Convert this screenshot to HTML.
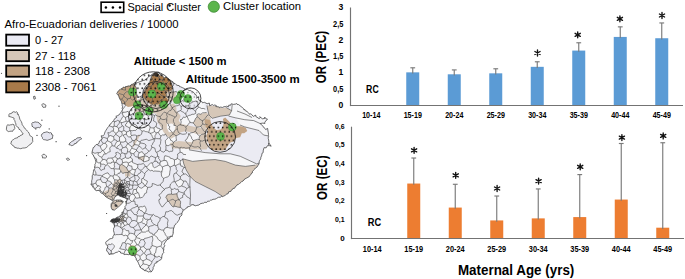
<!DOCTYPE html>
<html><head><meta charset="utf-8"><style>
html,body{margin:0;padding:0;background:#fff;}
svg{display:block;font-family:"Liberation Sans", sans-serif;}
</style></head><body>
<svg width="685" height="279" viewBox="0 0 685 279">
<rect width="685" height="279" fill="#fff"/>
<defs><clipPath id="land"><polygon points="156.5,72.3 158.8,72.0 159.5,73.7 160.8,74.7 161.9,75.2 162.5,75.9 164.3,78.0 166.0,77.1 167.2,77.9 168.2,78.4 168.9,79.3 170.6,80.2 171.5,81.1 173.0,81.8 173.7,83.4 175.0,83.4 175.8,84.4 177.0,85.3 179.2,85.6 179.6,86.7 180.6,86.8 182.3,87.6 184.0,88.4 185.0,89.0 185.1,89.6 187.2,89.0 189.1,90.6 190.1,90.4 191.7,91.3 193.0,91.9 194.5,93.3 194.9,94.5 195.7,94.4 197.0,96.9 196.6,98.2 198.4,96.8 198.9,100.1 201.2,101.3 201.5,101.2 202.5,102.8 203.3,102.6 204.4,102.3 207.1,103.7 207.1,103.8 209.3,103.0 209.7,105.8 212.3,104.5 213.5,105.4 214.7,105.0 216.3,105.5 215.8,106.5 219.3,107.0 219.7,107.8 220.7,107.0 222.3,107.5 224.2,106.6 225.8,106.7 226.4,106.0 228.4,106.8 228.8,105.1 230.5,105.3 231.1,103.8 233.6,104.4 235.8,104.0 236.6,103.5 237.1,104.4 238.6,104.6 241.9,107.2 242.4,107.5 243.3,108.3 244.0,109.9 244.9,109.5 245.3,110.7 247.1,111.4 247.4,112.1 250.1,114.4 250.5,113.7 251.4,114.3 253.3,116.4 255.7,115.1 255.8,116.5 257.0,117.2 259.1,118.7 260.2,117.7 259.7,116.7 262.5,118.8 264.8,118.4 264.7,117.1 266.0,118.8 267.5,119.3 266.7,119.9 264.8,122.2 264.9,123.5 262.8,123.1 260.3,123.5 261.5,124.8 263.1,126.4 262.8,126.5 265.1,128.5 265.6,129.5 267.6,128.4 268.3,132.9 268.5,134.6 268.2,136.1 268.7,136.7 268.0,138.1 268.4,138.7 268.8,141.1 269.0,144.2 268.1,144.1 269.3,143.6 271.2,146.2 269.2,145.6 267.4,145.7 266.1,147.9 264.8,147.7 264.1,147.6 263.1,151.0 263.3,152.4 262.3,152.9 261.9,154.1 261.6,155.9 260.9,157.1 260.7,158.9 260.0,160.0 259.6,160.5 259.2,161.8 259.1,163.6 258.3,165.1 257.4,166.0 257.2,167.0 255.7,167.8 254.8,169.0 253.4,170.4 252.5,171.4 252.5,172.7 251.7,172.9 251.1,174.1 250.1,175.4 249.4,176.5 248.0,177.3 246.4,178.2 244.5,179.1 244.1,180.0 242.5,181.3 242.5,180.9 240.9,182.5 239.3,183.7 238.7,184.3 237.4,184.5 236.5,186.0 235.5,186.5 234.7,188.2 232.9,188.5 232.3,189.7 231.2,190.3 230.9,191.4 228.7,191.8 228.0,193.9 226.9,193.8 226.1,194.5 225.7,195.1 223.7,196.1 222.7,196.6 221.3,196.4 220.4,197.2 218.4,197.3 216.7,198.3 216.1,198.8 214.8,199.2 213.0,199.3 211.7,200.1 210.5,200.2 209.3,201.3 207.7,201.1 206.6,202.5 204.8,202.2 203.5,203.2 202.2,203.2 200.1,203.9 200.1,203.9 199.0,205.0 196.8,205.4 195.8,205.8 193.7,205.2 193.7,204.7 191.5,204.7 191.2,205.5 189.8,206.3 187.3,206.9 187.2,207.9 186.2,208.2 184.5,209.7 183.7,209.6 182.9,211.1 182.1,212.7 181.7,214.0 182.0,214.9 180.9,216.1 179.7,217.0 179.4,219.3 178.7,220.4 178.0,221.7 176.9,222.7 176.1,223.5 175.5,224.7 174.4,225.4 174.2,226.9 173.4,229.0 173.3,230.1 173.1,232.6 173.3,232.4 173.0,234.1 172.2,235.8 172.3,236.6 170.6,236.1 169.9,237.9 168.9,238.7 166.9,239.8 165.3,242.1 164.7,243.0 164.0,244.4 164.8,245.7 163.9,247.1 163.7,248.4 163.8,249.4 163.4,251.3 163.9,252.3 162.6,253.8 161.9,255.7 161.8,257.1 161.6,258.5 160.7,259.9 159.3,260.3 158.6,261.2 156.5,261.7 157.1,262.6 155.1,263.2 154.3,264.5 154.2,266.0 153.1,267.6 153.2,268.8 152.3,270.7 151.1,272.0 149.8,271.6 148.2,272.1 147.3,271.1 145.5,270.7 144.4,270.6 143.7,269.7 142.7,269.2 141.7,268.5 140.1,267.3 139.5,265.2 139.2,265.0 138.6,263.6 138.0,262.0 137.1,260.5 136.3,260.0 136.1,257.9 134.8,256.7 134.7,255.5 134.0,255.4 131.7,255.6 131.3,255.1 129.4,254.4 128.4,254.7 127.0,254.3 125.2,254.4 124.3,254.5 122.9,253.4 120.6,253.0 120.4,251.8 118.6,251.2 117.4,252.2 116.0,252.4 114.3,253.4 112.9,254.1 112.2,253.9 110.4,254.2 109.0,254.4 108.3,252.4 106.8,251.2 106.6,249.8 107.1,248.1 107.9,246.9 107.2,245.6 106.0,244.2 105.7,242.3 106.4,241.4 108.6,240.1 109.4,238.9 111.7,238.5 112.9,238.0 113.0,236.4 114.0,235.1 114.3,233.7 114.1,232.7 113.5,230.6 113.6,229.4 113.6,228.4 114.5,227.0 114.3,225.0 112.9,222.9 111.6,222.1 110.3,221.5 111.5,219.5 113.4,218.8 114.8,218.8 116.0,218.0 117.0,217.1 118.6,217.1 120.0,215.5 122.1,214.4 121.9,212.3 122.9,212.2 123.7,210.8 123.9,209.7 125.1,207.9 125.0,206.4 126.3,205.1 126.0,202.8 125.5,201.5 126.9,201.1 126.9,199.2 128.5,199.0 126.0,198.5 124.8,197.8 123.0,197.2 121.0,196.6 120.0,196.3 118.1,194.7 116.5,195.7 115.4,196.7 114.3,197.9 113.8,200.0 112.2,200.6 111.4,200.0 110.0,199.0 109.1,198.8 106.8,197.4 106.0,197.0 104.7,195.7 104.2,194.9 102.5,193.6 100.9,192.9 100.4,192.1 99.3,190.4 97.9,190.4 96.6,190.7 95.0,189.8 94.2,188.5 93.2,187.5 92.3,185.9 91.1,184.7 91.4,183.3 91.7,182.8 91.7,180.7 92.1,179.3 92.3,178.0 92.2,175.8 92.9,174.7 93.2,172.9 93.5,171.2 93.5,170.2 94.8,168.6 94.5,167.0 95.0,165.9 94.9,164.4 95.5,163.4 96.0,162.0 95.4,159.9 95.3,159.6 94.3,157.3 93.6,156.1 93.3,154.9 92.0,153.9 92.1,151.9 92.3,151.0 92.9,148.9 93.2,147.6 94.2,147.2 95.0,145.8 96.2,144.5 97.5,144.4 98.8,143.6 99.1,142.7 99.5,141.1 100.7,140.1 102.2,139.1 101.2,135.8 102.9,135.8 104.5,134.3 104.5,133.4 105.2,131.6 105.9,130.4 107.1,128.5 107.8,127.4 108.9,126.3 109.8,124.5 111.0,123.7 111.5,122.7 112.8,121.5 113.6,120.6 114.7,118.6 116.8,117.3 115.8,116.4 117.7,115.6 118.9,115.0 120.2,113.3 120.7,112.6 121.3,111.7 122.6,109.7 122.1,108.7 122.6,106.7 122.2,105.7 122.2,104.4 121.6,102.8 121.3,101.1 120.5,100.1 119.7,98.8 119.3,97.9 118.7,95.9 117.6,94.6 116.7,93.9 117.7,91.9 118.4,90.8 120.0,89.6 120.7,88.9 122.5,88.4 123.2,87.1 124.6,87.4 125.8,86.5 126.3,86.6 129.1,85.8 129.8,86.2 131.4,84.4 132.2,84.3 133.5,83.8 134.7,82.5 136.4,82.8 137.5,82.6 138.7,82.2 140.3,81.5 140.9,81.4 143.0,80.5 144.3,80.2 144.7,80.2 146.2,79.0 146.9,78.6 148.1,77.5 148.9,76.1 150.9,75.6 151.5,74.7 152.8,73.9 154.2,72.9 154.8,72.8"/><polygon points="111.1,203.8 113.3,201.1 116.5,200.0 120.8,200.0 123.5,201.6 120.8,204.9 117.6,207.6 114.3,210.2 112.2,209.7 111.0,207.0"/></clipPath>
<pattern id="dots" x="1.9" y="0.2" width="4.35" height="8.7" patternUnits="userSpaceOnUse"><circle cx="1.1" cy="1.1" r="0.8" fill="#000"/><circle cx="3.275" cy="5.45" r="0.8" fill="#000"/></pattern></defs>
<polygon points="8.9,114.7 9.6,113.6 10.8,113.6 12.2,112.9 12.6,112.0 13.8,111.7 15.5,112.3 16.7,111.7 17.3,112.3 17.4,114.3 18.3,114.1 18.7,115.7 19.2,116.5 19.5,118.0 20.0,119.6 20.7,120.6 21.3,121.6 22.0,123.3 21.9,124.1 22.7,125.3 23.6,126.5 23.9,127.5 25.2,128.4 25.6,129.3 26.4,129.9 27.6,131.4 28.3,132.0 29.3,133.7 29.5,134.4 29.8,135.5 31.1,136.3 32.5,137.3 32.6,138.0 32.6,140.0 32.8,141.5 32.2,142.3 31.0,144.0 30.1,144.5 28.6,145.5 27.6,146.7 27.0,147.2 26.2,147.6 24.4,148.0 22.8,148.0 22.3,148.2 20.7,148.7 19.6,148.5 18.6,148.2 17.1,148.2 16.0,147.6 14.8,147.7 14.3,146.5 12.8,145.7 12.7,145.2 11.3,144.2 10.8,143.8 11.3,142.0 11.5,141.0 12.2,140.4 13.8,139.3 14.6,138.6 16.2,138.0 17.3,138.0 18.3,136.5 19.7,136.4 20.2,135.5 21.9,134.9 23.2,134.0 22.2,132.6 21.3,131.4 20.7,130.4 20.0,129.5 19.1,129.5 18.5,127.5 18.1,127.4 16.7,126.5 16.0,125.6 15.9,123.9 15.3,122.6 15.2,122.2 14.8,120.6 14.0,119.7 14.1,118.2 12.8,117.6 11.6,117.2 9.8,116.6 8.9,116.7" fill="#f0f0f2" stroke="#2e2e2e" stroke-width="0.65"/>
<polygon points="6.9,125.5 7.8,124.8 9.2,125.2 10.5,124.8 12.0,124.7 12.5,124.3 13.8,124.5 14.4,126.4 14.6,126.7 14.8,128.5 13.7,130.0 13.3,129.8 12.5,131.4 11.1,131.1 9.6,131.4 8.5,131.6 6.7,130.4 6.4,129.4 6.5,128.0 6.7,126.5" fill="#f0f0f2" stroke="#2e2e2e" stroke-width="0.65"/>
<polygon points="31.8,123.5 32.6,122.5 33.8,122.5 35.0,121.8 36.7,122.2 37.5,122.2 39.0,122.8 40.0,124.3 40.6,124.2 41.3,125.5 40.1,127.3 39.5,128.0 38.4,127.4 37.2,127.7 35.9,128.0 35.0,128.2 33.8,127.8 33.0,126.7 32.0,126.3 32.0,125.2" fill="#e6e6f0" stroke="#2e2e2e" stroke-width="0.65"/>
<polygon points="41.4,135.5 41.8,134.1 42.7,133.7 43.5,132.6 45.2,132.4 46.0,131.9 47.5,132.0 49.3,132.9 50.5,132.6 51.4,133.0 51.8,134.8 53.0,135.0 52.9,135.6 52.6,136.9 52.4,138.5 51.1,138.8 50.0,139.5 49.1,139.6 48.0,140.2 47.0,140.3 45.2,139.8 44.3,139.7 43.5,139.6 42.5,138.6 42.4,137.4 41.6,136.4" fill="#e6e6f0" stroke="#2e2e2e" stroke-width="0.65"/>
<polygon points="68.9,144.8 70.1,144.8 71.9,145.8 72.8,145.3 74.3,144.5 74.6,143.5 76.1,143.6 76.9,141.9 77.4,142.2 78.8,140.4 79.7,139.9 80.5,139.4 81.7,138.9 80.4,137.3 79.0,137.8 78.0,137.7 76.8,138.2 75.9,139.3 74.2,139.7 73.8,140.6 72.5,141.1 71.3,141.8 70.8,142.3 69.8,143.0" fill="#e6e6f0" stroke="#2e2e2e" stroke-width="0.65"/>
<polygon points="41.8,104.8 42.6,103.8 44.0,103.8 44.9,104.6 46.0,105.2 45.5,107.3 44.6,107.3 43.0,107.3 42.2,105.8" fill="#f0f0f2" stroke="#2e2e2e" stroke-width="0.65"/>
<polygon points="33.5,96.5 35.0,96.2 35.0,96.9 35.6,98.5 34.0,99.3 33.7,98.0" fill="#f0f0f2" stroke="#2e2e2e" stroke-width="0.65"/>
<polygon points="42.0,155.3 43.0,154.3 44.5,154.3 45.5,155.3 46.6,156.0 46.4,157.1 45.5,158.2 43.8,157.8 42.5,158.0 42.5,157.2" fill="#f0f0f2" stroke="#2e2e2e" stroke-width="0.65"/>
<polygon points="66.3,158.8 67.1,158.1 68.5,158.3 69.6,159.6 68.5,160.1 67.5,160.4" fill="#f0f0f2" stroke="#2e2e2e" stroke-width="0.65"/>
<circle cx="59" cy="106.2" r="0.6" fill="#333"/>
<circle cx="41.9" cy="120.2" r="0.6" fill="#333"/>
<circle cx="35.8" cy="128.9" r="0.6" fill="#333"/>
<circle cx="37" cy="135.4" r="0.6" fill="#333"/>
<circle cx="56.1" cy="141.7" r="0.6" fill="#333"/>
<circle cx="49.2" cy="128.9" r="0.6" fill="#333"/>
<circle cx="86.6" cy="155.6" r="0.6" fill="#333"/>
<circle cx="106.6" cy="213.5" r="0.6" fill="#333"/>
<polygon points="156.5,72.3 158.8,72.0 159.5,73.7 160.8,74.7 161.9,75.2 162.5,75.9 164.3,78.0 166.0,77.1 167.2,77.9 168.2,78.4 168.9,79.3 170.6,80.2 171.5,81.1 173.0,81.8 173.7,83.4 175.0,83.4 175.8,84.4 177.0,85.3 179.2,85.6 179.6,86.7 180.6,86.8 182.3,87.6 184.0,88.4 185.0,89.0 185.1,89.6 187.2,89.0 189.1,90.6 190.1,90.4 191.7,91.3 193.0,91.9 194.5,93.3 194.9,94.5 195.7,94.4 197.0,96.9 196.6,98.2 198.4,96.8 198.9,100.1 201.2,101.3 201.5,101.2 202.5,102.8 203.3,102.6 204.4,102.3 207.1,103.7 207.1,103.8 209.3,103.0 209.7,105.8 212.3,104.5 213.5,105.4 214.7,105.0 216.3,105.5 215.8,106.5 219.3,107.0 219.7,107.8 220.7,107.0 222.3,107.5 224.2,106.6 225.8,106.7 226.4,106.0 228.4,106.8 228.8,105.1 230.5,105.3 231.1,103.8 233.6,104.4 235.8,104.0 236.6,103.5 237.1,104.4 238.6,104.6 241.9,107.2 242.4,107.5 243.3,108.3 244.0,109.9 244.9,109.5 245.3,110.7 247.1,111.4 247.4,112.1 250.1,114.4 250.5,113.7 251.4,114.3 253.3,116.4 255.7,115.1 255.8,116.5 257.0,117.2 259.1,118.7 260.2,117.7 259.7,116.7 262.5,118.8 264.8,118.4 264.7,117.1 266.0,118.8 267.5,119.3 266.7,119.9 264.8,122.2 264.9,123.5 262.8,123.1 260.3,123.5 261.5,124.8 263.1,126.4 262.8,126.5 265.1,128.5 265.6,129.5 267.6,128.4 268.3,132.9 268.5,134.6 268.2,136.1 268.7,136.7 268.0,138.1 268.4,138.7 268.8,141.1 269.0,144.2 268.1,144.1 269.3,143.6 271.2,146.2 269.2,145.6 267.4,145.7 266.1,147.9 264.8,147.7 264.1,147.6 263.1,151.0 263.3,152.4 262.3,152.9 261.9,154.1 261.6,155.9 260.9,157.1 260.7,158.9 260.0,160.0 259.6,160.5 259.2,161.8 259.1,163.6 258.3,165.1 257.4,166.0 257.2,167.0 255.7,167.8 254.8,169.0 253.4,170.4 252.5,171.4 252.5,172.7 251.7,172.9 251.1,174.1 250.1,175.4 249.4,176.5 248.0,177.3 246.4,178.2 244.5,179.1 244.1,180.0 242.5,181.3 242.5,180.9 240.9,182.5 239.3,183.7 238.7,184.3 237.4,184.5 236.5,186.0 235.5,186.5 234.7,188.2 232.9,188.5 232.3,189.7 231.2,190.3 230.9,191.4 228.7,191.8 228.0,193.9 226.9,193.8 226.1,194.5 225.7,195.1 223.7,196.1 222.7,196.6 221.3,196.4 220.4,197.2 218.4,197.3 216.7,198.3 216.1,198.8 214.8,199.2 213.0,199.3 211.7,200.1 210.5,200.2 209.3,201.3 207.7,201.1 206.6,202.5 204.8,202.2 203.5,203.2 202.2,203.2 200.1,203.9 200.1,203.9 199.0,205.0 196.8,205.4 195.8,205.8 193.7,205.2 193.7,204.7 191.5,204.7 191.2,205.5 189.8,206.3 187.3,206.9 187.2,207.9 186.2,208.2 184.5,209.7 183.7,209.6 182.9,211.1 182.1,212.7 181.7,214.0 182.0,214.9 180.9,216.1 179.7,217.0 179.4,219.3 178.7,220.4 178.0,221.7 176.9,222.7 176.1,223.5 175.5,224.7 174.4,225.4 174.2,226.9 173.4,229.0 173.3,230.1 173.1,232.6 173.3,232.4 173.0,234.1 172.2,235.8 172.3,236.6 170.6,236.1 169.9,237.9 168.9,238.7 166.9,239.8 165.3,242.1 164.7,243.0 164.0,244.4 164.8,245.7 163.9,247.1 163.7,248.4 163.8,249.4 163.4,251.3 163.9,252.3 162.6,253.8 161.9,255.7 161.8,257.1 161.6,258.5 160.7,259.9 159.3,260.3 158.6,261.2 156.5,261.7 157.1,262.6 155.1,263.2 154.3,264.5 154.2,266.0 153.1,267.6 153.2,268.8 152.3,270.7 151.1,272.0 149.8,271.6 148.2,272.1 147.3,271.1 145.5,270.7 144.4,270.6 143.7,269.7 142.7,269.2 141.7,268.5 140.1,267.3 139.5,265.2 139.2,265.0 138.6,263.6 138.0,262.0 137.1,260.5 136.3,260.0 136.1,257.9 134.8,256.7 134.7,255.5 134.0,255.4 131.7,255.6 131.3,255.1 129.4,254.4 128.4,254.7 127.0,254.3 125.2,254.4 124.3,254.5 122.9,253.4 120.6,253.0 120.4,251.8 118.6,251.2 117.4,252.2 116.0,252.4 114.3,253.4 112.9,254.1 112.2,253.9 110.4,254.2 109.0,254.4 108.3,252.4 106.8,251.2 106.6,249.8 107.1,248.1 107.9,246.9 107.2,245.6 106.0,244.2 105.7,242.3 106.4,241.4 108.6,240.1 109.4,238.9 111.7,238.5 112.9,238.0 113.0,236.4 114.0,235.1 114.3,233.7 114.1,232.7 113.5,230.6 113.6,229.4 113.6,228.4 114.5,227.0 114.3,225.0 112.9,222.9 111.6,222.1 110.3,221.5 111.5,219.5 113.4,218.8 114.8,218.8 116.0,218.0 117.0,217.1 118.6,217.1 120.0,215.5 122.1,214.4 121.9,212.3 122.9,212.2 123.7,210.8 123.9,209.7 125.1,207.9 125.0,206.4 126.3,205.1 126.0,202.8 125.5,201.5 126.9,201.1 126.9,199.2 128.5,199.0 126.0,198.5 124.8,197.8 123.0,197.2 121.0,196.6 120.0,196.3 118.1,194.7 116.5,195.7 115.4,196.7 114.3,197.9 113.8,200.0 112.2,200.6 111.4,200.0 110.0,199.0 109.1,198.8 106.8,197.4 106.0,197.0 104.7,195.7 104.2,194.9 102.5,193.6 100.9,192.9 100.4,192.1 99.3,190.4 97.9,190.4 96.6,190.7 95.0,189.8 94.2,188.5 93.2,187.5 92.3,185.9 91.1,184.7 91.4,183.3 91.7,182.8 91.7,180.7 92.1,179.3 92.3,178.0 92.2,175.8 92.9,174.7 93.2,172.9 93.5,171.2 93.5,170.2 94.8,168.6 94.5,167.0 95.0,165.9 94.9,164.4 95.5,163.4 96.0,162.0 95.4,159.9 95.3,159.6 94.3,157.3 93.6,156.1 93.3,154.9 92.0,153.9 92.1,151.9 92.3,151.0 92.9,148.9 93.2,147.6 94.2,147.2 95.0,145.8 96.2,144.5 97.5,144.4 98.8,143.6 99.1,142.7 99.5,141.1 100.7,140.1 102.2,139.1 101.2,135.8 102.9,135.8 104.5,134.3 104.5,133.4 105.2,131.6 105.9,130.4 107.1,128.5 107.8,127.4 108.9,126.3 109.8,124.5 111.0,123.7 111.5,122.7 112.8,121.5 113.6,120.6 114.7,118.6 116.8,117.3 115.8,116.4 117.7,115.6 118.9,115.0 120.2,113.3 120.7,112.6 121.3,111.7 122.6,109.7 122.1,108.7 122.6,106.7 122.2,105.7 122.2,104.4 121.6,102.8 121.3,101.1 120.5,100.1 119.7,98.8 119.3,97.9 118.7,95.9 117.6,94.6 116.7,93.9 117.7,91.9 118.4,90.8 120.0,89.6 120.7,88.9 122.5,88.4 123.2,87.1 124.6,87.4 125.8,86.5 126.3,86.6 129.1,85.8 129.8,86.2 131.4,84.4 132.2,84.3 133.5,83.8 134.7,82.5 136.4,82.8 137.5,82.6 138.7,82.2 140.3,81.5 140.9,81.4 143.0,80.5 144.3,80.2 144.7,80.2 146.2,79.0 146.9,78.6 148.1,77.5 148.9,76.1 150.9,75.6 151.5,74.7 152.8,73.9 154.2,72.9 154.8,72.8" fill="#ebebf3"/>
<g clip-path="url(#land)">
<polygon points="107.3,164.6 110.9,168.6 113.7,168.6 114.8,162.7 113.8,162.2 107.6,163.9 107.3,164.6" fill="#f6f6f8" stroke="#f6f6f8" stroke-width="0.3"/>
<polygon points="165.5,130.8 165.3,133.8 168.1,137.7 169.0,137.7 173.0,133.9 173.0,133.6 168.9,129.0 165.5,130.8" fill="#f6f6f8" stroke="#f6f6f8" stroke-width="0.3"/>
<polygon points="130.3,244.4 132.9,248.0 136.9,244.7 133.8,240.3 132.6,240.5 130.3,244.4" fill="#f6f6f8" stroke="#f6f6f8" stroke-width="0.3"/>
<polygon points="170.5,236.4 170.6,236.1 170.9,236.2 172.4,235.5 173.0,234.1 173.3,232.4 173.1,232.6 173.3,230.1 173.4,229.0 173.7,228.4 167.1,227.4 163.8,230.1 167.4,238.1 170.5,236.4" fill="#f6f6f8" stroke="#f6f6f8" stroke-width="0.3"/>
<polygon points="153.1,97.4 151.5,102.2 153.3,105.5 158.7,102.9 158.8,101.4 154.8,96.5 153.1,97.4" fill="#f6f6f8" stroke="#f6f6f8" stroke-width="0.3"/>
<polygon points="114.1,169.0 114.3,174.9 116.7,175.0 120.8,171.1 120.7,170.6 119.4,169.0 114.1,169.0" fill="#f6f6f8" stroke="#f6f6f8" stroke-width="0.3"/>
<polygon points="202.6,120.6 208.5,115.0 206.5,112.5 196.9,114.5 197.2,116.8 202.6,120.6" fill="#d6c7b8" stroke="#d6c7b8" stroke-width="0.3"/>
<polygon points="138.3,192.7 139.9,197.7 140.2,197.9 143.9,195.8 144.7,193.6 141.8,191.0 138.3,192.7" fill="#f6f6f8" stroke="#f6f6f8" stroke-width="0.3"/>
<polygon points="129.4,197.6 131.3,201.4 133.5,201.2 135.3,197.9 133.7,194.6 132.7,194.1 131.1,194.3 129.7,196.1 129.6,196.5 129.4,197.6" fill="#f6f6f8" stroke="#f6f6f8" stroke-width="0.3"/>
<polygon points="185.6,127.1 190.0,122.5 186.9,116.6 186.6,116.4 180.5,119.5 180.6,124.9 185.6,127.1" fill="#f6f6f8" stroke="#f6f6f8" stroke-width="0.3"/>
<polygon points="111.3,252.9 113.0,254.0 114.3,253.4 116.0,252.4 117.4,252.2 118.6,251.2 118.9,251.3 119.5,248.6 114.4,246.2 111.3,251.5 111.3,252.9" fill="#f6f6f8" stroke="#f6f6f8" stroke-width="0.3"/>
<polygon points="102.5,193.6 102.5,193.6 104.2,194.9 104.7,195.7 106.0,197.0 106.5,197.3 106.8,196.6 105.4,193.5 103.1,192.7 102.5,193.6" fill="#f6f6f8" stroke="#f6f6f8" stroke-width="0.3"/>
<polygon points="163.8,249.5 163.8,249.4 163.7,248.4 163.9,247.1 164.8,245.7 164.0,244.4 164.7,243.0 165.3,242.1 166.9,239.8 168.2,239.1 167.4,238.1 162.0,242.4 160.7,246.1 163.8,249.5" fill="#f6f6f8" stroke="#f6f6f8" stroke-width="0.3"/>
<polygon points="131.8,146.8 128.2,143.9 127.6,143.8 125.6,147.1 127.4,151.8 129.8,151.9 132.0,148.0 131.8,146.8" fill="#f6f6f8" stroke="#f6f6f8" stroke-width="0.3"/>
<polygon points="125.4,250.2 124.3,254.4 125.2,254.4 127.0,254.3 128.4,254.7 129.4,254.4 129.6,254.5 131.9,250.9 126.1,249.6 125.4,250.2" fill="#f6f6f8" stroke="#f6f6f8" stroke-width="0.3"/>
<polygon points="141.8,188.2 141.8,191.0 144.7,193.6 146.6,192.8 147.6,187.4 145.4,185.7 145.4,185.7 141.8,188.2" fill="#f6f6f8" stroke="#f6f6f8" stroke-width="0.3"/>
<polygon points="198.5,107.1 205.3,109.1 203.6,102.5 203.3,102.6 202.5,102.8 201.5,101.2 201.2,101.3 200.0,100.7 197.8,101.8 198.5,107.1" fill="#f6f6f8" stroke="#f6f6f8" stroke-width="0.3"/>
<polygon points="112.2,243.6 114.2,245.6 119.5,241.0 115.8,237.7 111.7,240.8 112.2,243.6" fill="#f6f6f8" stroke="#f6f6f8" stroke-width="0.3"/>
<polygon points="137.5,115.5 137.6,115.7 141.1,118.0 141.8,117.9 144.1,113.8 143.9,112.7 139.9,112.2 137.5,115.5" fill="#f6f6f8" stroke="#f6f6f8" stroke-width="0.3"/>
<polygon points="132.2,169.1 135.1,169.8 137.6,167.9 137.1,164.6 136.6,164.0 135.5,163.7 131.8,166.1 132.2,169.1" fill="#f6f6f8" stroke="#f6f6f8" stroke-width="0.3"/>
<polygon points="144.1,270.1 144.4,270.6 144.8,270.6 144.8,270.6 144.1,270.1" fill="#f6f6f8" stroke="#f6f6f8" stroke-width="0.3"/>
<polygon points="114.7,179.8 118.0,180.5 119.8,179.2 119.8,177.5 116.7,175.0 114.3,174.9 113.0,176.1 113.7,178.9 114.7,179.8" fill="#f6f6f8" stroke="#f6f6f8" stroke-width="0.3"/>
<polygon points="175.7,200.8 178.8,199.8 176.9,193.8 172.2,194.5 172.9,199.2 175.7,200.8" fill="#d6c7b8" stroke="#d6c7b8" stroke-width="0.3"/>
<polygon points="186.1,98.5 189.5,103.4 195.7,101.1 193.0,93.0 191.2,93.1 186.1,98.5" fill="#f6f6f8" stroke="#f6f6f8" stroke-width="0.3"/>
<polygon points="158.3,132.4 160.9,136.1 165.3,133.8 165.5,130.8 162.4,129.1 160.1,129.8 158.3,132.4" fill="#f6f6f8" stroke="#f6f6f8" stroke-width="0.3"/>
<polygon points="128.7,230.7 122.4,229.3 122.1,234.5 122.4,234.9 127.6,236.0 129.2,233.8 128.7,230.7" fill="#f6f6f8" stroke="#f6f6f8" stroke-width="0.3"/>
<polygon points="125.7,105.3 127.2,106.0 132.7,103.2 132.4,100.0 130.4,98.2 127.7,98.9 124.8,103.9 125.7,105.3" fill="#f6f6f8" stroke="#f6f6f8" stroke-width="0.3"/>
<polygon points="123.4,116.2 125.4,117.5 130.1,114.7 128.1,111.3 122.1,113.3 122.1,113.3 123.4,116.2" fill="#f6f6f8" stroke="#f6f6f8" stroke-width="0.3"/>
<polygon points="119.4,91.1 121.3,89.2 121.3,88.7 120.7,88.9 120.0,89.6 118.6,90.6 119.4,91.1" fill="#f6f6f8" stroke="#f6f6f8" stroke-width="0.3"/>
<polygon points="122.7,185.3 122.7,185.3 124.4,186.7 125.1,186.5 125.1,186.1 124.5,185.1 123.1,184.9 122.7,185.3" fill="#f6f6f8" stroke="#f6f6f8" stroke-width="0.3"/>
<polygon points="199.7,136.3 205.2,132.4 200.8,126.3 196.8,127.1 195.1,131.3 199.7,136.3" fill="#f6f6f8" stroke="#f6f6f8" stroke-width="0.3"/>
<polygon points="144.6,154.3 142.2,151.6 139.2,152.7 138.2,157.2 138.4,157.5 144.4,156.1 144.7,155.8 144.6,154.3" fill="#f6f6f8" stroke="#f6f6f8" stroke-width="0.3"/>
<polygon points="190.4,146.1 190.5,146.0 193.3,140.5 189.4,133.9 188.4,133.7 186.0,141.7 190.4,146.1" fill="#f6f6f8" stroke="#f6f6f8" stroke-width="0.3"/>
<polygon points="128.3,121.4 127.2,121.4 125.7,126.0 129.7,128.0 131.6,125.1 128.3,121.4" fill="#f6f6f8" stroke="#f6f6f8" stroke-width="0.3"/>
<polygon points="143.1,263.8 140.0,267.1 140.1,267.3 141.7,268.5 142.7,269.2 143.7,269.7 144.1,270.1 144.8,270.6 148.6,267.5 149.0,265.7 143.1,263.8" fill="#f6f6f8" stroke="#f6f6f8" stroke-width="0.3"/>
<polygon points="139.2,100.8 135.5,98.4 132.4,100.0 132.7,103.2 135.0,105.2 136.9,104.5 139.2,100.8" fill="#f6f6f8" stroke="#f6f6f8" stroke-width="0.3"/>
<polygon points="162.0,242.4 167.4,238.1 167.4,238.1 163.8,230.1 159.2,229.0 154.1,234.8 162.0,242.4" fill="#f6f6f8" stroke="#f6f6f8" stroke-width="0.3"/>
<polygon points="135.4,253.7 134.7,255.5 134.8,256.7 136.1,257.9 136.3,260.0 137.1,260.5 137.3,260.9 140.2,258.8 140.1,256.3 135.4,253.7" fill="#f6f6f8" stroke="#f6f6f8" stroke-width="0.3"/>
<polygon points="180.6,160.5 177.2,158.1 174.4,159.8 174.2,165.2 175.2,165.7 180.4,164.0 180.6,160.5" fill="#f6f6f8" stroke="#f6f6f8" stroke-width="0.3"/>
<polygon points="169.8,166.6 174.2,165.2 174.4,159.8 170.4,158.3 167.6,163.1 167.9,165.2 169.8,166.6" fill="#f6f6f8" stroke="#f6f6f8" stroke-width="0.3"/>
<polygon points="150.3,133.2 153.6,139.0 154.1,139.1 154.4,139.0 156.3,132.8 154.5,131.6 150.3,133.2" fill="#f6f6f8" stroke="#f6f6f8" stroke-width="0.3"/>
<polygon points="146.7,249.4 143.7,246.4 140.6,247.4 140.2,249.3 143.2,253.7 144.3,253.7 146.7,249.4" fill="#f6f6f8" stroke="#f6f6f8" stroke-width="0.3"/>
<polygon points="119.3,221.9 117.5,223.9 117.2,225.7 120.9,227.8 121.0,224.5 119.3,221.9" fill="#f6f6f8" stroke="#f6f6f8" stroke-width="0.3"/>
<polygon points="161.8,171.3 162.0,171.5 169.7,172.2 169.8,166.6 167.9,165.2 162.3,167.0 161.8,171.3" fill="#f6f6f8" stroke="#f6f6f8" stroke-width="0.3"/>
<polygon points="146.2,224.9 148.5,219.7 143.7,217.4 141.5,222.1 145.9,224.9 146.2,224.9" fill="#f6f6f8" stroke="#f6f6f8" stroke-width="0.3"/>
<polygon points="100.5,190.9 99.7,186.0 98.6,185.8 94.9,189.6 95.0,189.8 96.6,190.7 97.9,190.4 99.3,190.4 99.7,191.0 100.5,190.9" fill="#f6f6f8" stroke="#f6f6f8" stroke-width="0.3"/>
<polygon points="166.6,122.3 166.8,120.3 160.5,118.6 158.7,122.4 162.4,124.8 166.6,122.3" fill="#f6f6f8" stroke="#f6f6f8" stroke-width="0.3"/>
<polygon points="142.4,106.9 142.2,106.1 136.9,104.5 135.0,105.2 135.2,108.7 138.8,109.7 142.4,106.9" fill="#d6c7b8" stroke="#d6c7b8" stroke-width="0.3"/>
<polygon points="100.7,185.5 102.0,182.1 100.7,179.5 96.8,180.3 95.8,183.1 98.6,185.8 99.7,186.0 100.7,185.5" fill="#f6f6f8" stroke="#f6f6f8" stroke-width="0.3"/>
<polygon points="103.1,192.7 103.0,192.6 100.5,190.9 99.7,191.0 100.4,192.1 100.9,192.9 102.5,193.6 103.1,192.7" fill="#f6f6f8" stroke="#f6f6f8" stroke-width="0.3"/>
<polygon points="114.1,139.7 113.6,136.7 108.9,136.1 107.4,138.6 107.6,140.9 111.1,142.5 114.1,139.7" fill="#f6f6f8" stroke="#f6f6f8" stroke-width="0.3"/>
<polygon points="180.2,179.1 175.1,181.9 178.6,187.0 181.6,186.0 183.3,181.2 180.2,179.1" fill="#f6f6f8" stroke="#f6f6f8" stroke-width="0.3"/>
<polygon points="154.5,167.7 152.2,163.1 150.8,162.7 146.9,166.7 148.7,169.5 153.5,171.4 153.8,171.1 154.5,167.7" fill="#f6f6f8" stroke="#f6f6f8" stroke-width="0.3"/>
<polygon points="100.7,163.9 100.2,162.9 96.7,161.6 96.0,162.1 95.5,163.4 94.9,164.4 95.0,165.9 94.5,167.0 94.6,167.4 99.4,168.0 100.7,163.9" fill="#f6f6f8" stroke="#f6f6f8" stroke-width="0.3"/>
<polygon points="127.3,198.3 125.6,197.1 125.1,198.0 126.0,198.5 126.6,198.6 127.2,198.5 127.3,198.3" fill="#f6f6f8" stroke="#f6f6f8" stroke-width="0.3"/>
<polygon points="120.7,170.6 120.8,171.1 122.7,173.4 128.1,172.5 128.5,172.0 128.6,171.7 126.5,167.8 126.2,167.8 120.7,170.6" fill="#d6c7b8" stroke="#d6c7b8" stroke-width="0.3"/>
<polygon points="127.9,237.8 127.6,236.0 122.4,234.9 120.7,241.1 122.6,242.7 124.9,242.8 127.9,237.8" fill="#f6f6f8" stroke="#f6f6f8" stroke-width="0.3"/>
<polygon points="143.2,253.7 140.1,256.3 140.2,258.8 143.1,260.8 146.6,259.0 146.4,255.4 144.3,253.7 143.2,253.7" fill="#f6f6f8" stroke="#f6f6f8" stroke-width="0.3"/>
<polygon points="102.9,150.5 102.3,150.3 98.4,152.7 99.4,156.3 101.7,157.2 105.5,154.0 102.9,150.5" fill="#f6f6f8" stroke="#f6f6f8" stroke-width="0.3"/>
<polygon points="135.4,124.4 131.6,125.1 129.7,128.0 129.8,130.6 129.9,130.6 135.5,130.6 137.5,128.3 135.4,124.4" fill="#f6f6f8" stroke="#f6f6f8" stroke-width="0.3"/>
<polygon points="119.4,184.9 119.0,185.3 119.1,185.8 120.0,186.9 120.6,186.9 120.9,186.4 120.5,185.0 119.4,184.9" fill="#f6f6f8" stroke="#f6f6f8" stroke-width="0.3"/>
<polygon points="131.5,135.5 129.9,130.6 129.8,130.6 126.6,131.9 126.3,134.1 128.5,137.1 130.5,136.8 131.5,135.5" fill="#f6f6f8" stroke="#f6f6f8" stroke-width="0.3"/>
<polygon points="126.7,91.8 129.7,92.0 130.7,85.3 130.6,85.3 129.8,86.2 129.1,85.8 126.3,86.6 125.9,86.5 125.5,90.2 126.7,91.8" fill="#f6f6f8" stroke="#f6f6f8" stroke-width="0.3"/>
<polygon points="176.2,116.6 176.9,113.1 172.0,108.3 167.4,113.0 175.0,117.1 176.2,116.6" fill="#f6f6f8" stroke="#f6f6f8" stroke-width="0.3"/>
<polygon points="110.5,221.1 110.3,221.5 110.5,221.6 110.5,221.1" fill="#f6f6f8" stroke="#f6f6f8" stroke-width="0.3"/>
<polygon points="112.1,145.7 111.1,142.5 107.6,140.9 105.3,143.4 106.7,147.2 109.6,148.0 112.1,145.7" fill="#f6f6f8" stroke="#f6f6f8" stroke-width="0.3"/>
<polygon points="119.7,121.6 121.2,122.5 126.7,121.0 125.4,117.5 123.4,116.2 119.5,121.3 119.7,121.6" fill="#f6f6f8" stroke="#f6f6f8" stroke-width="0.3"/>
<polygon points="128.6,171.7 128.5,172.0 134.3,175.3 134.6,175.3 135.1,169.8 132.2,169.1 128.6,171.7" fill="#f6f6f8" stroke="#f6f6f8" stroke-width="0.3"/>
<polygon points="202.6,120.6 202.7,123.9 207.6,124.7 211.0,118.0 208.5,115.0 202.6,120.6" fill="#d6c7b8" stroke="#d6c7b8" stroke-width="0.3"/>
<polygon points="180.2,147.7 180.2,152.3 186.0,154.6 189.6,150.4 189.6,147.8 181.0,146.9 180.2,147.7" fill="#f6f6f8" stroke="#f6f6f8" stroke-width="0.3"/>
<polygon points="183.0,91.8 182.6,95.3 185.0,98.2 186.1,98.5 191.2,93.1 187.0,89.4 183.0,91.8" fill="#f6f6f8" stroke="#f6f6f8" stroke-width="0.3"/>
<polygon points="150.2,127.1 148.8,125.1 146.3,125.4 144.0,130.7 148.7,132.5 150.2,127.1" fill="#f6f6f8" stroke="#f6f6f8" stroke-width="0.3"/>
<polygon points="102.5,159.8 100.2,162.9 100.7,163.9 105.9,165.4 107.3,164.6 107.6,163.9 106.7,160.4 102.5,159.8" fill="#f6f6f8" stroke="#f6f6f8" stroke-width="0.3"/>
<polygon points="98.4,152.7 97.9,152.5 94.9,153.3 93.9,156.7 94.3,157.2 96.5,158.9 99.4,156.3 98.4,152.7" fill="#f6f6f8" stroke="#f6f6f8" stroke-width="0.3"/>
<polygon points="126.1,214.0 123.9,213.2 122.1,214.3 122.3,214.9 124.2,215.3 126.1,214.0" fill="#f6f6f8" stroke="#f6f6f8" stroke-width="0.3"/>
<polygon points="112.2,219.2 111.5,219.5 110.8,220.6 112.5,220.3 112.5,219.5 112.2,219.2" fill="#f6f6f8" stroke="#f6f6f8" stroke-width="0.3"/>
<polygon points="112.2,243.6 111.7,240.8 109.2,239.1 108.6,240.1 106.4,241.4 105.7,242.3 106.0,244.2 107.2,245.5 112.2,243.6" fill="#f6f6f8" stroke="#f6f6f8" stroke-width="0.3"/>
<polygon points="168.3,201.3 172.9,199.2 172.2,194.5 171.6,194.1 167.1,195.0 165.9,197.4 167.6,201.2 168.3,201.3" fill="#d6c7b8" stroke="#d6c7b8" stroke-width="0.3"/>
<polygon points="157.0,247.2 152.7,245.7 149.3,249.1 150.7,254.0 154.7,256.0 154.7,256.0 157.0,247.2" fill="#f6f6f8" stroke="#f6f6f8" stroke-width="0.3"/>
<polygon points="144.1,113.8 141.8,117.9 144.5,119.6 148.1,118.8 148.3,116.1 144.1,113.8" fill="#f6f6f8" stroke="#f6f6f8" stroke-width="0.3"/>
<polygon points="147.8,107.2 142.8,107.3 144.1,112.2 149.3,109.8 149.7,108.9 147.8,107.2" fill="#f6f6f8" stroke="#f6f6f8" stroke-width="0.3"/>
<polygon points="118.0,95.1 118.7,95.9 119.3,97.9 119.7,98.8 120.1,99.6 122.1,99.4 123.9,96.3 123.7,95.2 119.5,93.7 118.0,95.1" fill="#c2a383" stroke="#c2a383" stroke-width="0.3"/>
<polygon points="111.1,182.3 111.4,183.5 113.8,185.1 115.1,183.2 114.7,179.8 113.7,178.9 111.1,182.3" fill="#f6f6f8" stroke="#f6f6f8" stroke-width="0.3"/>
<polygon points="145.4,185.7 145.4,185.7 147.3,181.1 143.2,178.2 141.7,178.9 141.6,182.5 145.4,185.7" fill="#f6f6f8" stroke="#f6f6f8" stroke-width="0.3"/>
<polygon points="130.7,115.0 134.4,113.0 134.8,109.2 128.5,109.6 128.1,111.3 130.1,114.7 130.7,115.0" fill="#f6f6f8" stroke="#f6f6f8" stroke-width="0.3"/>
<polygon points="136.4,189.4 133.6,189.5 132.7,194.1 133.7,194.6 138.0,192.6 136.4,189.4" fill="#f6f6f8" stroke="#f6f6f8" stroke-width="0.3"/>
<polygon points="165.5,130.8 168.9,129.0 169.9,126.7 166.6,122.3 162.4,124.8 162.4,129.1 165.5,130.8" fill="#f6f6f8" stroke="#f6f6f8" stroke-width="0.3"/>
<polygon points="132.4,160.8 132.4,158.9 130.0,157.2 126.8,158.3 127.2,162.0 128.2,163.1 132.4,160.8" fill="#f6f6f8" stroke="#f6f6f8" stroke-width="0.3"/>
<polygon points="193.1,122.9 197.2,116.8 196.9,114.5 195.9,113.2 186.9,116.6 190.0,122.5 193.1,122.9" fill="#f6f6f8" stroke="#f6f6f8" stroke-width="0.3"/>
<polygon points="127.2,162.0 122.6,162.8 121.8,164.3 126.2,167.8 126.5,167.8 128.4,164.9 128.2,163.1 127.2,162.0" fill="#f6f6f8" stroke="#f6f6f8" stroke-width="0.3"/>
<polygon points="160.1,164.8 154.5,167.7 153.8,171.1 161.8,171.3 162.3,167.0 160.1,164.8" fill="#f6f6f8" stroke="#f6f6f8" stroke-width="0.3"/>
<polygon points="126.1,249.6 131.9,250.9 132.4,250.7 132.9,248.0 130.3,244.4 126.1,244.1 126.1,249.6" fill="#f6f6f8" stroke="#f6f6f8" stroke-width="0.3"/>
<polygon points="111.1,182.3 113.7,178.9 113.0,176.1 110.3,175.8 107.3,178.9 107.3,180.7 111.1,182.3" fill="#f6f6f8" stroke="#f6f6f8" stroke-width="0.3"/>
<polygon points="141.8,231.6 142.6,232.2 148.7,230.8 148.6,226.9 146.2,224.9 145.9,224.9 141.1,230.0 141.8,231.6" fill="#f6f6f8" stroke="#f6f6f8" stroke-width="0.3"/>
<polygon points="95.3,175.3 95.7,174.8 96.0,173.0 93.8,169.7 93.5,170.2 93.5,171.2 93.2,172.9 92.9,174.7 95.3,175.3" fill="#f6f6f8" stroke="#f6f6f8" stroke-width="0.3"/>
<polygon points="138.3,92.6 137.4,91.7 130.6,92.7 130.4,98.2 132.4,100.0 135.5,98.4 138.3,92.6" fill="#c2a383" stroke="#c2a383" stroke-width="0.3"/>
<polygon points="109.6,148.0 106.7,147.2 102.9,150.5 105.5,154.0 106.0,154.1 110.3,151.6 109.6,148.0" fill="#f6f6f8" stroke="#f6f6f8" stroke-width="0.3"/>
<polygon points="111.3,252.9 108.9,254.2 109.0,254.4 110.4,254.2 112.2,253.9 112.9,254.1 113.0,254.0 111.3,252.9" fill="#f6f6f8" stroke="#f6f6f8" stroke-width="0.3"/>
<polygon points="167.9,165.2 167.6,163.1 164.1,160.4 160.6,161.7 159.9,163.1 160.1,164.8 162.3,167.0 167.9,165.2" fill="#f6f6f8" stroke="#f6f6f8" stroke-width="0.3"/>
<polygon points="123.9,96.3 127.7,98.9 130.4,98.2 130.6,92.7 129.7,92.0 126.7,91.8 123.7,95.2 123.9,96.3" fill="#f6f6f8" stroke="#f6f6f8" stroke-width="0.3"/>
<polygon points="121.0,224.5 120.9,227.8 121.1,227.9 121.7,228.2 124.6,225.7 123.3,223.1 122.4,222.7 121.0,224.5" fill="#f6f6f8" stroke="#f6f6f8" stroke-width="0.3"/>
<polygon points="124.3,193.8 124.3,193.4 123.2,192.4 122.0,192.6 121.9,192.7 121.7,193.3 121.8,193.5 124.3,193.8" fill="#f6f6f8" stroke="#f6f6f8" stroke-width="0.3"/>
<polygon points="136.6,150.7 136.4,149.9 132.0,148.0 129.8,151.9 130.6,152.9 133.8,153.8 136.6,150.7" fill="#f6f6f8" stroke="#f6f6f8" stroke-width="0.3"/>
<polygon points="193.3,140.5 199.5,139.7 199.7,136.3 195.1,131.3 189.4,133.9 193.3,140.5" fill="#f6f6f8" stroke="#f6f6f8" stroke-width="0.3"/>
<polygon points="195.7,101.1 197.8,101.8 200.0,100.7 198.9,100.1 198.4,96.8 196.6,98.2 197.0,96.9 195.7,94.4 194.9,94.5 194.5,93.3 193.6,92.5 193.0,93.0 195.7,101.1" fill="#f6f6f8" stroke="#f6f6f8" stroke-width="0.3"/>
<polygon points="140.1,143.0 140.1,141.9 136.1,139.4 134.2,140.6 134.7,144.6 138.9,145.4 140.1,143.0" fill="#f6f6f8" stroke="#f6f6f8" stroke-width="0.3"/>
<polygon points="180.3,207.4 180.4,201.2 179.2,199.9 178.8,199.8 175.7,200.8 173.8,206.6 180.3,207.4" fill="#d6c7b8" stroke="#d6c7b8" stroke-width="0.3"/>
<polygon points="94.9,153.3 92.2,151.6 92.1,151.9 92.0,153.9 93.3,154.9 93.6,156.1 93.9,156.7 94.9,153.3" fill="#f6f6f8" stroke="#f6f6f8" stroke-width="0.3"/>
<polygon points="106.7,160.4 107.6,163.9 113.8,162.2 111.8,158.1 111.4,157.9 108.0,158.1 106.7,160.4" fill="#f6f6f8" stroke="#f6f6f8" stroke-width="0.3"/>
<polygon points="129.7,92.0 130.6,92.7 137.4,91.7 137.1,85.5 131.0,85.0 130.7,85.3 129.7,92.0" fill="#f6f6f8" stroke="#f6f6f8" stroke-width="0.3"/>
<polygon points="120.5,195.2 121.5,195.1 121.8,193.5 121.7,193.3 120.3,193.0 119.6,194.0 120.5,195.2" fill="#f6f6f8" stroke="#f6f6f8" stroke-width="0.3"/>
<polygon points="176.0,135.8 173.0,133.9 169.0,137.7 173.4,142.5 176.5,140.4 176.0,135.8" fill="#f6f6f8" stroke="#f6f6f8" stroke-width="0.3"/>
<polygon points="122.1,113.3 128.1,111.3 128.5,109.6 127.2,106.0 125.7,105.3 122.3,109.1 122.6,109.7 121.8,111.0 122.1,113.3" fill="#f6f6f8" stroke="#f6f6f8" stroke-width="0.3"/>
<polygon points="99.4,156.3 96.5,158.9 96.7,161.6 100.2,162.9 102.5,159.8 101.7,157.2 99.4,156.3" fill="#f6f6f8" stroke="#f6f6f8" stroke-width="0.3"/>
<polygon points="117.4,184.3 117.4,184.2 116.0,183.1 115.1,183.2 113.8,185.1 113.9,185.3 116.4,185.2 117.4,184.3" fill="#f6f6f8" stroke="#f6f6f8" stroke-width="0.3"/>
<polygon points="100.5,190.9 103.0,192.6 105.2,187.4 100.7,185.5 99.7,186.0 100.5,190.9" fill="#f6f6f8" stroke="#f6f6f8" stroke-width="0.3"/>
<polygon points="119.2,218.8 119.4,219.6 121.1,219.9 121.6,218.7 120.5,217.9 119.5,218.4 119.2,218.8" fill="#d6c7b8" stroke="#d6c7b8" stroke-width="0.3"/>
<polygon points="158.8,101.4 163.8,98.9 164.3,97.6 159.3,93.6 155.7,94.4 154.8,96.5 158.8,101.4" fill="#f6f6f8" stroke="#f6f6f8" stroke-width="0.3"/>
<polygon points="160.6,74.5 159.5,73.7 158.8,72.0 156.5,72.3 154.8,72.8 154.4,72.9 153.7,74.9 158.9,77.1 160.6,74.5" fill="#f6f6f8" stroke="#f6f6f8" stroke-width="0.3"/>
<polygon points="143.1,260.8 143.1,263.8 149.0,265.7 151.8,262.7 151.7,262.1 146.6,259.0 143.1,260.8" fill="#f6f6f8" stroke="#f6f6f8" stroke-width="0.3"/>
<polygon points="120.5,185.0 120.9,186.4 122.3,186.3 122.7,185.3 122.7,185.3 121.3,184.4 120.5,185.0" fill="#f6f6f8" stroke="#f6f6f8" stroke-width="0.3"/>
<polygon points="124.1,216.5 124.6,217.4 127.0,218.2 128.3,217.0 127.1,213.8 126.1,214.0 124.2,215.3 124.1,216.5" fill="#f6f6f8" stroke="#f6f6f8" stroke-width="0.3"/>
<polygon points="133.8,240.3 136.2,236.7 136.2,236.6 134.3,234.3 129.2,233.8 127.6,236.0 127.9,237.8 132.6,240.5 133.8,240.3" fill="#f6f6f8" stroke="#f6f6f8" stroke-width="0.3"/>
<polygon points="123.6,195.5 124.3,196.2 125.5,196.5 126.4,194.6 126.3,194.4 124.4,193.9 123.6,195.5" fill="#f6f6f8" stroke="#f6f6f8" stroke-width="0.3"/>
<polygon points="123.2,192.4 124.3,193.4 124.6,192.8 124.3,191.3 123.7,191.1 123.3,191.3 123.2,192.4" fill="#f6f6f8" stroke="#f6f6f8" stroke-width="0.3"/>
<polygon points="95.8,183.1 92.9,184.1 93.7,188.0 94.2,188.5 94.9,189.6 98.6,185.8 95.8,183.1" fill="#f6f6f8" stroke="#f6f6f8" stroke-width="0.3"/>
<polygon points="144.6,238.4 152.3,236.1 153.0,235.2 148.7,230.8 142.6,232.2 144.6,238.4" fill="#f6f6f8" stroke="#f6f6f8" stroke-width="0.3"/>
<polygon points="119.6,137.1 119.6,141.1 120.7,142.0 125.4,141.3 125.6,140.7 123.4,136.0 122.1,135.6 119.6,137.1" fill="#f6f6f8" stroke="#f6f6f8" stroke-width="0.3"/>
<polygon points="136.4,189.4 138.0,192.6 138.3,192.7 141.8,191.0 141.8,188.2 138.4,186.5 136.4,189.4" fill="#f6f6f8" stroke="#f6f6f8" stroke-width="0.3"/>
<polygon points="144.2,124.1 142.8,124.3 139.1,128.5 142.2,131.2 144.0,130.7 146.3,125.4 144.2,124.1" fill="#f6f6f8" stroke="#f6f6f8" stroke-width="0.3"/>
<polygon points="125.0,183.5 125.2,183.5 126.7,181.8 126.7,181.6 124.8,179.5 124.4,179.8 124.4,183.1 125.0,183.5" fill="#f6f6f8" stroke="#f6f6f8" stroke-width="0.3"/>
<polygon points="119.5,93.7 123.7,95.2 126.7,91.8 125.5,90.2 121.3,89.2 119.4,91.1 119.5,93.7" fill="#f6f6f8" stroke="#f6f6f8" stroke-width="0.3"/>
<polygon points="196.8,127.1 200.8,126.3 202.7,123.9 202.6,120.6 197.2,116.8 193.1,122.9 196.8,127.1" fill="#d6c7b8" stroke="#d6c7b8" stroke-width="0.3"/>
<polygon points="141.8,231.6 136.2,236.6 136.2,236.7 141.2,239.8 143.9,239.5 144.6,238.4 142.6,232.2 141.8,231.6" fill="#f6f6f8" stroke="#f6f6f8" stroke-width="0.3"/>
<polygon points="110.8,220.6 110.5,221.1 110.5,221.6 111.6,222.1 112.4,222.6 112.9,221.9 112.6,220.4 112.5,220.3 110.8,220.6" fill="#f6f6f8" stroke="#f6f6f8" stroke-width="0.3"/>
<polygon points="122.3,214.9 122.0,216.2 122.3,216.5 124.1,216.5 124.2,215.3 122.3,214.9" fill="#f6f6f8" stroke="#f6f6f8" stroke-width="0.3"/>
<polygon points="153.9,127.9 150.2,127.1 148.7,132.5 148.8,132.7 150.3,133.2 154.5,131.6 153.9,127.9" fill="#f6f6f8" stroke="#f6f6f8" stroke-width="0.3"/>
<polygon points="117.1,218.8 116.9,218.9 117.3,219.9 119.1,221.4 119.4,219.6 119.2,218.8 117.1,218.8" fill="#f6f6f8" stroke="#f6f6f8" stroke-width="0.3"/>
<polygon points="120.2,189.1 119.5,189.1 118.9,191.1 119.0,191.4 119.3,191.8 119.7,191.8 120.8,191.0 121.1,190.4 120.6,189.4 120.2,189.1" fill="#f6f6f8" stroke="#f6f6f8" stroke-width="0.3"/>
<polygon points="137.3,260.9 138.0,262.0 138.6,263.6 139.2,265.0 139.5,265.2 140.0,267.1 143.1,263.8 143.1,260.8 140.2,258.8 137.3,260.9" fill="#f6f6f8" stroke="#f6f6f8" stroke-width="0.3"/>
<polygon points="199.7,147.3 200.5,140.9 199.5,139.7 193.3,140.5 190.5,146.0 199.7,147.3" fill="#d6c7b8" stroke="#d6c7b8" stroke-width="0.3"/>
<polygon points="168.1,137.7 165.3,140.6 166.2,145.3 172.8,144.7 173.4,142.5 169.0,137.7 168.1,137.7" fill="#f6f6f8" stroke="#f6f6f8" stroke-width="0.3"/>
<polygon points="120.5,217.9 121.6,218.7 121.7,218.7 122.8,218.0 122.3,216.5 122.0,216.2 120.8,216.6 120.5,217.9" fill="#d6c7b8" stroke="#d6c7b8" stroke-width="0.3"/>
<polygon points="161.7,257.8 161.8,257.1 161.9,255.7 162.6,253.8 163.9,252.3 163.4,251.3 163.8,249.5 160.7,246.1 157.0,247.2 154.7,256.0 161.7,257.8" fill="#f6f6f8" stroke="#f6f6f8" stroke-width="0.3"/>
<polygon points="132.7,103.2 127.2,106.0 128.5,109.6 134.8,109.2 135.2,108.7 135.0,105.2 132.7,103.2" fill="#f6f6f8" stroke="#f6f6f8" stroke-width="0.3"/>
<polygon points="120.6,186.9 120.0,186.9 118.5,188.1 118.8,188.7 119.5,189.1 120.2,189.1 120.7,187.1 120.6,186.9" fill="#f6f6f8" stroke="#f6f6f8" stroke-width="0.3"/>
<polygon points="94.3,157.2 94.3,157.3 95.3,159.6 95.4,159.9 96.0,162.0 96.0,162.1 96.7,161.6 96.5,158.9 94.3,157.2" fill="#f6f6f8" stroke="#f6f6f8" stroke-width="0.3"/>
<polygon points="170.4,158.3 169.8,157.0 164.9,155.7 164.1,160.4 167.6,163.1 170.4,158.3" fill="#f6f6f8" stroke="#f6f6f8" stroke-width="0.3"/>
<polygon points="117.0,187.9 116.2,188.8 117.6,189.8 118.8,188.7 118.5,188.1 118.3,187.9 117.0,187.9" fill="#f6f6f8" stroke="#f6f6f8" stroke-width="0.3"/>
<polygon points="161.6,176.2 163.5,178.5 167.8,176.8 169.8,172.3 169.7,172.2 162.0,171.5 161.6,176.2" fill="#f6f6f8" stroke="#f6f6f8" stroke-width="0.3"/>
<polygon points="185.3,167.3 183.3,159.3 180.6,160.5 180.4,164.0 183.8,167.7 185.3,167.3" fill="#f6f6f8" stroke="#f6f6f8" stroke-width="0.3"/>
<polygon points="141.5,222.1 143.7,217.4 143.2,216.0 137.2,215.9 136.7,221.3 138.1,223.1 141.5,222.1" fill="#f6f6f8" stroke="#f6f6f8" stroke-width="0.3"/>
<polygon points="117.5,190.1 116.4,191.3 117.0,191.7 119.0,191.4 118.9,191.1 117.5,190.1" fill="#f6f6f8" stroke="#f6f6f8" stroke-width="0.3"/>
<polygon points="123.4,136.0 126.3,134.1 126.6,131.9 124.0,130.5 121.5,131.7 122.1,135.6 123.4,136.0" fill="#f6f6f8" stroke="#f6f6f8" stroke-width="0.3"/>
<polygon points="121.8,164.3 120.2,165.1 119.4,169.0 120.7,170.6 126.2,167.8 121.8,164.3" fill="#d6c7b8" stroke="#d6c7b8" stroke-width="0.3"/>
<polygon points="120.9,221.3 122.3,222.2 123.6,220.6 123.1,220.4 121.2,220.4 120.9,221.3" fill="#d6c7b8" stroke="#d6c7b8" stroke-width="0.3"/>
<polygon points="144.4,156.1 143.4,161.4 143.6,161.9 149.1,160.2 149.1,158.1 144.7,155.8 144.4,156.1" fill="#f6f6f8" stroke="#f6f6f8" stroke-width="0.3"/>
<polygon points="187.0,89.4 191.2,93.1 193.0,93.0 193.6,92.5 193.0,91.9 191.7,91.3 190.1,90.4 189.1,90.6 187.2,89.0 187.0,89.1 187.0,89.4" fill="#f6f6f8" stroke="#f6f6f8" stroke-width="0.3"/>
<polygon points="119.5,93.7 119.4,91.1 118.6,90.6 118.4,90.8 117.7,91.9 116.7,93.9 117.6,94.6 118.0,95.1 119.5,93.7" fill="#f6f6f8" stroke="#f6f6f8" stroke-width="0.3"/>
<polygon points="114.4,246.2 119.5,248.6 119.7,248.6 122.6,242.7 120.7,241.1 119.5,241.0 114.2,245.6 114.4,246.2" fill="#f6f6f8" stroke="#f6f6f8" stroke-width="0.3"/>
<polygon points="202.7,123.9 200.8,126.3 205.2,132.4 205.2,132.4 205.0,130.0 207.6,124.7 202.7,123.9" fill="#d6c7b8" stroke="#d6c7b8" stroke-width="0.3"/>
<polygon points="133.8,240.3 136.9,244.7 137.8,244.8 141.2,239.8 136.2,236.7 133.8,240.3" fill="#f6f6f8" stroke="#f6f6f8" stroke-width="0.3"/>
<polygon points="127.2,183.7 126.7,181.8 125.2,183.5 126.1,184.2 127.2,183.7" fill="#f6f6f8" stroke="#f6f6f8" stroke-width="0.3"/>
<polygon points="157.0,247.2 160.7,246.1 162.0,242.4 154.1,234.8 153.0,235.2 152.3,236.1 152.1,244.7 152.7,245.7 157.0,247.2" fill="#f6f6f8" stroke="#f6f6f8" stroke-width="0.3"/>
<polygon points="126.3,185.1 127.1,185.4 129.5,184.4 127.2,183.7 126.1,184.2 126.3,185.1" fill="#f6f6f8" stroke="#f6f6f8" stroke-width="0.3"/>
<polygon points="122.5,186.9 122.3,186.3 120.9,186.4 120.6,186.9 120.7,187.1 121.9,187.9 122.5,186.9" fill="#f6f6f8" stroke="#f6f6f8" stroke-width="0.3"/>
<polygon points="122.0,213.9 122.0,214.3 122.1,214.3 123.9,213.2 123.2,211.7 122.9,212.2 122.2,212.3 122.1,212.4 122.0,213.9" fill="#f6f6f8" stroke="#f6f6f8" stroke-width="0.3"/>
<polygon points="113.2,131.1 115.8,133.4 118.7,130.8 118.5,128.4 117.0,126.7 114.2,126.2 112.8,126.9 113.2,131.1" fill="#f6f6f8" stroke="#f6f6f8" stroke-width="0.3"/>
<polygon points="130.3,244.4 132.6,240.5 127.9,237.8 124.9,242.8 126.1,244.1 130.3,244.4" fill="#f6f6f8" stroke="#f6f6f8" stroke-width="0.3"/>
<polygon points="125.4,250.2 119.7,248.6 119.5,248.6 118.9,251.3 120.4,251.8 120.6,253.0 122.9,253.4 124.3,254.5 124.3,254.4 125.4,250.2" fill="#f6f6f8" stroke="#f6f6f8" stroke-width="0.3"/>
<polygon points="206.5,112.5 206.0,112.0 205.3,109.1 198.5,107.1 195.6,111.5 195.9,113.2 196.9,114.5 206.5,112.5" fill="#f6f6f8" stroke="#f6f6f8" stroke-width="0.3"/>
<polygon points="173.2,207.0 173.8,206.6 175.7,200.8 172.9,199.2 168.3,201.3 173.2,207.0" fill="#d6c7b8" stroke="#d6c7b8" stroke-width="0.3"/>
<polygon points="125.5,90.2 125.9,86.5 125.8,86.5 124.6,87.4 123.2,87.1 122.5,88.4 121.3,88.7 121.3,89.2 125.5,90.2" fill="#c2a383" stroke="#c2a383" stroke-width="0.3"/>
<polygon points="148.6,267.5 144.8,270.6 144.8,270.6 145.5,270.7 147.3,271.1 148.2,272.1 149.8,271.6 151.1,272.0 151.7,271.4 148.6,267.5" fill="#f6f6f8" stroke="#f6f6f8" stroke-width="0.3"/>
<polygon points="200.5,140.9 205.8,141.0 206.0,140.0 205.2,132.4 205.2,132.4 199.7,136.3 199.5,139.7 200.5,140.9" fill="#d6c7b8" stroke="#d6c7b8" stroke-width="0.3"/>
<polygon points="113.8,162.2 114.8,162.7 115.9,162.4 118.2,158.9 115.3,156.3 111.8,158.1 113.8,162.2" fill="#f6f6f8" stroke="#f6f6f8" stroke-width="0.3"/>
<polygon points="110.3,175.8 108.0,172.8 102.5,175.2 102.2,176.3 107.3,178.9 110.3,175.8" fill="#f6f6f8" stroke="#f6f6f8" stroke-width="0.3"/>
<polygon points="117.3,193.6 115.1,193.1 113.2,195.5 115.2,196.0 117.4,194.3 117.3,193.6" fill="#f6f6f8" stroke="#f6f6f8" stroke-width="0.3"/>
<polygon points="138.8,109.7 135.2,108.7 134.8,109.2 134.4,113.0 137.5,115.5 139.9,112.2 138.8,109.7" fill="#d6c7b8" stroke="#d6c7b8" stroke-width="0.3"/>
<polygon points="102.9,150.5 106.7,147.2 105.3,143.4 103.2,143.2 100.2,146.0 102.3,150.3 102.9,150.5" fill="#f6f6f8" stroke="#f6f6f8" stroke-width="0.3"/>
<polygon points="145.0,92.6 139.5,93.1 141.0,100.2 145.8,98.8 146.8,96.3 145.0,92.6" fill="#f6f6f8" stroke="#f6f6f8" stroke-width="0.3"/>
<polygon points="147.9,87.9 147.9,87.8 142.2,80.8 140.9,81.4 140.3,81.5 140.2,81.6 137.1,85.5 137.4,91.7 138.3,92.6 139.5,93.1 145.0,92.6 147.9,87.9" fill="#f6f6f8" stroke="#f6f6f8" stroke-width="0.3"/>
<polygon points="135.0,252.6 140.2,249.3 140.6,247.4 137.8,244.8 136.9,244.7 132.9,248.0 132.4,250.7 135.0,252.6" fill="#f6f6f8" stroke="#f6f6f8" stroke-width="0.3"/>
<polygon points="106.5,197.3 106.8,197.4 109.1,198.8 110.0,199.0 111.4,200.0 111.9,200.4 112.0,200.4 111.9,196.8 106.8,196.6 106.5,197.3" fill="#f6f6f8" stroke="#f6f6f8" stroke-width="0.3"/>
<polygon points="128.4,164.9 131.8,166.1 135.5,163.7 132.4,160.8 128.2,163.1 128.4,164.9" fill="#f6f6f8" stroke="#f6f6f8" stroke-width="0.3"/>
<polygon points="144.1,112.2 143.9,112.7 144.1,113.8 148.3,116.1 150.2,114.4 149.3,109.8 144.1,112.2" fill="#f6f6f8" stroke="#f6f6f8" stroke-width="0.3"/>
<polygon points="177.2,128.4 173.0,133.6 173.0,133.9 176.0,135.8 180.2,133.6 177.2,128.4" fill="#f6f6f8" stroke="#f6f6f8" stroke-width="0.3"/>
<polygon points="125.3,189.2 124.9,191.0 125.9,191.5 127.1,190.1 125.4,189.2 125.3,189.2" fill="#f6f6f8" stroke="#f6f6f8" stroke-width="0.3"/>
<polygon points="123.1,220.4 123.6,220.6 123.9,220.5 123.3,218.1 122.8,218.0 121.7,218.7 123.1,220.4" fill="#d6c7b8" stroke="#d6c7b8" stroke-width="0.3"/>
<polygon points="124.8,103.9 127.7,98.9 123.9,96.3 122.1,99.4 124.8,103.9 124.8,103.9" fill="#c2a383" stroke="#c2a383" stroke-width="0.3"/>
<polygon points="144.2,213.0 146.3,209.4 144.6,205.9 138.6,207.3 138.9,208.9 144.2,213.0" fill="#f6f6f8" stroke="#f6f6f8" stroke-width="0.3"/>
<polygon points="140.9,100.3 141.0,100.2 139.5,93.1 138.3,92.6 135.5,98.4 139.2,100.8 140.9,100.3" fill="#f6f6f8" stroke="#f6f6f8" stroke-width="0.3"/>
<polygon points="126.8,158.3 125.6,157.4 121.7,159.4 122.6,162.8 127.2,162.0 126.8,158.3" fill="#f6f6f8" stroke="#f6f6f8" stroke-width="0.3"/>
<polygon points="111.7,240.8 115.8,237.7 115.8,235.0 114.1,234.7 114.0,235.1 113.0,236.4 112.9,238.0 111.7,238.5 109.4,238.9 109.2,239.1 111.7,240.8" fill="#f6f6f8" stroke="#f6f6f8" stroke-width="0.3"/>
<polygon points="123.5,189.1 123.6,189.0 123.8,187.3 122.5,186.9 121.9,187.9 122.0,188.2 123.5,189.1" fill="#f6f6f8" stroke="#f6f6f8" stroke-width="0.3"/>
<polygon points="124.6,225.7 127.9,224.2 126.2,221.4 123.3,223.1 124.6,225.7" fill="#f6f6f8" stroke="#f6f6f8" stroke-width="0.3"/>
<polygon points="120.9,221.3 121.2,220.4 121.1,219.9 119.4,219.6 119.1,221.4 119.1,221.7 119.3,221.9 120.9,221.3" fill="#d6c7b8" stroke="#d6c7b8" stroke-width="0.3"/>
<polygon points="138.0,192.6 133.7,194.6 135.3,197.9 139.9,197.7 138.3,192.7 138.0,192.6" fill="#f6f6f8" stroke="#f6f6f8" stroke-width="0.3"/>
<polygon points="122.3,216.5 122.8,218.0 123.3,218.1 124.6,217.4 124.1,216.5 122.3,216.5" fill="#d6c7b8" stroke="#d6c7b8" stroke-width="0.3"/>
<polygon points="105.9,182.5 102.0,182.1 100.7,185.5 105.2,187.4 106.8,186.6 105.9,182.5" fill="#f6f6f8" stroke="#f6f6f8" stroke-width="0.3"/>
<polygon points="118.7,185.3 117.4,184.3 116.4,185.2 117.2,186.0 117.5,186.1 118.7,185.3" fill="#f6f6f8" stroke="#f6f6f8" stroke-width="0.3"/>
<polygon points="142.4,106.9 138.8,109.7 139.9,112.2 143.9,112.7 144.1,112.2 142.8,107.3 142.4,106.9" fill="#d6c7b8" stroke="#d6c7b8" stroke-width="0.3"/>
<polygon points="116.5,218.9 116.1,219.2 115.6,221.9 116.0,221.9 116.7,221.6 117.3,219.9 116.9,218.9 116.5,218.9" fill="#f6f6f8" stroke="#f6f6f8" stroke-width="0.3"/>
<polygon points="112.8,126.9 114.2,126.2 114.7,121.6 113.2,121.0 112.8,121.5 111.5,122.7 111.0,123.7 109.8,124.5 109.4,125.3 109.5,126.0 112.8,126.9" fill="#f6f6f8" stroke="#f6f6f8" stroke-width="0.3"/>
<polygon points="115.8,237.7 119.5,241.0 120.7,241.1 122.4,234.9 122.1,234.5 116.2,234.6 115.8,235.0 115.8,237.7" fill="#f6f6f8" stroke="#f6f6f8" stroke-width="0.3"/>
<polygon points="165.9,91.2 162.2,89.9 159.3,93.6 164.3,97.6 166.3,96.4 165.9,91.2" fill="#f6f6f8" stroke="#f6f6f8" stroke-width="0.3"/>
<polygon points="120.5,143.9 120.7,142.0 119.6,141.1 117.0,141.4 114.5,146.2 116.6,148.0 120.5,143.9" fill="#f6f6f8" stroke="#f6f6f8" stroke-width="0.3"/>
<polygon points="125.1,186.1 126.3,185.1 126.1,184.2 125.2,183.5 125.0,183.5 124.5,185.1 125.1,186.1" fill="#f6f6f8" stroke="#f6f6f8" stroke-width="0.3"/>
<polygon points="121.2,220.4 123.1,220.4 121.7,218.7 121.6,218.7 121.1,219.9 121.2,220.4" fill="#d6c7b8" stroke="#d6c7b8" stroke-width="0.3"/>
<polygon points="120.8,216.6 122.0,216.2 122.3,214.9 122.1,214.3 122.0,214.3 122.1,214.4 120.0,215.5 120.0,215.5 120.1,216.1 120.8,216.6" fill="#f6f6f8" stroke="#f6f6f8" stroke-width="0.3"/>
<polygon points="117.9,181.7 116.0,183.1 117.4,184.2 118.4,182.8 117.9,181.7" fill="#f6f6f8" stroke="#f6f6f8" stroke-width="0.3"/>
<polygon points="116.4,185.2 113.9,185.3 113.8,186.3 116.6,187.2 117.2,186.0 116.4,185.2" fill="#f6f6f8" stroke="#f6f6f8" stroke-width="0.3"/>
<polygon points="156.1,126.2 153.9,127.9 154.5,131.6 156.3,132.8 158.3,132.4 160.1,129.8 156.1,126.2" fill="#f6f6f8" stroke="#f6f6f8" stroke-width="0.3"/>
<polygon points="138.4,157.5 138.6,158.7 143.4,161.4 144.4,156.1 138.4,157.5" fill="#d6c7b8" stroke="#d6c7b8" stroke-width="0.3"/>
<polygon points="124.8,103.9 122.1,99.4 120.1,99.6 120.5,100.1 121.3,101.1 121.6,102.8 122.1,104.1 124.8,103.9" fill="#f6f6f8" stroke="#f6f6f8" stroke-width="0.3"/>
<polygon points="125.1,186.1 125.1,186.5 126.0,187.4 127.2,187.3 127.1,185.4 126.3,185.1 125.1,186.1" fill="#f6f6f8" stroke="#f6f6f8" stroke-width="0.3"/>
<polygon points="231.0,104.5 232.2,104.7 236.5,103.2 240.8,105.8 245.1,110.1 249.4,113.3 255.8,116.5 262.3,118.7 267.6,119.7 265.5,121.9 261.2,124.0 253.7,120.6 244.7,119.7 235.8,117.9 228.6,116.1" fill="#f6f6f8"/>
<polygon points="235.8,117.9 244.7,119.7 253.7,120.6 261.2,124.0 263.3,127.3 266.6,130.5 268.7,133.7 268.5,136.0 263.5,135.0 259.0,130.5 251.9,128.7 244.7,126.9 240.0,125.0" fill="#f6f6f8"/>
<polygon points="190.0,150.0 205.2,152.6 220.2,153.8 230.3,153.8 240.3,156.3 256.7,163.9 255.4,165.1 245.4,166.4 235.3,165.1 225.3,161.4 215.2,159.6 205.2,160.1 192.6,161.4 182.6,158.8 184.0,154.0" fill="#f6f6f8"/>
<polygon points="182.6,158.8 192.6,161.4 205.2,160.1 215.2,159.6 225.3,161.4 235.3,165.1 245.4,166.4 255.4,165.1 259.1,163.6 254.8,169.0 249.4,176.5 244.1,180.0 238.7,184.3 232.3,189.7 223.7,196.1 222.8,196.5 215.2,191.5 205.2,186.5 195.1,181.4 190.1,176.4 186.3,170.1 183.8,163.9" fill="#d6c7b8"/>
<polygon points="206.9,105.4 215.5,106.0 221.9,108.2 226.2,107.5 231.6,110.7 229.4,115.0 220.8,116.1 212.2,118.3 209.0,115.0 207.9,110.7" fill="#d6c7b8"/>
<polygon points="155.5,72.0 160.1,75.5 166.0,76.8 170.2,78.8 172.3,86.5 171.2,95.1 168.0,102.6 163.6,105.8 159.0,104.6 154.3,107.0 149.6,103.5 145.0,100.0 142.6,95.3 145.0,89.5 148.5,84.8 150.8,79.0 153.1,74.3" fill="#a87a4a"/>
<polygon points="117.0,92.0 122.0,88.0 130.0,85.0 135.0,83.5 136.5,88.0 137.0,100.0 134.0,106.0 128.0,107.0 122.0,103.0 119.0,97.0" fill="#c2a383"/>
<polygon points="137.0,100.0 143.0,97.0 146.0,102.0 150.0,106.0 147.0,112.0 140.0,110.0" fill="#d6c7b8"/>
<polygon points="147.0,105.0 168.0,104.0 170.0,110.0 160.0,114.0 150.0,113.0" fill="#d6c7b8"/>
<polygon points="204.7,119.1 210.3,119.9 211.0,123.0 213.4,127.8 216.6,130.1 220.5,129.4 222.9,127.0 223.7,123.0 222.9,119.1 225.2,117.5 227.6,119.9 231.5,123.8 236.3,126.2 241.0,126.2 245.7,127.8 247.3,130.9 244.2,133.3 241.8,133.3 240.2,137.2 236.3,138.0 233.9,141.2 230.0,142.8 227.6,145.9 225.2,149.9 222.1,150.6 215.8,150.6 211.8,149.9 209.5,146.7 208.7,143.5 207.1,139.6 206.3,135.7 207.9,130.9 205.5,126.2 204.7,121.5" fill="#c2a383"/>
<polygon points="200.0,138.8 206.3,138.0 207.5,143.0 206.3,148.3 200.0,148.3" fill="#d6c7b8"/>
<polygon points="102.5,193.6 105.4,191.1 111.6,188.4 113.4,183.1 116.1,180.4 120.6,178.6 121.5,180.4 120.1,184.0 119.7,191.1 118.1,194.7 116.5,195.7 114.3,197.9 113.8,200.0 112.2,200.6 110.0,199.0 106.8,197.4 104.7,195.7" fill="#d6c7b8"/>
<polygon points="125.0,170.5 130.4,170.0 130.4,176.4 125.0,176.4" fill="#d6c7b8"/>
<polygon points="158.2,109.7 167.9,108.6 176.5,110.8 180.8,116.1 178.7,120.4 180.8,123.7 189.4,125.8 200.2,128.0 206.6,129.0 205.5,134.4 198.0,134.4 191.6,132.3 185.1,131.2 180.8,132.3 176.5,135.5 171.1,138.7 166.8,135.5 163.6,132.3 161.5,128.0 157.2,121.5 156.1,115.0" fill="#d6c7b8"/>
<polygon points="167.0,124.0 172.0,123.5 175.4,126.0 174.5,131.5 169.0,132.3 166.8,128.0" fill="#f6f6f8"/>
<polygon points="170.0,143.0 178.7,140.9 189.4,142.0 198.0,143.0 208.8,145.2 206.6,149.5 193.7,149.5 180.8,148.4 172.2,148.4" fill="#d6c7b8"/>
<polygon points="138.7,134.4 140.0,135.5 136.5,142.0 133.5,147.3 132.3,146.5 134.5,140.0" fill="#d6c7b8"/>
<polygon points="166.5,92.0 171.0,90.5 176.0,92.5 175.0,101.0 169.0,101.5 166.0,97.0" fill="#d6c7b8"/>
<polygon points="169.7,104.3 174.0,103.5 176.5,108.0 176.0,117.0 171.0,116.0 169.0,110.0" fill="#d6c7b8"/>
<polygon points="128.5,247.0 131.0,245.3 135.0,245.8 137.2,249.0 136.8,253.5 134.5,256.3 131.0,256.0 128.5,253.0" fill="#c2a383"/>
<polygon points="111.1,203.8 113.3,201.1 116.5,200.0 120.8,200.0 123.5,201.6 120.8,204.9 117.6,207.6 114.3,210.2 112.2,209.7 111.0,207.0" fill="#d6c7b8"/>
<path d="M0.0 25.6L2.2 26.6L3.4 26.4L4.5 28.6L5.7 28.4L6.3 29.4L8.2 29.7L9.9 30.0L11.8 30.4L12.9 32.4L14.3 33.4L15.9 33.6L17.2 34.6L19.3 35.4L20.4 35.2L21.9 36.7L23.1 37.4L24.0 38.2L25.7 38.9L28.0 40.0L28.0 40.2L29.9 40.5L32.4 41.5L33.4 42.0L34.3 42.8L36.1 43.4L37.1 45.0L38.5 45.4L40.3 45.6L41.4 46.7L43.0 47.5L44.7 48.3L45.6 49.1L47.4 50.2L48.8 50.4L50.1 51.0L52.0 51.2L53.3 53.3L54.6 53.6L56.5 53.2L57.2 54.5L58.0 55.6L60.7 55.6L61.5 56.8L63.7 57.7L64.6 58.0L66.3 58.9L68.1 59.6L68.5 60.6L70.4 60.9L71.0 62.8L74.5 63.0L75.2 62.8L76.4 65.0L77.5 64.8L79.3 65.4L79.9 66.7L81.7 66.7L83.5 68.3L85.7 67.7L86.2 69.1L88.0 70.1L89.2 70.9L90.6 71.6M0.0 76.1L1.2 75.0L3.1 76.7L4.6 76.4L6.7 76.6L8.3 75.7L9.7 75.6L11.5 76.9L12.0 76.8L14.5 76.3L16.0 76.6L16.9 77.0L19.6 76.8L20.8 76.3L21.8 77.3L24.8 77.1L24.9 76.9L27.0 76.2L29.1 77.1L30.0 76.9L32.5 77.1L34.0 77.1L35.1 77.6L36.1 76.9L38.7 77.0L39.8 77.8L41.1 77.3L43.9 76.9L44.9 77.5L46.9 77.9L47.6 77.2L49.7 77.9L51.6 77.6L52.7 77.9L54.4 77.8L56.0 78.0M56.0 78.0L58.6 76.9L60.1 77.0L61.6 77.4L62.7 77.6L63.5 76.5L65.2 76.5L67.7 76.4L69.0 76.6L71.9 76.4L72.1 76.4L73.5 76.5L76.6 75.4L78.2 75.7L79.4 75.9L80.8 75.0L81.3 76.6L84.4 75.0L85.5 74.9L88.0 75.3L88.9 74.7L90.8 74.6M90.8 74.6L91.0 74.3M97.6 270.2L95.8 271.0L94.2 271.7L93.8 274.3L92.4 274.7M97.6 270.2L98.1 270.7M0.0 292.9L2.4 292.2L2.4 292.2L4.5 291.6L6.6 291.6L7.8 290.8L9.3 290.2L10.3 289.8L13.3 289.5L13.8 289.1L15.4 288.8L17.8 288.6L18.8 288.8L20.6 288.1L22.5 287.4L24.2 287.2L25.2 286.9L27.1 286.7L29.4 285.2L30.3 285.4L31.7 285.3L34.0 285.3L34.5 284.7L36.3 284.3L38.0 283.9L39.2 283.6L41.0 282.7L43.1 282.4L44.0 282.2L46.4 282.2L47.4 282.1L49.8 281.3L50.2 280.6L52.6 280.2L53.2 279.6L54.9 280.3L57.3 279.6L58.7 278.7L61.2 279.0L61.8 278.8L62.6 277.8L64.3 277.7L66.8 276.6L67.1 276.4L70.0 277.0L71.4 276.3L71.9 275.6L74.2 275.3L76.1 275.2L77.7 275.2L79.5 274.4L80.6 274.1L82.4 273.3L84.3 272.9L85.5 271.9L87.1 272.8L88.6 272.0M88.6 272.0L90.8 273.0L92.4 274.7M184.4 300.0L183.8 298.6L184.8 295.9L184.6 295.2L184.2 292.6L183.9 291.4L183.6 289.3L184.6 288.2L183.6 286.5L183.6 285.1L183.4 283.5L182.9 281.6L183.0 279.9L182.2 277.2L182.8 276.5L182.5 275.1L182.0 272.9L182.4 271.4M190.0 271.8L188.1 271.6L186.7 271.4L184.2 271.2L182.4 271.4M90.8 74.6L90.8 77.1L90.9 78.3M90.6 71.6L92.3 69.9L92.4 68.9L94.2 67.4M92.2 0.0L92.7 1.2L91.7 3.3L92.2 4.5L92.0 6.7L92.6 7.3L92.2 9.8L92.9 11.0L92.3 13.0L93.6 14.4L93.2 15.7L92.3 17.2L92.5 19.4L93.2 20.6L92.8 21.9L92.8 24.3L92.7 26.1L92.9 27.4L92.9 28.8L93.2 30.8L92.9 32.4L93.3 34.2L92.5 35.5L92.9 36.6L92.8 38.9L93.8 40.3L93.8 41.6L92.7 43.0L93.7 45.2L93.1 46.7L93.8 48.5L93.6 49.4L93.5 50.8L93.2 53.0L94.0 55.2L94.3 56.1L93.7 57.8L93.6 59.8L93.3 61.1L94.1 62.1L94.5 64.8L94.2 65.9L94.2 67.4M97.6 270.2L97.5 270.0M97.5 270.0L95.5 269.2L93.5 268.2L91.9 267.3M172.0 300.0L172.0 297.3L171.7 296.2L172.0 295.2L172.7 294.5L172.3 291.7L172.6 289.6L172.2 288.4L172.3 286.4L171.7 285.0L172.6 283.5L172.0 282.4L172.0 279.4L172.2 279.3L172.5 277.1L172.2 275.5M172.2 275.5L173.6 274.6L174.1 273.3L176.4 270.8L177.6 270.0M190.0 264.0L187.4 263.7M190.0 255.3L188.6 255.2M187.4 263.7L186.7 262.7L185.6 260.5L184.7 259.4M188.6 255.2L187.0 255.9L185.7 258.3L184.7 259.4M184.9 251.4L185.3 250.3L187.1 248.4L187.7 246.9M190.0 246.9L187.7 246.9M91.0 74.3L92.9 74.1L94.3 74.4M94.2 67.4L95.0 68.1L96.1 69.9L97.0 71.5M97.0 71.5L95.6 72.7L94.3 74.4M172.2 275.5L170.7 274.2L169.3 273.4L167.9 272.4L167.2 271.0L165.7 270.0M177.6 270.0L176.9 267.9L175.0 267.5L173.9 267.3L172.7 265.8L171.6 264.6M171.6 264.6L170.1 265.7L169.4 266.5L167.2 267.6L167.4 268.5L165.7 270.0M171.6 260.9L171.4 260.7M171.4 260.7L171.4 258.5L171.8 257.5L171.5 255.4L171.2 253.7L171.8 252.5M180.1 258.6L179.4 257.4L180.3 255.9L179.5 253.1L179.4 252.0M171.8 252.5L174.1 252.4L174.6 252.6L177.0 252.4L178.9 251.6M179.4 252.0L178.9 251.6M171.6 264.6L170.9 262.8L171.6 260.9M184.7 259.4L181.8 259.0L180.1 258.6M184.9 251.4L183.6 251.7L181.4 251.6L179.4 252.0M190.0 238.0L188.4 238.1M187.7 246.9L185.8 244.8L185.0 243.8L184.4 242.7M188.4 238.1L187.4 239.4L186.3 241.9L184.4 242.7M178.7 243.6L178.2 245.0L178.4 246.7L179.5 247.9L178.9 250.3L178.9 251.6M205.2 132.4L205.2 132.4M205.2 132.4L203.4 130.5L202.8 129.3L201.4 127.6L200.8 126.3M202.7 123.9L200.8 126.3M202.7 123.9L204.7 124.7L205.6 124.1L207.6 124.7M200.5 140.9L202.5 141.1L204.3 140.2L205.8 141.0M200.5 140.9L199.5 139.7M205.2 132.4L204.1 134.0L201.9 134.3L200.5 135.3L199.7 136.3M199.7 136.3L199.1 138.2L199.5 139.7M196.8 127.1L199.3 126.9L200.8 126.3M196.8 127.1L195.8 130.4L195.1 131.3M199.7 136.3L198.2 134.7L197.1 133.9L196.4 132.1L195.1 131.3M178.6 0.0L178.3 1.5L178.4 2.9L177.9 4.8L178.1 6.5L177.9 8.3L177.8 9.0L177.4 11.4L177.5 12.6L176.9 14.4L176.9 16.2L177.5 18.1L177.0 19.6L177.1 20.2L176.8 23.2L177.2 24.2L176.0 25.8L175.4 26.4L176.8 28.5L175.6 31.2L175.9 32.2L175.3 33.9L175.7 35.5L176.3 36.9L175.4 39.2L175.3 40.6L174.6 41.6L174.5 42.7L174.3 45.1L174.5 46.5L173.6 48.4L173.0 49.3L173.6 50.6L173.7 53.5L173.5 55.4L173.5 56.7L172.9 57.6L173.1 59.5L172.9 62.2L173.4 62.9L172.3 64.9L172.5 65.7L172.6 67.2L172.0 69.9L172.1 70.7M161.0 0.0L161.6 1.4L160.3 3.6L161.4 5.0L161.2 6.2L160.7 8.1L160.5 10.2L160.7 12.0L161.1 13.0L161.5 14.3L161.4 16.9L161.1 18.1L161.1 19.2L160.9 20.5L161.4 22.2L160.7 24.8L162.0 26.1L161.2 27.2L161.5 28.9L161.7 30.9L161.5 32.6L161.3 33.5L161.0 35.7L161.1 38.2L160.5 38.9L161.7 40.2L161.0 41.6L160.9 44.0L162.2 45.5L161.3 46.5L161.1 48.6L161.6 49.3L161.4 52.3L161.4 52.5L161.3 54.6L161.6 56.5M161.6 56.5L161.8 58.4L162.0 59.9L163.2 61.7L163.9 63.3L164.3 64.5L165.4 67.8L165.4 68.0L165.8 69.6M172.1 70.7L170.3 71.7M165.8 69.6L167.8 69.7L168.9 70.2L170.3 71.7M102.8 272.4L101.1 272.4L99.5 271.9L98.1 270.7M102.8 272.4L104.1 274.5L103.6 275.4L104.4 276.9L104.5 279.8L104.8 280.5L105.5 282.5L105.9 284.0L106.5 285.5L106.8 286.3L107.3 288.5L107.5 290.3L107.9 291.6L108.5 293.7L108.8 295.2L109.5 296.2L110.0 298.4L110.3 300.0M92.2 252.5L89.8 253.3L88.9 254.6L87.8 255.1L86.0 256.3L84.6 257.5M84.6 257.5L83.4 258.5L80.8 257.9L77.9 258.8L77.0 258.9M77.0 258.9L75.1 258.5L73.7 258.5L72.6 257.7L70.9 258.5L68.8 259.0L67.5 258.7L65.1 257.9L65.2 258.8L63.1 257.7L60.7 258.1L59.9 257.3L57.9 258.4L56.4 257.9L55.0 257.5L53.3 257.9L51.1 257.8L48.9 257.8L48.3 257.6L46.2 257.6L45.0 258.0L42.6 256.4L42.0 257.0L40.4 257.2L38.5 256.8L37.2 257.4L35.7 256.6L34.2 256.0L31.7 256.6L29.9 256.6L29.2 256.1L27.2 255.9L26.4 255.7L24.5 256.2L22.8 256.0L21.9 255.0L19.8 256.1L17.6 254.9L16.7 254.8L14.7 254.8L13.0 255.4L11.0 256.0L9.1 254.6L8.0 255.4L6.0 254.9L4.6 254.9L2.4 254.9L2.0 254.9L0.0 254.6M0.0 252.2L1.6 252.6L3.3 252.1L4.4 251.7L6.9 250.7L7.9 251.5L9.7 252.0L11.0 251.0L12.4 251.0L13.9 250.9L16.1 251.2L18.6 250.3L19.3 250.8L20.8 250.6L22.2 250.9L23.8 250.8L25.5 250.5L27.3 249.5L29.0 250.5L30.2 249.7L31.6 249.9L33.8 248.8L34.9 250.2L36.8 249.5L38.8 248.3L40.3 248.9L42.0 249.1L43.6 249.6L44.5 248.2L46.8 248.5L48.7 248.8L50.2 248.0L51.6 248.7L53.7 248.3L53.3 247.0L56.8 248.3L57.6 247.9L59.3 247.9L59.9 247.4L62.6 247.6L64.6 247.4L65.3 247.2L67.7 246.7L69.5 247.4L70.8 246.8L72.2 246.9M91.9 267.3L91.5 266.4M91.5 266.4L90.5 265.9L88.2 265.2L87.2 264.4L86.6 263.6L84.5 261.2L82.5 262.2L80.5 261.4L80.2 259.5L78.9 259.9L77.0 258.9M188.4 238.1L187.8 236.2L185.8 235.4L184.8 234.3L183.8 232.8M0.0 89.8L1.9 89.6L3.3 90.0L5.2 90.3L5.6 89.5L8.8 90.0L9.6 89.3L10.5 89.9L12.2 89.7L14.9 89.8L16.1 89.7L17.7 88.9L19.3 89.1L21.0 90.2L22.9 90.2L24.6 89.0L26.7 89.4L27.5 89.7L29.4 89.6L31.3 89.2L32.0 89.6L33.7 90.0L35.5 89.2L38.0 89.9L39.3 90.8L40.8 89.3L41.5 89.3L43.7 89.8L45.9 89.7L48.4 90.3L49.2 90.4L50.9 89.5L52.2 90.0L53.4 89.4L55.6 89.2L57.6 89.6L58.7 90.2L60.1 89.5L61.0 90.0L62.8 90.0L65.6 89.3L66.3 89.5L68.5 89.3L69.9 89.5L72.2 89.8L73.1 90.0L74.9 89.4L77.1 89.6L78.1 89.8L79.9 89.1L81.0 89.3L83.7 89.3L85.7 89.1L87.1 88.9L88.3 89.1L89.5 89.5M91.3 94.9L90.5 93.4L90.3 90.3M90.3 90.3L89.8 89.7M89.1 97.0L87.0 97.5L86.3 97.1L84.3 98.4L83.4 97.3L80.7 97.1L79.0 97.7L77.2 97.6L76.7 98.3L74.2 97.9L72.6 98.3L71.2 97.4L70.1 98.7L67.9 97.9L67.1 98.3L64.6 97.9L63.0 97.6L62.0 98.1L59.9 98.6L58.2 98.2L56.7 98.3L54.7 98.5L53.2 98.0L51.7 98.1L50.5 98.7L48.0 97.9L46.4 98.6L45.7 98.0L43.6 99.0L42.3 99.3L40.6 98.9L38.0 99.1L38.2 97.6L35.2 98.1L34.3 99.3L31.9 98.5L29.8 98.8L28.9 99.3L27.6 99.7L25.9 99.5L23.7 99.5L22.4 98.8L20.9 98.7L19.5 98.6L17.5 99.9L16.5 99.7L14.1 99.0L13.1 99.5L11.2 99.0L8.7 99.0L7.8 99.9L6.9 99.5L5.0 99.5L2.5 99.9L1.9 99.8L0.0 100.0M89.5 89.5L89.8 89.7M89.5 89.5L89.6 87.6L89.0 85.2L89.1 83.5M91.3 94.9L92.0 95.1M92.0 95.1L93.2 94.9L96.0 93.6L97.3 93.7M97.4 90.0L98.3 91.5M199.5 139.7L197.6 139.3L194.8 140.2L193.3 140.5M195.1 131.3L193.2 132.5L190.8 132.8L189.4 133.9M193.3 140.5L191.6 138.4L191.5 137.0L190.4 135.8L189.4 133.9M199.7 147.3L197.5 146.6L196.3 147.0L194.0 147.0L191.6 145.9L190.5 146.0M200.5 140.9L199.9 142.7L200.1 143.8L200.7 146.3L199.7 147.3M193.3 140.5L192.3 143.3L191.3 144.6L190.5 146.0M202.7 123.9L202.3 122.5L202.6 120.6M202.6 120.6L204.2 119.7L204.6 119.1L206.1 117.1L207.1 115.6L208.5 115.0M203.4 89.7L200.5 90.8M203.4 77.0L201.5 77.6L199.1 77.1L197.9 77.8M198.1 80.6L197.9 77.8M197.3 73.3L196.6 76.2M197.9 77.8L196.6 76.2M169.9 76.3L168.9 77.3M168.9 77.3L169.2 80.3M169.9 76.3L172.0 76.2L173.8 76.6L175.0 76.9M169.2 80.3L171.5 81.1L172.3 82.8L174.1 83.2M175.0 76.9L175.3 78.4L176.2 80.0L175.4 82.2M175.4 82.2L174.1 83.2M172.1 70.7L173.9 72.1L175.9 71.9M170.3 71.7L170.4 73.8L169.9 76.3M175.0 76.9L177.1 74.8M175.9 71.9L177.1 74.8M168.9 77.3L166.7 77.2L165.6 76.6M165.8 69.6L163.9 71.8L163.7 73.5M163.7 73.5L164.9 75.1L165.6 76.6M154.7 71.9L153.7 74.9M154.7 71.9L155.9 70.8L157.7 69.6M153.7 74.9L155.0 75.6L157.8 76.1L158.9 77.1M157.7 69.6L158.7 70.6L160.1 72.1L161.1 73.8M161.1 73.8L160.8 75.3L158.9 77.1M151.0 76.8L151.7 76.0L153.7 74.9M151.0 76.8L148.5 76.9L146.4 76.3M159.7 79.6L158.9 77.1M156.6 83.2L157.5 81.2L159.7 79.6M151.0 76.8L152.6 78.7L152.2 78.9L154.0 81.1L154.1 82.7M156.6 83.2L154.1 82.7M163.7 73.5L161.1 73.8M162.4 80.1L163.8 78.3L165.6 76.6M162.4 80.1L159.7 79.6M129.4 73.2L128.3 72.5M129.4 73.2L130.3 72.5L132.4 70.9M131.5 0.0L131.8 1.8L131.7 3.1L130.7 5.0L130.2 6.7L130.9 8.3L130.9 10.3L130.4 12.1L130.4 12.1L130.2 14.3L130.3 16.6L129.9 18.2L130.2 19.2L129.4 21.2L129.0 22.9L129.5 25.5L129.5 27.0L129.3 27.3L129.6 29.8L128.3 31.1L128.5 33.4L129.4 33.9L129.3 35.9L128.8 38.3L127.7 38.8L127.6 40.4L128.2 42.1L127.6 43.5L127.1 45.5L127.2 47.3L127.0 49.0L126.9 51.4L126.4 52.4L127.1 54.6L126.1 55.6L125.8 56.8L126.5 58.6L125.9 60.6L125.9 61.9L125.9 63.6L125.9 64.5L125.7 66.9M132.4 70.9L132.2 69.8L132.1 67.5L133.1 66.0L132.2 63.6L133.3 61.7L132.5 61.4L133.6 59.9L133.1 58.2L133.6 56.8L133.8 54.6L133.9 53.4L134.5 51.6L133.9 49.1L134.0 48.0L134.8 46.5L134.3 45.7L134.6 42.6L134.4 41.9L134.7 41.4L134.4 39.4L134.9 37.4L136.2 35.9L135.7 33.7L135.2 32.2L134.9 30.2L134.9 29.9L135.6 27.2L136.1 25.5L135.7 23.5L136.0 22.6L135.7 20.5L136.2 19.2L136.9 18.3L136.2 15.9L136.8 15.2L136.7 13.1L136.6 11.3L137.0 9.9L136.9 7.7L136.5 6.5L137.1 3.8L137.3 3.7L137.5 2.5L137.6 0.0M125.7 66.9L127.3 69.1L127.1 70.3L128.3 72.5M138.4 77.9L139.8 79.3L141.4 80.1M138.4 77.9L137.9 76.9L136.8 74.8L136.7 72.9M144.8 77.0L144.0 77.6L141.6 80.0M141.6 80.0L141.4 80.1M129.4 73.2L129.5 74.4M132.4 70.9L135.0 72.9L136.7 72.9M146.4 76.3L144.8 77.0M154.1 82.7L152.7 84.3L151.9 85.2L151.4 86.7L148.0 86.3L147.9 87.8M147.9 87.8L147.1 86.5L145.5 84.8L144.9 83.9L143.8 82.3L142.6 80.7L141.6 80.0M138.9 277.8L138.6 279.0L138.5 281.0L138.0 281.8L136.6 284.6L138.0 285.8L137.1 287.0L136.3 289.3L136.5 291.1L136.3 292.0L136.2 293.2L136.1 295.4L134.9 297.7L135.2 298.4L134.7 300.0M138.9 277.8L139.3 276.6L138.7 274.5L137.1 273.6L137.1 270.8L137.3 269.9M129.4 300.0L129.2 298.1L130.0 296.9L129.5 294.6L129.2 294.3L129.6 292.2L130.4 290.9L129.7 287.6L130.0 286.4L130.6 285.3L129.5 283.6L129.0 282.0L129.4 279.7L129.2 278.7L130.0 276.8L129.9 274.8L130.0 273.4M137.3 269.9L134.3 269.7M130.0 273.4L131.4 272.9L132.4 270.4L134.3 269.7M178.7 243.6L176.3 243.2L174.6 243.5L174.0 243.5L172.1 243.4M171.8 252.5L169.4 250.7M169.4 250.7L170.0 248.7L171.3 246.8L170.7 245.1L172.1 243.4M72.2 246.9L73.9 246.8L75.0 246.1L76.9 245.5L78.4 245.8L79.6 245.0L82.2 244.7L83.3 243.0L85.1 243.4L86.7 243.9L88.5 243.7L90.2 242.7M92.0 246.6L91.5 245.4L90.2 242.7M84.6 257.5L85.7 257.4L88.2 258.6L90.1 258.9L91.2 259.6L93.4 259.8M92.2 252.5L95.0 253.1M95.0 253.1L95.9 254.4M95.9 254.4L95.5 256.2L95.0 258.0L93.4 259.8M91.5 266.4L92.4 265.6L92.8 263.3L94.4 261.6M94.4 261.6L93.4 259.8M157.7 300.0L158.5 298.1L158.3 296.5L158.6 294.7L157.7 293.0L158.4 292.0L158.1 289.9L158.4 288.7L158.1 287.9L158.3 285.8L159.1 284.3L159.1 282.7L159.2 280.8L159.1 279.0L159.2 277.7L159.1 275.0L159.5 274.0M167.1 227.4L168.4 227.6L170.2 228.1L172.7 228.0L174.5 228.5M174.9 234.1L173.9 231.6L173.7 230.9L174.5 228.5M174.9 234.1L172.9 235.1L172.3 236.7L170.0 236.7L168.6 237.0L167.4 238.1M167.1 227.4L164.9 228.1L163.8 230.1M163.8 230.1L163.7 231.7L164.9 233.1L165.4 234.9L167.1 236.7L167.4 238.1M172.1 243.4L170.8 241.7L168.9 240.2L168.7 238.9L167.4 238.1M167.4 238.1L167.4 238.1M130.6 92.7L130.6 94.6L130.5 96.6L130.4 98.2M130.4 98.2L132.4 100.0M130.6 92.7L131.7 92.2L133.2 91.8L135.8 92.3L137.4 91.7M137.4 91.7L138.3 92.6M138.3 92.6L137.7 93.7L136.4 96.1L135.8 96.9L135.5 98.4M132.4 100.0L134.6 99.2L135.5 98.4M135.2 108.7L134.8 109.2M135.2 108.7L135.2 105.8L135.0 105.2M12.2 190.1L13.6 190.6L15.6 190.2L17.4 190.4L18.9 190.7L20.1 189.9L21.9 190.4L23.9 189.9L25.4 190.1L26.8 189.5L28.9 190.6L30.6 190.0L32.1 189.5L33.2 190.7L35.3 190.0L37.0 190.7L38.6 190.8L40.3 190.1L40.5 189.8L43.6 190.4L44.7 189.9L46.1 190.5L48.5 190.4L49.5 190.8L51.7 190.2L53.1 189.7L54.9 190.4L56.5 190.2L57.5 190.0L59.8 189.6L60.5 190.0L64.1 189.9L65.0 189.9L65.1 191.0L66.8 189.3L70.3 189.9L71.0 190.4M12.2 190.1L13.8 190.9L15.6 189.5L16.6 190.0L18.4 190.3L20.3 189.2L22.1 188.9L22.8 189.1L24.6 188.4L26.4 188.3L28.9 188.4L29.1 187.5L31.3 187.8L33.1 187.4L33.9 187.6L36.4 186.5L38.0 187.1L39.3 186.4L40.7 186.3L42.3 186.6L44.3 185.3L45.9 186.2L47.5 186.2L49.1 185.6L51.2 185.0L52.4 185.0L54.1 184.9L55.6 184.8L56.9 184.3L58.4 184.0L60.8 183.5L62.5 183.7L63.7 183.2L64.9 183.7L66.0 183.4L68.6 182.8L69.9 183.9L70.4 182.3L73.1 182.7L73.9 181.4L76.9 182.4L77.9 181.7L79.2 182.0L80.5 180.7L82.7 180.8L84.3 181.1L86.0 180.8L87.5 180.6L89.0 180.4M71.0 190.4L71.9 190.5L74.6 189.7L76.3 189.9L77.3 191.3L79.5 189.6L81.2 189.5L83.2 188.8L84.8 188.7L86.2 188.6L88.2 188.1M88.2 188.1L89.0 186.3L90.9 185.8L91.8 183.8M95.8 183.1L96.8 180.3M89.0 180.4L89.5 179.7M95.8 183.1L92.9 184.1M91.8 183.8L92.9 184.1M70.5 118.3L72.3 118.7L74.2 118.3L76.4 119.8L76.6 118.8L79.3 119.3L80.2 119.7L81.8 119.5L84.3 119.9L85.5 120.0L86.9 120.5M86.9 120.5L88.5 122.1L88.7 123.4L90.3 124.9M85.6 128.3L86.9 127.7L89.5 125.7L90.3 124.9M86.9 120.5L89.2 120.2L91.2 118.6M70.5 118.3L72.4 118.2L74.1 118.1L75.7 117.5L77.6 117.3L78.6 116.3L80.6 115.8L82.5 115.6L83.9 115.4L86.1 115.2L86.9 114.9L88.1 114.9L90.3 114.0M90.3 114.0L90.9 116.7L91.2 118.6M89.1 97.0L90.2 98.8L90.8 100.2L90.9 102.0M0.0 105.2L1.4 105.3L3.4 105.2L4.2 105.1L6.7 105.6L8.5 105.0L9.4 105.9L11.5 105.0L13.1 105.2L14.5 105.6L16.3 105.9L18.8 105.7L19.0 105.7L21.6 105.4L23.1 104.8L25.1 104.7L26.4 105.5M90.6 102.6L90.9 102.0M99.9 0.0L99.5 1.7L100.8 3.2L101.1 5.3L101.0 6.4L100.4 7.7L100.1 9.9L100.1 11.3L100.3 13.3L100.6 14.1L100.5 16.7L100.0 18.3L101.5 20.2L100.1 21.6L100.4 23.1L101.5 24.7L101.0 25.8L101.2 28.2L101.7 29.1L101.5 30.2L101.7 32.7L100.5 34.5L101.7 35.3L100.6 37.5L101.8 38.9L101.5 40.7L101.6 42.8L101.3 42.8L102.4 45.9L101.8 47.3L101.0 48.7L101.7 49.8L101.5 51.8L102.0 53.6L101.2 55.0L102.0 57.4L101.9 57.9L102.5 59.8L103.1 62.1L102.7 63.7L103.0 65.6L103.5 66.9L102.5 68.4M97.0 71.5L99.5 72.2M99.5 72.2L100.8 71.5M102.5 68.4L101.2 70.1L100.8 71.5M89.8 89.7L91.2 88.7L92.9 86.6L94.0 85.0M89.1 83.5L92.2 82.8M94.0 85.0L92.2 82.8M97.4 90.0L98.2 87.7L97.5 85.3M94.0 85.0L95.5 84.4L97.5 85.3M90.9 78.3L92.7 79.7M92.7 79.7L92.2 82.8M92.7 79.7L95.0 79.0L96.9 78.8M97.5 85.3L98.9 83.9M96.9 78.8L98.2 79.2M98.9 83.9L98.3 82.0L98.2 79.2M99.5 72.2L98.7 74.1L99.7 77.5L99.0 78.4M99.0 78.4L98.2 79.2M205.3 109.1L203.2 108.4L201.7 108.6L199.5 107.4L198.5 107.1M198.5 107.1L197.3 105.4L197.9 104.2L197.8 101.8M198.5 107.1L197.9 108.2L196.0 109.6L195.6 111.5M195.6 111.5L195.9 113.2M206.5 112.5L204.4 112.7L202.5 112.9L201.1 114.1L200.3 114.3L198.9 113.7L196.9 114.5M202.6 120.6L200.6 120.0L200.0 119.1L198.3 117.5L197.2 116.8M196.9 114.5L197.2 116.8M196.8 127.1L195.1 125.6L194.7 124.7L193.1 122.9M197.2 116.8L195.8 118.1L195.0 119.9L194.3 121.5L193.1 122.9M165.8 145.9L166.0 148.2L165.7 150.2M165.7 150.2L163.9 152.2M163.9 152.2L161.8 151.5L160.2 150.3M160.2 150.3L160.7 147.9L159.2 145.7M159.7 145.4L159.2 145.7M161.1 139.9L160.7 141.3L160.5 143.6L159.7 145.4M165.3 140.6L165.5 143.3L166.2 145.3M166.2 145.3L165.8 145.9M160.2 138.8L158.2 138.7L156.4 138.6L154.4 139.0M160.2 138.8L161.1 139.9M154.3 141.5L154.1 139.1M154.4 139.0L154.1 139.1M129.5 74.4L128.6 76.8M137.1 85.5L138.3 84.5L140.5 83.1L141.0 81.5L141.4 80.1M131.0 85.0L130.2 83.0M137.1 85.5L135.8 84.9L132.7 85.1L131.0 85.0M131.0 85.0L130.7 85.3M129.7 92.0L130.5 90.3L130.1 88.5L130.5 87.4L130.7 85.3M117.7 300.0L118.6 297.7L118.9 296.5L118.2 294.5L119.0 293.4L119.2 291.3L118.1 290.4L119.6 287.1L119.1 286.4L119.0 284.0L119.2 282.5M119.2 282.5L120.3 279.8L120.4 278.6L120.4 276.9L121.6 276.9L122.0 275.1L123.7 272.5L123.5 271.0M127.7 270.9L124.8 270.6L123.5 271.0M117.2 270.2L118.6 269.3L121.1 267.8M121.1 267.8L121.7 268.0M119.2 282.5L118.1 280.5L118.7 279.7L118.4 276.6L117.8 274.7L117.2 273.6L117.7 272.1L117.2 270.2M121.7 268.0L123.3 270.0L123.5 271.0M127.7 270.9L127.9 269.7L128.0 267.7L128.1 266.0M121.7 268.0L123.4 267.0L124.8 265.5L126.7 265.0M126.7 265.0L128.1 266.0M134.3 269.7L132.1 267.7L131.7 265.7M168.1 220.4L167.8 221.7L167.4 223.7L167.7 225.4L167.1 227.4M160.1 218.3L161.5 217.6L162.7 216.6L164.5 216.4M160.1 218.3L160.0 220.7L158.9 221.5L157.8 223.6L157.6 225.4M164.5 216.4L165.2 217.7L167.3 218.5L168.1 220.4M163.8 230.1L161.4 230.0L159.2 229.0M157.6 225.4L158.3 228.2L159.2 229.0M118.8 262.2L115.8 262.0M117.2 270.2L114.5 270.0L113.6 268.3M113.6 268.3L114.8 267.3L114.5 265.1L114.7 263.7L115.8 262.0M97.5 270.0L98.0 268.1L99.2 266.6L100.0 265.2M94.4 261.6L96.4 261.5L97.9 262.2M100.0 265.2L98.0 263.7L97.9 262.2M0.0 190.7L2.1 190.1L3.5 190.9L4.3 190.8L7.0 191.0L9.0 190.5L10.9 190.3L12.2 190.1M71.0 190.4L72.7 190.8L74.8 191.3L76.0 191.2L77.6 191.4L79.2 191.7L80.3 191.8L82.2 192.8L83.5 192.5L85.8 193.2L87.8 193.9L89.4 193.1L90.7 194.0M0.0 200.3L2.3 200.6L2.6 200.7L4.3 200.0L6.3 200.5L8.4 200.9L9.5 201.6L11.3 200.6L13.6 201.5L13.8 200.0L16.2 201.6L17.5 200.8L20.6 201.3L20.9 202.0L22.6 201.3L24.0 201.0L25.0 202.2L28.0 201.9L29.6 201.8L30.4 201.6L32.2 202.1L33.7 201.5L35.1 202.2L37.0 202.2L38.9 202.2L40.3 202.3L41.6 202.6L44.1 202.4L45.9 203.4L46.4 203.2L48.7 202.4L50.0 202.8L52.5 203.4L54.0 203.0L55.2 203.2L56.5 203.7L57.9 203.1L59.8 202.7L61.4 204.2L62.1 203.1L64.8 203.4M64.8 203.4L67.2 203.2L68.0 203.3L70.3 203.9L70.5 202.9L73.8 202.5L75.4 203.1L76.9 202.6M76.9 202.6L78.9 202.9L79.5 201.7L81.8 200.8L84.5 200.4L85.0 199.7L86.7 200.3L88.0 200.1L90.1 199.2M90.7 194.0L91.1 195.9L89.8 197.4L90.1 199.2M76.9 202.6L78.7 202.4L79.4 203.3L81.2 202.5L84.1 204.4L84.7 204.8L85.9 204.0L87.6 205.1L89.4 204.0L91.4 205.7L92.9 205.8M93.6 204.7L92.9 205.8M112.0 200.4L112.6 198.8L111.9 196.8M112.0 200.4L110.6 199.5L108.1 201.1L106.3 200.2L105.4 200.6M111.9 196.8L110.6 196.9L108.8 195.8L106.8 196.6M64.8 203.4L66.5 204.0L67.2 204.2L68.8 204.4L70.7 204.2L72.4 205.6L74.4 206.5L75.8 206.9L76.8 207.1L79.2 207.2L79.0 207.8L82.0 208.3L82.8 208.9L84.2 208.4L85.8 209.6L88.3 210.2L89.5 210.6M92.9 205.8L92.9 206.1M89.5 210.6L89.7 209.3L91.8 207.5L92.9 206.1M146.3 209.4L145.7 207.7L144.6 205.9M150.3 300.0L150.2 298.8L150.0 296.2L150.4 295.5L149.6 293.7L149.8 291.4L149.8 290.3L149.5 289.1L149.1 287.2L148.5 284.8L149.3 283.9L148.8 281.9L148.5 280.1L148.8 277.7L148.7 277.1L148.7 275.5M138.9 277.8L140.0 277.1L141.8 275.2L142.5 274.7L143.0 273.2L144.9 271.9M148.7 275.5L147.4 274.1L145.8 273.2L144.9 271.9M137.3 269.9L139.2 268.9L139.8 267.4M139.8 267.4L142.5 269.2L142.9 268.7L144.8 270.6M144.9 271.9L144.8 270.6M144.8 270.6L146.2 269.5L147.4 268.2L148.6 267.5M148.6 267.5L149.6 269.0L149.5 269.9L151.9 271.7M159.5 274.0L157.4 273.0L156.6 271.5M156.6 271.5L154.8 272.2L151.9 271.7M131.7 265.7L133.3 264.3L132.7 263.7L134.2 261.5M134.2 261.5L136.1 261.8M139.8 267.4L139.8 267.3M136.1 261.8L137.2 263.2L137.4 264.4L137.9 266.3L139.8 267.3M174.5 228.5L176.4 227.1L177.7 224.9M183.8 232.8L184.1 231.5M177.7 224.9L178.6 226.1L179.2 227.6L182.4 228.8L183.4 229.9L184.1 231.5M127.7 98.9L126.9 100.7L125.0 102.6L124.8 103.9M130.4 98.2L127.7 98.9M125.7 105.3L124.8 103.9M127.7 98.9L125.7 97.7L123.9 96.3M122.1 99.4L123.3 101.0L124.4 101.5L124.8 103.9M123.9 96.3L122.5 98.2L122.1 99.4M124.8 103.9L124.8 103.9M118.7 99.7L119.1 102.4L119.4 104.4M118.7 99.7L121.0 98.8L122.1 99.4M124.8 103.9L122.5 103.4L121.3 104.3L119.4 104.4M139.5 93.1L139.9 94.9L140.8 97.4L141.0 97.9L141.0 100.2M141.0 100.2L140.9 100.3M138.3 92.6L139.5 93.1M140.9 100.3L139.2 100.8M135.0 105.2L136.9 104.5M139.2 100.8L137.1 102.0L136.9 104.5M185.0 98.2L184.4 96.9L182.6 95.3M185.0 98.2L183.6 99.8L182.5 100.9L180.8 101.4L179.3 103.1M182.6 95.3L180.3 95.6L178.0 95.7M172.4 99.0L171.5 100.5L170.8 102.9L170.0 104.3M179.4 104.5L179.3 103.1M179.4 104.5L178.0 105.6L176.5 105.8L174.6 106.1L173.9 106.9L172.0 107.7M170.0 104.3L171.4 106.4L172.0 107.7M180.2 147.7L179.9 149.2L180.2 152.3M180.2 147.7L179.0 148.1L177.1 147.0L175.6 147.1L173.4 146.0M173.4 146.0L172.5 148.0L172.9 149.9L172.3 151.4M177.6 154.0L180.2 152.3M165.7 150.2L167.1 150.3L169.2 151.8L170.9 151.2L172.3 151.4M172.8 144.7L171.6 144.6L169.5 145.0L168.1 145.8L166.2 145.3M172.8 144.7L173.4 146.0M190.4 146.1L188.4 144.2L187.9 143.5L186.0 141.7M190.4 146.1L189.6 147.8M189.6 147.8L188.1 147.9L185.8 148.2L184.2 147.6L182.3 147.8L181.0 146.9M190.5 146.0L190.4 146.1M188.4 133.7L188.6 135.5L187.8 137.0L186.9 139.1L185.2 140.3L186.0 141.7M189.4 133.9L188.4 133.7M201.6 150.8L200.6 149.2L199.7 147.3M189.6 150.4L189.6 147.8M186.0 154.6L183.3 154.4L182.3 152.7L180.2 152.3M180.2 147.7L181.0 146.9M91.2 118.6L93.2 119.4M93.2 119.4L93.1 121.6L93.1 123.2M90.3 124.9L91.0 125.0M93.1 123.2L91.0 125.0M91.2 147.1L89.5 145.9M89.5 145.9L89.9 144.9L88.6 142.3L88.5 141.1M93.4 142.7L92.6 140.8M91.2 147.1L92.3 146.2L92.5 144.2L93.4 142.7M92.6 140.8L90.4 140.5L88.5 141.1M89.5 145.9L88.6 146.3L85.8 145.3L84.6 146.3L82.4 146.0L82.0 147.0L80.0 146.8L77.5 147.1L76.8 146.9L75.3 146.3L74.2 146.8L71.7 146.9L69.4 148.1L68.3 148.3L66.7 147.9L65.7 148.2L64.3 148.1L62.1 148.1L60.4 148.2L59.3 148.4L57.4 148.3L55.2 148.9L54.4 148.8L52.5 149.3L51.4 148.9L49.8 149.5L47.5 149.3L46.0 149.6L45.2 149.9L43.0 150.5L41.5 150.4L39.5 151.1L38.0 150.9L36.6 150.4L34.9 150.9L33.5 150.8M0.0 152.1L1.9 152.3L2.5 152.3L5.1 151.9L6.6 152.4L8.3 152.2L9.5 151.2L12.3 150.6L13.6 151.9L14.7 151.9L16.8 151.4L18.4 151.1L19.6 152.3L21.6 151.1L23.5 151.1L24.6 151.3L27.1 151.9L28.2 151.0L30.1 150.2L31.7 150.1L33.5 150.8M0.0 138.0L1.6 138.1L3.5 138.0L5.0 138.6L6.3 137.8L8.3 138.1L9.1 137.8L11.1 138.4L12.8 137.8L14.6 137.6L16.2 137.8L18.2 138.4L19.6 138.0L20.6 138.2L20.9 137.8L23.7 138.3L25.7 138.2L27.2 139.0L30.0 137.7L30.8 137.2L32.0 139.2L32.6 137.9L35.3 138.5L36.6 138.4L38.9 138.6L40.6 138.1L41.5 137.9L43.1 138.4L45.5 138.6L47.1 137.6L48.4 137.3L49.5 138.4L52.0 137.6L53.9 138.8L55.9 138.0L56.8 137.8L58.1 137.9L59.7 138.8L61.1 138.4L61.9 137.7L64.2 138.1L65.8 138.1L66.9 138.1L69.3 138.3L71.3 137.3L71.6 137.9L73.8 137.9L76.6 138.4L76.4 138.1L78.1 138.3L80.7 137.8L82.2 137.6L83.6 138.1M99.6 116.0L102.5 116.5M99.6 116.0L98.1 118.8L98.3 120.1M98.4 120.3L98.3 120.1M98.4 120.3L100.1 121.0L102.8 121.1L104.5 120.9M102.5 116.5L103.7 118.1L104.6 120.5M104.5 120.9L104.6 120.5M96.5 124.8L95.3 124.0L93.1 123.2M98.2 124.1L96.5 124.8M98.2 124.1L98.5 122.0L98.4 120.3M98.2 124.1L100.5 124.8L101.6 126.4M104.5 120.9L104.5 120.9M99.6 116.0L99.1 115.3M99.1 115.3L97.2 114.8L95.4 115.0M98.5 97.6L99.9 98.4M99.9 98.4L99.0 99.6L99.5 102.3M99.5 102.3L97.3 103.9M97.3 93.7L97.7 96.0L98.5 97.6M101.1 98.1L103.4 98.9L104.4 100.2L105.6 100.9M103.9 104.2L102.7 103.0L101.1 103.2L99.5 102.3M101.1 98.1L99.9 98.4M26.4 105.5L27.5 105.4L29.2 105.5L31.1 105.6L32.7 105.7L34.4 105.6L36.3 106.8L38.1 105.9L38.4 105.4L40.8 106.8L42.7 107.0L43.8 105.7L45.8 106.4L48.1 106.8L48.7 106.3L50.9 107.2L52.1 107.2L54.1 106.9L54.9 107.9L57.7 106.6L58.5 107.3L60.5 107.2L61.7 106.9L62.8 108.0L65.5 107.8L67.1 107.3L68.9 107.4L71.2 107.9L71.7 107.4L72.4 106.8L74.7 108.2L76.5 108.1L79.2 108.0L78.9 107.8L81.2 108.3L82.9 109.5L84.4 108.4L87.0 108.3L87.7 109.2L89.4 108.7M90.6 102.6L91.3 104.8L91.3 106.6M89.4 108.7L91.3 106.6M90.3 114.0L91.1 112.7M97.3 103.9L96.7 106.4L96.8 107.2M95.4 115.0L93.8 112.8M91.1 112.7L93.8 112.8M99.0 78.4L100.7 77.5L103.5 77.9M100.8 71.5L102.9 73.4L104.2 74.4M104.2 74.4L103.3 76.1L103.5 77.9M195.9 113.2L193.9 114.3L192.1 114.3L190.4 115.2L188.9 115.4L186.9 116.6M193.1 122.9L190.0 122.5M186.9 116.6L188.0 118.3L188.0 119.4L189.7 121.0L190.0 122.5M185.9 114.2L184.6 113.5L183.7 112.3L182.0 111.6L180.5 110.6M185.9 114.2L185.9 112.7L187.2 111.4L188.1 109.1L189.2 107.4M189.2 107.4L188.7 105.7M188.7 105.7L187.0 105.9L184.5 106.5L183.0 105.4L181.0 106.7M180.5 110.6L181.4 109.4L181.0 106.7M186.6 116.4L186.9 116.6M195.6 111.5L194.2 110.4L193.4 109.3L191.0 108.1L189.2 107.4M186.6 116.4L185.9 114.2M195.7 101.1L197.8 101.8M195.7 101.1L193.3 101.7L192.5 102.1L191.1 103.0L189.5 103.4M189.5 103.4L188.7 105.7M186.1 98.5L185.0 98.2M179.4 104.5L181.0 106.7M189.5 103.4L188.5 101.5L187.4 100.0L186.1 98.5M190.0 122.5L187.9 124.5L187.8 125.3L185.6 127.1M186.9 132.8L185.5 131.3L186.3 128.1L185.6 127.1M186.6 116.4L184.9 117.6L183.5 116.9L181.9 119.4L180.5 119.5M180.5 119.5L181.2 121.8L180.8 123.7L180.6 124.9M185.6 127.1L184.2 125.6L182.3 125.4L180.6 124.9M183.3 159.3L180.6 160.5M177.6 154.0L177.7 156.4L177.2 158.1M180.6 160.5L178.6 159.2L177.2 158.1M170.4 158.3L169.8 157.0M170.4 158.3L172.5 158.7L174.4 159.8M174.4 159.8L177.0 159.1L177.2 158.1M181.9 75.8L182.4 78.3M177.1 74.8L179.3 75.3L180.0 75.1L181.9 75.8M178.9 82.5L179.6 80.7L182.0 79.8L182.4 78.3M198.1 80.6L196.6 82.3L195.8 83.8L194.8 85.5M196.6 76.2L195.4 76.5L193.3 76.6L191.6 76.6M190.2 78.9L191.6 76.6M191.5 84.3L193.0 84.7L194.8 85.5M200.5 90.8L198.3 89.7L196.4 90.1M194.8 85.5L196.0 86.2L195.9 88.6L196.4 90.1M188.7 73.0L186.8 73.6L185.7 74.2L184.0 74.7L182.2 75.5M182.2 75.5L182.3 73.6L182.3 71.4L181.9 69.6L182.4 68.6L182.3 66.8L181.7 64.6L181.8 62.7M181.8 62.7L182.4 61.0L183.3 59.8L183.4 57.8L183.6 56.9L184.1 55.2L184.2 54.0L185.5 51.9L185.3 49.8L185.1 48.6L186.3 46.9L186.9 45.0L187.1 43.7M187.1 43.7L187.0 45.3L187.5 46.7L187.4 48.6L189.1 50.7L188.4 51.3L188.5 52.9L188.6 55.0L188.4 55.9L188.9 58.2L189.8 59.5M191.6 76.6L189.9 75.3L188.7 73.0M185.2 80.2L183.3 79.5L182.4 78.3M190.2 78.9L188.6 78.9L186.7 79.8L185.2 80.2M197.3 73.3L196.8 72.1L196.0 70.1L195.2 69.1L194.1 67.1L192.9 66.1L192.8 64.3L191.7 63.1L190.5 61.7L189.8 59.5M175.9 71.9L176.6 70.2L177.5 68.5L178.4 67.3L179.3 66.5L180.2 64.2L181.8 62.7M187.7 0.0L187.8 2.2L187.9 3.7L187.7 4.6L187.3 6.5L188.2 7.5L187.3 9.7L187.6 11.0L187.2 13.6L188.1 14.5L187.7 16.4L187.1 17.7L187.0 19.1L187.5 21.6L187.4 23.2L187.7 23.8L187.5 26.3L187.8 26.9L186.9 29.2L186.9 31.0L187.0 32.3L187.8 34.2L187.4 35.4L187.3 37.5L186.9 39.0L186.8 40.2L188.3 42.2L187.1 43.7M147.9 87.8L147.9 87.9M147.9 87.9L146.5 89.9L145.8 90.8L145.0 92.6M145.8 98.8L144.4 99.1L142.4 99.7L141.0 100.2M145.8 98.8L146.8 96.3M145.0 92.6L145.5 95.2L146.8 96.3M128.6 76.8L125.8 78.2M130.2 83.0L128.4 82.5L126.3 81.5M125.8 78.2L126.0 79.4L126.3 81.5M133.0 259.8L129.9 259.0M126.7 265.0L126.1 262.6M129.9 259.0L128.5 259.8L128.3 261.1L126.1 262.6M118.8 262.2L121.0 260.6L121.8 260.1M126.1 262.6L124.7 261.6L123.3 260.2L121.8 260.1M159.2 229.0L157.9 229.8L156.7 232.2L155.1 233.0L154.1 234.8M167.4 238.1L165.9 239.6L164.9 240.1L162.9 241.2L162.0 242.4M162.0 242.4L159.9 240.6L159.1 240.4L157.8 238.9L157.3 237.4L155.6 236.1L154.1 234.8M165.0 250.8L163.0 249.4L162.2 247.9L160.7 246.1M162.0 242.4L161.3 245.4L160.7 246.1M100.0 265.2L101.9 264.3L103.1 264.5L105.1 264.4M113.6 268.3L112.6 268.7M125.4 250.2L124.3 249.5L122.3 249.3L119.7 248.6M125.4 250.2L124.6 251.8L124.0 253.8L124.1 255.3M124.1 255.3L122.4 256.3M114.7 261.0L115.8 262.0M114.7 261.0L114.1 258.7L114.2 257.0L114.2 254.8M121.8 260.1L122.0 258.5L122.4 256.3M128.4 256.3L129.9 259.0M128.4 256.3L126.3 255.7L124.1 255.3M112.6 268.7L110.9 267.2L110.1 267.7L109.5 266.1L107.6 264.6L106.5 263.5M108.6 261.6L106.5 263.5M111.3 252.9L112.3 254.2L114.2 254.8M111.3 252.9L110.2 254.2L108.1 254.6M108.6 261.6L109.2 260.1L108.4 258.7L107.8 255.9L108.1 254.6M105.1 264.4L105.9 263.7M106.5 263.5L105.9 263.7M140.2 197.9L142.3 197.3L143.9 195.8M133.7 194.6L132.7 194.1M133.7 194.6L135.2 193.6L138.0 192.6M132.7 194.1L133.0 191.6L133.6 189.5M133.6 189.5L136.4 189.4M136.4 189.4L136.6 191.6L138.0 192.6M139.9 197.7L139.5 196.2L138.8 193.8L138.3 192.7M139.9 197.7L136.9 198.2L135.3 197.9M135.3 197.9L135.1 196.2L133.7 194.6M138.0 192.6L138.3 192.7M91.8 231.4L92.9 229.9M91.8 231.4L91.8 233.6M92.2 240.4L93.7 237.9L94.6 236.8M91.8 233.6L93.2 235.4L94.6 236.8M111.3 252.9L111.3 251.5M114.4 246.2L113.8 247.8L111.5 250.4L111.3 251.5M114.4 246.2L114.2 245.6M122.6 242.7L122.1 243.9L121.3 246.0L121.1 246.1L119.7 248.6M105.7 246.1L107.8 245.5L108.3 244.2L110.7 244.6L112.2 243.6M111.3 251.5L109.8 249.6L108.4 249.0L107.1 247.0L105.7 246.1M114.2 245.6L112.2 243.6M111.3 193.5L112.2 192.2L113.0 190.8L112.9 188.9M112.9 188.9L111.6 188.0L108.9 188.1M108.1 192.3L108.6 190.3L108.9 188.1M106.8 196.6L105.9 195.3L105.4 193.5M112.5 195.7L111.3 193.5M111.9 196.8L112.5 195.7M108.1 192.3L105.4 193.5M105.0 200.8L104.2 200.6M104.2 200.6L102.3 198.8L102.3 197.8L101.2 195.6M105.4 193.5L103.1 192.7M105.0 200.8L105.4 200.6M101.2 195.6L102.1 195.0L103.1 192.7M104.2 200.6L102.7 200.8L100.2 201.3L98.7 202.1M98.7 202.1L98.5 200.5L97.9 199.3L97.0 197.3M101.2 195.6L99.7 196.9L97.0 197.3M93.6 204.7L95.2 203.8L96.6 203.2L98.3 203.2M130.4 193.5L128.9 190.6M128.9 190.6L126.7 192.7M130.4 193.5L127.8 193.5L126.8 193.3M126.8 193.3L126.7 192.7M91.1 213.3L89.5 215.5L88.5 216.3M94.4 213.6L94.4 215.4L95.8 216.4L95.8 218.4M88.5 216.3L89.2 217.3L90.5 219.5L91.4 221.1M95.8 218.4L94.5 219.0L92.9 220.3L91.7 221.2M91.4 221.1L91.7 221.2M96.6 211.2L95.2 209.5L94.3 207.1L92.9 206.1M96.6 211.2L95.1 212.9L94.4 213.6M89.5 210.6L91.1 213.3M95.8 218.4L98.6 219.2M102.5 215.4L104.2 216.6L105.9 216.8M102.5 215.4L101.4 217.3L99.1 218.7L98.6 219.2M106.5 219.1L105.9 216.8M96.6 211.2L98.0 210.9M102.5 215.4L101.6 212.8M98.0 210.9L99.7 211.4L101.6 212.8M98.3 203.2L99.9 205.9M98.0 210.9L99.1 209.1L99.3 207.6L99.9 205.9M113.7 203.2L112.0 203.3L111.4 205.7M112.0 200.4L112.8 202.3L113.7 203.2M105.0 200.8L105.8 202.6L105.7 204.8L105.9 205.7M99.9 205.9L102.2 206.1L103.6 206.3L105.1 206.7M105.1 209.0L105.1 206.7M105.9 205.7L105.1 206.7M122.4 229.3L121.7 228.2M122.4 229.3L124.5 228.8L125.8 230.0L126.4 230.6L128.7 230.7M127.9 224.2L129.2 224.7M129.2 224.7L130.5 227.1M124.6 225.7L122.5 227.2L121.7 228.2M127.9 224.2L125.8 225.2L124.6 225.7M131.5 208.7L133.1 207.9L134.9 207.5L136.0 206.6L137.7 206.5M137.5 204.9L137.7 206.5M137.5 204.9L135.3 204.5L134.8 201.2L133.5 201.2M133.5 201.2L131.3 201.4M131.3 201.4L129.6 203.1M144.6 205.9L142.3 206.9L141.0 206.6L138.6 207.3M138.6 207.3L137.7 206.5M140.2 197.9L139.9 197.7M135.3 197.9L134.1 199.0L133.5 201.2M171.4 260.7L169.5 260.2L168.2 260.5L167.0 260.1L164.4 260.0L163.0 259.7M165.0 250.8L164.2 253.4L163.9 255.0L162.9 256.1L162.2 257.9M163.0 259.7L162.2 257.9M148.6 267.5L149.0 265.7M139.8 267.3L140.9 266.3L143.1 263.8M143.1 263.8L145.4 264.4L146.3 264.4L149.0 265.7M149.0 265.7L150.3 265.2L151.8 262.7M184.1 231.5L185.2 230.3L187.6 229.4L188.4 228.2M188.4 228.2L186.5 226.4L186.5 225.3L185.4 224.1L184.9 223.1L183.9 221.3M107.1 118.7L109.4 120.0L111.3 120.0M107.1 118.7L107.3 117.6L107.6 115.0M107.6 115.0L108.1 114.7M108.1 114.7L109.6 114.9L111.4 115.3M111.3 120.0L112.5 118.0L112.2 116.8M112.2 116.8L111.4 115.3M104.4 114.5L106.5 114.0L107.6 115.0M104.4 114.5L102.5 116.5M104.6 120.5L107.1 118.7M110.0 109.0L111.5 110.6L112.8 112.8M111.3 120.0L111.4 120.4M104.5 120.9L106.5 122.2L108.5 123.3L109.2 124.4M111.4 120.4L110.2 121.7L109.2 124.4M134.4 113.0L135.2 111.0L134.8 109.2M134.4 113.0L132.4 113.8L130.7 115.0M128.1 111.3L129.0 112.8L130.1 114.7M130.7 115.0L130.1 114.7M122.5 126.0L123.9 126.8M125.7 126.0L125.6 124.3L127.0 123.1L127.2 121.4M122.5 126.0L121.6 124.6L121.2 122.5M121.2 122.5L122.4 122.5L125.2 121.6L126.7 121.0M128.3 121.4L130.0 119.4L131.7 118.4M128.3 121.4L127.2 121.4M131.7 118.4L131.9 116.9L130.7 115.0M130.1 114.7L128.3 116.3L127.0 116.6L125.4 117.5M126.7 121.0L125.8 120.4L125.4 117.5M122.1 113.3L122.1 113.3M122.1 113.3L122.8 111.5L121.6 110.0M121.6 110.0L120.1 109.3L118.6 107.7M115.7 112.1L115.9 109.4M115.9 109.4L117.0 108.4L118.6 107.7M123.4 116.2L125.4 117.5M128.1 111.3L125.8 112.1L124.0 112.3L122.1 113.3M123.4 116.2L122.1 113.3M125.7 105.3L124.8 106.5L124.0 107.9L121.6 110.0M118.6 105.1L118.6 107.7M119.4 104.4L118.6 105.1M112.8 112.8L115.7 112.1M166.6 122.3L166.8 120.3M166.8 120.3L166.8 120.2M173.9 125.4L174.5 123.6L173.4 121.5L173.5 119.3M169.9 126.7L168.5 125.8L168.4 124.1L166.6 122.3M169.2 80.3L168.4 81.6L166.9 83.2L166.0 83.8M162.4 80.1L162.9 81.7L165.1 83.8M165.1 83.8L166.0 83.8M174.1 83.2L173.5 85.2M173.5 85.2L172.3 86.8L169.6 87.9M166.0 83.8L167.6 85.4L168.7 86.9L169.6 87.9M134.4 119.5L135.3 118.1L137.0 116.6L137.6 115.7M139.4 121.5L140.8 119.6L141.1 118.0M141.1 118.0L139.2 116.8L137.6 115.7M134.4 113.0L136.4 114.7L137.5 115.5M134.4 119.5L131.7 118.4M137.5 115.5L137.6 115.7M144.0 130.7L142.2 131.2M142.8 124.3L141.5 125.9L140.6 126.5L139.1 128.5M142.8 124.3L144.2 124.1M139.1 128.5L140.4 129.8L142.2 131.2M144.2 124.1L146.3 125.4M136.9 104.5L138.7 105.3L140.2 105.4L142.2 106.1M145.8 98.8L146.9 100.3L147.0 102.5M129.7 128.0L129.8 130.6M129.7 128.0L130.4 126.5L131.6 125.1M131.6 125.1L132.9 124.9L135.4 124.4M129.9 130.6L129.8 130.6M129.9 130.6L132.6 130.7L134.1 130.4L135.5 130.6M135.4 124.4L137.1 126.3L137.5 128.3M135.5 130.6L137.5 128.3M126.6 131.9L128.2 131.5L129.8 130.6M124.0 130.5L126.6 131.9M124.0 130.5L123.6 129.4L123.9 126.8M125.7 126.0L127.1 126.6L129.7 128.0M128.3 121.4L129.6 122.0L130.3 123.5L131.6 125.1M142.8 124.3L141.9 122.9L139.4 121.5M139.1 128.5L137.5 128.3M141.6 140.0L142.6 140.2L144.8 139.6L146.7 139.2M141.6 134.0L140.5 135.2M69.1 163.1L71.6 162.3L72.3 161.8L73.9 160.9L75.2 160.5L76.5 160.5L78.2 159.1L80.0 159.5L81.1 158.7L83.1 158.5L84.4 156.7L86.2 156.7L87.6 156.1L89.4 155.5M69.1 163.1L70.8 163.1L71.9 163.6L74.2 163.5M89.4 155.5L92.0 157.4M92.0 157.4L91.4 158.9L91.0 160.7M74.2 163.5L76.8 163.7L77.1 162.7L79.9 162.2L80.3 162.8L82.0 161.9L84.1 161.9L85.3 161.8L88.5 161.1L88.5 160.6L91.0 160.7M92.6 140.8L93.7 138.5M88.4 135.6L90.1 135.2L92.3 136.3L93.4 137.1M83.6 138.1L86.0 137.4L87.5 137.6L88.4 135.6M93.4 137.1L93.7 138.5M95.6 129.8L95.0 131.1L93.7 132.8M92.5 128.0L91.9 129.9L89.6 130.6M90.0 132.1L89.6 130.6M91.0 125.0L92.5 126.1L92.5 128.0M101.6 126.4L100.3 127.9L100.1 129.0L99.7 130.9M99.7 130.9L97.3 131.0L95.6 129.8M100.2 132.1L99.7 130.9M100.2 132.1L98.6 133.4L98.1 134.9M94.5 135.4L95.9 134.6L98.1 134.9M94.5 135.4L93.7 132.8M85.6 128.3L88.0 129.9L89.6 130.6M94.5 135.4L93.4 137.1M88.4 135.6L89.8 133.9L90.0 132.1M101.1 98.1L102.1 95.7L103.4 94.7M105.6 100.9L105.8 99.4L106.5 97.5L107.5 96.4M107.5 96.4L105.9 94.5M98.3 91.5L100.1 91.5M103.4 94.7L102.1 93.2L100.1 91.5M109.4 102.2L109.2 104.2L109.7 106.7M109.4 102.2L110.6 100.4L112.8 100.1M113.6 100.3L112.8 100.1M112.4 107.1L110.5 107.6M110.5 107.6L109.7 106.7M104.1 105.5L103.9 104.2M104.1 105.5L106.2 107.1L107.7 106.4L109.7 106.7M110.5 96.7L107.5 96.4M117.1 98.5L118.7 99.7M117.1 98.5L115.0 100.2L113.6 100.3M115.9 109.4L114.4 109.0L112.4 107.1M110.0 109.0L110.5 107.6M99.5 113.0L99.2 111.3L96.7 109.6M99.5 113.0L102.4 112.2L103.2 110.9M102.8 107.9L100.2 107.6L98.3 107.6L96.9 107.4M96.9 107.4L96.7 109.6M99.1 115.3L99.5 113.0M93.8 112.8L95.0 111.7L96.7 109.6M104.4 114.5L103.6 112.8L103.2 110.9M96.8 107.2L96.9 107.4M104.1 105.5L102.8 107.9M116.0 74.7L117.7 73.3L118.4 71.0L119.2 70.2M116.0 74.7L116.7 75.8L119.9 76.4L121.4 77.2M121.8 77.0L121.4 77.2M121.8 77.0L122.6 75.4L122.8 73.6M122.8 73.6L122.0 71.4M122.0 71.4L119.2 70.2M113.5 72.5L115.2 74.8M113.5 72.5L113.4 71.1L114.5 68.9L115.3 67.6L115.5 65.5L116.5 63.9M115.2 74.8L116.0 74.7M116.5 63.9L117.4 65.3L118.0 67.6L118.9 67.2L119.2 70.2M125.8 78.2L123.6 78.2L121.8 77.0M128.3 72.5L126.2 73.7L124.6 73.0L122.8 73.6M115.2 0.0L115.6 2.1L115.0 2.9L114.9 4.6L114.9 6.8L115.5 8.5L115.0 8.7L115.6 11.3L116.2 13.3L114.5 14.5L114.9 16.5L114.8 18.1L115.1 19.7L114.4 21.5L114.8 22.3L115.0 24.7L114.8 26.2L114.7 27.9L114.4 29.4L114.3 31.5L114.4 33.7L114.7 34.3L114.7 36.4L114.2 38.6L114.5 38.9L114.9 41.1L114.9 41.9L114.4 44.5M114.4 44.5L114.5 45.8L114.6 47.5L115.1 48.6L115.9 50.4L115.2 52.5L115.3 54.2L115.4 55.6L115.2 57.2L116.0 59.4L115.9 61.9L116.8 61.8L116.5 63.9M107.1 86.7L106.8 84.1L106.3 83.2M107.1 86.7L105.9 86.9L104.2 88.6M103.8 88.5L104.2 88.6M103.8 88.5L103.8 87.2L101.7 84.7L101.1 84.4M101.1 84.4L103.1 83.5L105.1 82.4M105.1 82.4L106.3 83.2M100.1 91.5L101.2 90.3L103.4 89.6L103.8 88.5M106.6 92.4L105.9 94.5M106.6 92.4L105.7 90.3L104.2 88.6M98.9 83.9L101.1 84.4M104.9 79.0L104.9 79.8L105.1 82.4M103.5 77.9L104.9 79.0M109.9 82.1L107.6 81.7L106.3 83.2M109.9 82.1L108.7 79.8L108.7 77.8M108.7 77.8L107.5 78.8L104.9 79.0M108.4 74.7L106.3 73.6M108.4 74.7L110.4 73.6L111.1 71.9M106.3 73.6L106.6 70.5M106.6 70.5L109.3 69.2M109.3 69.2L110.8 71.0L111.1 71.9M104.2 74.4L106.3 73.6M109.1 77.3L108.4 74.7M109.1 77.3L108.7 77.8M113.7 77.1L115.2 74.8M113.5 72.5L111.1 71.9M113.7 77.1L110.8 76.9L109.1 77.3M102.5 68.4L104.9 69.3L106.6 70.5M114.4 44.5L114.5 46.6L114.0 47.5L113.5 49.6L112.8 51.3L113.1 53.0L112.1 54.8L112.2 55.5L111.7 57.4L111.9 59.6L110.2 60.9L110.9 62.4L109.3 64.6L109.7 65.8L109.3 67.8L109.3 69.2M173.0 133.6L171.5 131.6L171.0 130.7L168.9 129.0M173.0 133.9L171.4 135.6L170.1 136.4L169.0 137.7M165.3 133.8L167.0 136.4L168.1 137.7M177.2 126.7L177.2 128.4M177.2 128.4L176.3 129.6L174.2 131.0L174.2 132.2L173.0 133.6M173.9 125.4L175.9 125.4L177.2 126.7M169.9 126.7L168.9 129.0M165.3 140.6L166.4 139.7L168.1 137.7M160.9 136.1L160.2 138.8M160.9 136.1L162.6 134.9L164.5 135.2L165.3 133.8M172.8 144.7L173.4 142.5M173.4 142.5L172.7 141.3L170.3 139.9L170.9 139.5L169.0 137.7M176.0 135.8L176.2 138.4L176.5 140.4M176.0 135.8L178.0 134.9L180.2 133.6M180.2 133.6L182.7 134.3M173.4 142.5L175.2 141.0L176.5 140.4M173.0 133.9L174.1 134.4L176.0 135.8M177.2 128.4L177.7 130.4L178.5 132.6L180.2 133.6M186.9 132.8L185.4 134.0L182.7 134.3M180.6 124.9L178.8 124.9L177.2 126.7M169.8 172.3L169.6 174.0L169.4 175.4L167.8 176.8M174.1 173.7L173.5 176.0L173.9 177.7L174.2 179.1L174.2 181.6M174.2 181.6L172.4 182.2M163.2 181.3L163.5 178.5M167.8 176.8L165.5 177.5L163.5 178.5M172.4 182.2L170.5 184.0M163.2 181.3L161.8 183.1L160.7 183.8L160.2 185.0M164.5 189.4L162.9 187.9L160.9 186.1L160.2 185.0M164.5 189.4L165.2 188.4L167.8 187.8L169.8 187.0M169.8 187.0L170.5 184.0M175.2 165.7L177.5 164.8L178.0 164.1L180.4 164.0M175.2 165.7L176.2 167.2L176.2 169.2L177.4 170.8M180.4 164.0L180.9 166.1L182.9 166.3L183.8 167.7M183.8 167.7L182.8 169.4M174.2 165.2L175.2 165.7M174.2 165.2L174.5 163.1L174.5 162.1L174.4 159.8M180.6 160.5L180.1 162.1L180.4 164.0M176.2 172.9L177.4 170.8M176.2 172.9L178.0 174.9L178.8 175.8L180.5 176.7M180.5 176.7L181.9 175.1L183.8 174.2M183.8 174.2L183.2 172.8L181.9 171.8L182.8 169.4M185.3 167.3L183.8 167.7M189.6 176.2L188.8 176.5M188.8 176.5L187.7 175.6L185.6 173.9L183.8 174.2M183.0 91.8L185.0 90.0L187.0 89.4M187.0 89.4L186.9 86.5M180.7 85.7L182.4 86.7L184.4 86.0L185.7 85.4M185.7 85.4L186.9 86.5M176.3 91.4L177.4 93.1L178.0 95.7M182.6 95.3L182.9 93.0L183.0 91.8M191.5 84.3L189.9 85.6L189.2 85.6L186.9 86.5M178.9 82.5L180.3 84.7L180.7 85.7M185.2 80.2L185.0 82.5L185.6 83.3L185.7 85.4M156.6 83.2L157.9 85.6M154.4 91.7L154.8 89.6L155.9 88.8L157.7 87.2L157.9 85.6M165.1 83.8L163.3 84.3L163.0 85.5L161.5 87.2M157.9 85.6L159.7 86.1L161.5 87.2M140.6 247.4L143.7 246.4M140.6 247.4L139.8 246.0L137.8 244.8M137.8 244.8L139.7 243.0L139.7 241.3L141.2 239.8M143.7 246.4L144.7 244.3L145.3 242.9M145.3 242.9L144.0 240.6L143.9 239.5M141.2 239.8L143.9 239.5M152.3 236.1L152.7 238.3L152.8 239.4L152.5 241.3L152.0 242.5L152.1 244.7M152.3 236.1L150.8 236.7L148.3 237.6L146.0 238.2L144.6 238.4M144.6 238.4L143.9 239.5M138.6 207.3L138.9 208.9M146.3 209.4L145.9 211.8L144.2 213.0M144.2 213.0L142.6 211.7L142.1 210.9L140.3 210.4L138.9 208.9M137.8 244.8L136.9 244.7M140.2 249.3L140.6 247.4M140.2 249.3L137.8 251.3L136.4 251.4L135.0 252.6M135.0 252.6L133.7 250.8L132.4 250.7M136.9 244.7L135.7 245.4L134.4 247.1L132.9 248.0M132.9 248.0L132.4 250.7M135.4 253.7L135.0 252.6M133.0 259.8L133.6 258.3L135.3 256.0L135.6 255.2L135.4 253.7M128.4 256.3L130.1 254.5L130.3 254.1L130.5 252.3L131.9 250.9M131.9 250.9L132.4 250.7M125.4 250.2L126.1 249.6M131.9 250.9L129.5 250.9L128.0 250.4L126.1 249.6M157.0 247.2L154.9 246.4L152.7 245.7M157.0 247.2L156.4 248.4L155.9 250.7L155.6 252.8L154.3 253.7L154.7 256.0M152.7 245.7L151.3 246.0L150.7 248.6L149.3 249.1M149.3 249.1L149.8 250.6L150.8 252.7L150.7 254.0M150.7 254.0L152.7 254.8L154.7 256.0M154.7 256.0L154.7 256.0M160.7 246.1L158.3 246.7L157.0 247.2M152.1 244.7L152.7 245.7M154.1 234.8L153.0 235.2M162.2 257.9L160.7 257.6L159.1 256.0L157.0 257.3L154.7 256.0M146.7 249.4L149.3 249.1M143.7 246.4L144.6 247.9L146.7 249.4M151.7 262.1L151.8 262.7M151.7 262.1L152.4 260.8L153.5 259.5L154.9 257.6L154.7 256.0M102.8 250.5L101.8 252.4L99.5 253.9L98.9 255.2M106.9 254.5L106.0 255.9L103.4 257.1L102.4 257.8M102.4 257.8L100.4 257.4M98.9 255.2L100.4 257.4M108.1 254.6L106.9 254.5M97.9 262.2L99.4 260.5L99.9 259.3L100.4 257.4M95.9 254.4L98.9 255.2M124.9 191.0L125.9 191.5M125.9 191.5L126.0 192.1M126.0 192.1L124.6 192.8M124.9 191.0L124.3 191.3M124.6 192.8L124.3 191.3M143.9 195.8L144.7 193.6M146.6 192.8L144.7 193.6M150.3 187.2L147.6 187.4M146.6 192.8L146.7 190.6L147.3 189.3L147.6 187.4M103.2 238.7L101.7 239.6L99.5 239.3M103.0 232.6L100.5 231.3M100.5 231.3L98.7 232.1M92.2 240.4L94.1 241.6L96.1 242.5L97.2 243.6M97.2 243.6L98.4 242.3L98.7 241.2L99.5 239.3M92.9 229.9L94.2 230.8L97.6 231.1L98.7 232.1M104.8 245.9L103.3 248.1L102.7 250.0M104.6 245.5L102.5 244.9L101.1 245.5L100.3 243.9L97.4 244.2M102.7 250.0L100.7 249.3L98.8 249.0L97.1 248.5M97.1 248.5L96.4 246.3M96.4 246.3L97.4 244.2M105.7 246.1L104.8 245.9M104.5 239.8L104.1 241.0L103.9 243.4L104.6 245.5M104.5 239.8L107.6 238.1L108.8 238.8M102.8 250.5L102.7 250.0M104.5 239.8L103.2 238.7M97.2 243.6L97.4 244.2M95.0 253.1L96.6 251.2L96.0 250.1L97.1 248.5M92.0 246.6L94.6 246.6L96.4 246.3M126.3 194.4L126.8 193.3M126.3 194.4L126.4 194.6M130.4 193.5L131.1 194.3M131.1 194.3L129.7 196.1M126.4 194.6L128.4 195.7L129.7 196.1M131.1 194.3L132.7 194.1M129.4 197.6L129.6 199.6L131.3 201.4M129.4 197.6L129.6 196.5M129.7 196.1L129.6 196.5M126.4 194.6L125.5 196.5M129.6 196.5L127.2 195.8L125.5 196.6M125.5 196.5L125.5 196.6M126.3 194.4L124.4 193.9M124.3 196.2L125.5 196.5M124.3 196.2L123.6 195.5M123.6 195.5L124.4 193.9M126.7 192.7L126.0 192.1M124.3 193.4L124.6 192.8M124.3 193.4L124.3 193.8M124.3 193.8L124.4 193.9M105.9 216.8L108.4 214.8M105.1 209.0L107.3 210.5L108.8 212.0M108.4 214.8L108.8 212.0M141.2 239.8L140.0 238.5L137.6 238.0L136.2 236.7M136.9 244.7L136.1 243.1L134.9 241.1L133.8 240.3M133.8 240.3L135.6 239.7L136.2 236.7M135.3 230.3L134.1 228.9L133.4 227.5M130.5 227.1L133.4 227.5M128.7 230.7L129.2 233.8M135.3 230.3L134.8 232.3L134.3 234.3M134.3 234.3L132.9 233.6L130.7 233.2L129.2 233.8M122.1 234.5L122.0 233.1L122.8 231.2L122.4 229.3M122.4 234.9L122.1 234.5M122.4 234.9L123.9 235.8L125.6 235.2L127.6 236.0M127.6 236.0L129.2 233.8M129.4 197.6L127.3 198.3M125.5 196.6L125.6 197.1M127.3 198.3L125.6 197.1M143.1 260.8L145.6 259.6L146.6 259.0M143.1 260.8L142.0 260.3L140.2 258.8M140.2 258.8L140.1 256.3M140.1 256.3L141.0 255.3L143.2 253.7M146.6 259.0L146.2 257.9L146.4 255.4M146.4 255.4L144.3 253.7M143.1 263.8L143.1 260.8M151.7 262.1L150.1 260.4L148.3 259.7L146.6 259.0M136.1 261.8L137.4 261.2L140.0 259.5L140.2 258.8M135.4 253.7L136.9 254.7L138.2 255.0L140.1 256.3M140.2 249.3L141.6 250.1L143.3 252.7L143.2 253.7M150.7 254.0L148.8 254.3L146.4 255.4M146.7 249.4L145.8 250.8L145.1 251.9L144.3 253.7M185.3 218.1L187.2 217.9L190.0 218.4M182.6 213.1L183.4 210.8M183.9 221.3L184.9 219.6L185.3 218.1M188.4 228.2L190.0 228.1M176.3 214.8L177.3 215.2L179.0 214.4L181.9 213.5L182.6 213.1M180.4 201.2L180.6 202.8L180.3 204.4L180.3 207.4M180.3 207.4L182.1 208.6L183.4 210.8M111.4 120.4L113.1 121.1L114.7 121.6M114.7 121.6L116.1 121.3L117.7 120.3M123.4 116.2L122.0 117.9L121.0 119.8L119.5 121.3M117.7 120.3L119.5 121.3M121.2 122.5L119.7 121.6M119.7 121.6L119.5 121.3M172.0 108.3L170.8 110.6L169.6 110.6L168.6 111.7L167.4 113.0M172.0 108.3L173.3 109.4L174.7 110.4L175.3 112.2L176.9 113.1M167.4 113.0L168.8 114.6L170.3 114.8L171.8 115.5L173.4 116.2L175.0 117.1M176.9 113.1L176.8 114.6L176.2 116.6M176.2 116.6L175.0 117.1M180.5 110.6L177.6 111.7L176.9 113.1M172.0 107.7L172.0 108.3M166.8 120.2L166.7 117.9L167.4 116.9L166.7 115.0L166.9 113.2M173.5 119.3L175.0 117.1M164.1 112.2L164.3 112.1M166.9 113.2L164.3 112.1M154.4 91.7L155.7 94.4M162.2 89.9L161.5 87.2M162.2 89.9L160.6 92.4L159.3 93.6M159.3 93.6L157.3 93.8L155.7 94.4M169.5 88.9L167.8 90.3L165.9 91.2M169.5 88.9L170.8 90.3L172.2 92.2M165.9 91.2L164.8 92.4L166.4 94.6L166.3 96.4M171.1 97.4L169.5 96.8L167.8 97.0L166.3 96.4M169.6 87.9L169.5 88.9M162.2 89.9L163.9 90.6L165.9 91.2M176.3 91.4L174.4 91.9L172.2 92.2M164.3 97.6L164.1 96.2L161.9 95.9L160.1 94.4L159.3 93.6M164.3 97.6L166.3 96.4M172.4 99.0L171.1 97.4M164.3 97.6L163.8 98.9M141.1 118.0L141.8 117.9M144.2 124.1L144.6 122.1L144.5 119.6M141.8 117.9L144.5 119.6M144.1 113.8L143.7 115.6L141.8 117.9M137.5 115.5L139.1 113.8L139.9 112.2M144.1 113.8L143.9 112.7M143.9 112.7L142.7 111.2L139.9 112.2M135.2 108.7L136.7 108.5L138.8 109.7M142.2 106.1L142.4 106.9M142.4 106.9L140.1 108.4L138.8 109.7M138.8 109.7L139.9 112.2M119.6 137.1L122.1 135.6M119.6 137.1L119.5 138.9L119.6 141.1M125.6 140.7L125.4 141.3M125.6 140.7L125.8 139.1L124.0 136.5L123.4 136.0M125.4 141.3L123.2 142.2L120.7 142.0M119.6 141.1L120.7 142.0M126.3 134.1L127.3 135.7L128.5 137.1M126.3 134.1L123.5 134.9L123.4 136.0M126.3 134.1L126.6 131.9M124.0 130.5L121.5 131.7M121.5 131.7L122.2 133.5L122.1 135.6M135.8 135.1L136.5 135.8M135.8 135.1L134.1 135.0L131.5 135.5M136.5 135.8L136.6 137.7L136.1 139.4M131.5 135.5L130.5 136.8M130.5 136.8L131.0 137.7L132.3 140.3M136.1 139.4L134.2 140.6M134.2 140.6L132.3 140.3M140.5 135.2L137.3 135.9L136.5 135.8M142.2 131.2L141.6 134.0M129.9 130.6L131.0 132.0L130.8 134.1L131.5 135.5M140.1 141.9L141.6 140.0M140.1 141.9L138.4 141.2L136.1 139.4M128.5 137.1L130.5 136.8M128.2 143.9L129.6 142.6L131.9 141.6L132.3 140.3M127.6 143.8L128.2 143.9M127.6 143.8L126.7 141.9L125.4 141.3M131.8 146.8L133.0 145.5L134.7 144.6M131.8 146.8L130.0 145.4L128.2 143.9M134.7 144.6L133.9 142.3L134.2 140.6M115.7 134.3L117.2 135.3L119.6 137.1M113.6 136.7L115.7 134.3M113.6 136.7L114.1 139.7M119.6 141.1L117.0 141.4M117.0 141.4L116.2 140.1L114.1 139.7M74.2 163.5L75.5 164.2L77.9 164.5L79.2 164.0L80.6 164.5L82.5 165.5L83.9 165.6L85.9 165.5L86.7 166.5L89.0 167.4L90.6 167.1L92.8 167.5M92.8 167.5L93.0 167.2M95.3 175.3L95.7 174.8M95.3 175.3L93.7 174.6L92.1 174.3L89.9 174.0M95.7 174.8L96.0 173.0M96.0 173.0L95.4 171.7L94.4 169.8L92.8 168.1M92.8 168.1L90.8 170.0L90.4 171.5L89.7 173.7M89.7 173.7L89.9 174.0M100.7 179.5L100.6 177.9L102.1 176.4M96.8 180.3L98.4 179.9L100.7 179.5M102.1 176.4L100.9 175.4L97.7 175.3L97.2 175.0L95.7 174.8M89.5 179.7L89.9 177.6L90.4 175.5L89.9 174.0M92.8 167.5L92.8 168.1M51.1 164.4L52.9 163.8L54.8 164.4L56.8 163.6L57.6 163.8L59.2 163.9L61.5 164.8L62.6 163.0L64.2 163.6L65.8 163.1L67.0 163.7L69.1 163.1M51.1 164.4L52.4 164.7L54.2 165.9L56.2 165.6L57.3 166.7L58.9 166.1L60.4 167.2L62.1 166.7L64.5 166.9L65.2 167.8L67.2 168.3L68.6 168.3L71.4 169.6L72.8 169.6L73.0 169.8L75.3 171.1L76.5 171.0L78.8 171.8L79.7 171.4L81.8 172.3L82.8 172.6L85.1 172.5L86.5 173.3L88.1 173.2L89.7 173.7M0.0 164.0L1.8 164.3L3.4 164.8L4.4 163.7L6.2 164.1L7.6 163.8L11.0 164.9L11.2 163.5L12.9 164.4L14.9 163.9L16.7 164.3L18.3 164.2L19.5 165.0L21.7 163.5L23.3 163.8L24.7 163.0L26.9 164.4L28.3 164.5L29.4 164.3L31.0 164.0L32.6 164.5L34.5 165.1L36.1 163.7L38.5 164.6L40.1 163.9L41.2 164.3L42.3 164.4L44.6 163.9L45.9 164.0L47.2 164.6L49.8 164.4L51.1 164.4M152.3 183.5L153.7 183.8L155.9 184.7L157.2 185.4L159.2 185.2M159.2 185.2L159.5 185.0M150.3 187.2L152.1 186.2L152.3 183.5M160.2 185.0L159.5 185.0M164.5 189.4L164.4 190.0M158.8 194.9L160.7 193.6L162.0 192.4L162.5 191.0L164.4 190.0M116.7 175.0L118.0 173.4L119.8 173.2L120.8 171.1M116.7 175.0L118.0 176.5L119.8 177.5M120.8 171.1L122.7 173.4M169.8 172.3L169.7 172.2M174.1 173.7L176.2 172.9M174.2 165.2L170.6 166.9L169.8 166.6M169.8 166.6L170.3 168.2L170.3 169.8L169.7 172.2M169.8 157.0L168.3 156.6L167.1 156.2L164.9 155.7M160.2 150.3L158.1 151.6L156.6 152.2M154.8 148.0L155.4 150.4L155.7 151.8M156.6 152.2L155.7 151.8M169.8 187.0L171.5 189.3M171.5 189.3L171.1 190.0L171.6 192.6L171.6 194.1M167.1 195.0L168.8 194.3L171.6 194.1M130.7 85.3L129.2 84.6L127.5 85.8L126.0 86.3M126.3 81.5L125.0 82.8L123.6 84.2M123.6 84.2L126.0 86.3M117.1 98.5L117.5 95.5M110.5 96.7L111.6 95.0L112.8 93.1M117.5 95.5L115.6 94.5L114.7 94.1L112.8 93.1M113.7 77.1L114.4 80.1M109.9 82.1L110.8 82.5M114.4 80.1L112.9 81.3L110.8 82.5M127.9 224.2L126.7 222.8L126.2 221.4M124.6 225.7L123.3 223.1M126.2 221.4L124.3 221.3L123.3 223.1M128.3 217.0L127.8 215.9L127.1 213.8M128.3 217.0L130.6 217.5M134.1 214.4L133.1 212.6L131.9 211.8L130.8 209.9M127.1 213.8L127.0 211.9L128.1 210.7M130.8 209.9L128.1 210.7M126.2 221.4L126.0 220.8M127.0 218.2L126.0 220.8M129.2 224.7L130.4 222.6L132.0 220.9M132.0 220.9L131.0 218.8L130.6 217.5M127.0 218.2L128.3 217.0M132.0 220.9L134.1 220.4L136.7 221.3M136.7 221.3L136.8 220.2L137.3 217.4L137.2 215.9M136.2 214.8L137.2 215.9M136.2 214.8L134.1 214.4M138.9 208.9L138.1 210.9L137.0 212.2L137.5 213.5L136.2 214.8M131.5 208.7L130.8 209.9M143.2 216.0L144.3 213.3M143.2 216.0L143.7 217.4M143.7 217.4L145.0 219.2L147.6 219.3L148.5 219.7M144.3 213.3L145.9 213.3L148.2 214.3L148.5 214.6L151.1 214.9L152.6 214.9M152.6 214.9L151.7 216.4L150.6 217.6L150.2 219.1M150.2 219.1L148.5 219.7M144.2 213.0L144.3 213.3M137.2 215.9L139.4 216.1L141.9 216.0L143.2 216.0M153.4 214.3L152.6 214.9M160.1 218.3L159.1 217.7L157.2 216.5L155.2 216.1L153.4 214.3M157.6 225.4L156.5 225.5L154.3 224.6M154.3 224.6L153.2 223.4L151.5 221.8L151.9 220.3L150.2 219.1M130.3 244.4L127.5 243.4L126.1 244.1M130.3 244.4L132.2 242.5L132.6 240.5M127.9 237.8L128.8 238.4L130.9 240.9L132.6 240.5M127.9 237.8L127.0 239.2L126.3 240.0L124.9 242.8M124.9 242.8L126.1 244.1M132.9 248.0L131.2 246.6L130.3 244.4M126.1 249.6L125.6 247.2L126.0 246.2L126.1 244.1M134.3 234.3L136.2 236.6M136.2 236.6L136.2 236.7M127.6 236.0L127.9 237.8M122.6 242.7L124.9 242.8M122.1 234.5L121.1 234.4L118.8 234.6L116.2 234.6M121.7 228.2L121.1 227.9M116.2 234.6L115.8 235.0M108.8 238.8L108.9 237.1L109.3 234.9L109.9 233.9M115.8 235.0L113.4 234.2L111.5 233.6L109.9 233.9M100.5 190.9L99.7 188.5L100.8 187.2L99.7 186.0M100.5 190.9L98.0 191.1L96.9 191.0L95.1 191.8L94.1 191.9M94.2 190.4L94.0 191.3M94.2 190.4L95.9 188.1L96.7 187.0L98.6 185.8M98.6 185.8L99.7 186.0M94.0 191.3L94.1 191.9M94.1 191.9L94.1 191.9M105.2 187.4L104.6 189.7L103.9 190.6L103.0 192.6M103.0 192.6L100.5 190.9M103.1 192.7L103.0 192.6M88.2 188.1L89.7 189.7L91.0 190.2L92.6 190.0L94.0 191.3M92.9 184.1L93.0 185.9L94.0 187.5L94.2 190.4M95.8 183.1L96.7 185.2L98.6 185.8M102.0 182.1L100.7 179.5M90.7 194.0L92.9 192.7L94.1 191.9M112.9 188.9L113.0 188.9M112.5 195.7L113.2 195.5M113.0 188.9L113.9 189.4M115.5 191.4L113.9 189.4M115.5 191.4L115.1 193.1M115.1 193.1L113.2 195.5M116.5 201.8L116.7 200.0M114.5 203.2L116.5 201.8M113.7 203.2L114.5 203.2M113.2 195.5L115.2 196.0M115.2 196.0L115.8 196.5M116.7 200.0L116.2 198.2L115.8 196.5M126.4 203.3L127.6 203.3L129.6 203.1M124.0 204.5L126.4 203.3M128.1 210.7L126.3 210.0L125.6 208.5L123.6 207.7M123.2 207.2L123.6 207.7M111.3 218.3L112.5 219.5M111.3 218.3L109.0 219.5M110.6 220.7L109.0 219.5M110.6 220.7L112.5 220.3M112.5 220.3L112.5 219.5M110.5 222.4L108.6 222.4L107.1 223.6L105.9 224.1M110.5 222.4L110.6 220.7M106.5 219.1L109.0 219.5M110.5 222.4L112.0 223.2M112.0 223.2L112.9 221.9M112.9 221.9L112.6 220.4M112.6 220.4L112.5 220.3M111.3 218.3L111.4 217.5M113.8 217.4L113.8 218.1M113.8 217.4L113.3 216.8M113.8 218.1L112.5 219.5M111.4 217.5L113.3 216.8M108.4 214.8L109.5 215.1M111.4 217.5L109.5 215.1M111.9 209.2L110.5 210.8M111.9 209.2L114.5 210.5M110.5 210.8L112.5 213.3M114.5 210.5L113.1 213.0M113.1 213.0L112.5 213.3M111.4 205.7L110.9 207.3L111.9 209.2M108.8 212.0L110.5 210.8M115.9 211.8L114.5 213.9M115.9 210.8L115.9 211.8M114.5 213.9L113.1 213.0M115.9 210.8L114.5 210.5M154.3 224.6L152.8 225.5L150.3 226.1L148.6 226.9M148.5 219.7L146.9 220.9L147.0 223.1L146.2 224.9M146.2 224.9L148.6 226.9M153.0 235.2L152.2 233.3L150.1 233.0L148.7 230.8M148.7 230.8L146.6 231.2L145.7 232.0L142.6 232.2M148.7 230.8L148.8 229.0L148.6 226.9M136.2 236.6L137.6 235.4L139.0 233.7L140.8 232.9L141.8 231.6M141.8 231.6L142.6 232.2M141.5 222.1L143.1 223.5L144.1 223.4L145.9 224.9M141.5 222.1L139.5 222.7L138.1 223.1M138.1 223.1L138.0 223.4M138.0 223.4L138.8 224.6L139.0 225.8L140.2 228.0L140.9 229.8M145.9 224.9L145.1 226.1L143.4 227.4L142.8 228.4L141.1 230.0M140.9 229.8L141.1 230.0M146.2 224.9L145.9 224.9M143.7 217.4L142.8 218.7L142.9 220.2L141.5 222.1M136.7 221.3L138.1 223.1M133.4 227.5L135.7 226.0L137.1 224.7L138.0 223.4M135.3 230.3L137.4 230.1L139.3 230.0L140.9 229.8M141.8 231.6L141.1 230.0M126.0 198.8L127.2 198.5M126.0 198.8L125.5 199.8M127.2 198.5L126.7 199.8L126.3 202.3M125.5 199.8L126.3 202.3M125.2 198.3L125.1 198.0M125.6 197.1L125.1 198.0M127.3 198.3L127.2 198.5M125.2 198.3L126.0 198.8M124.8 199.2L125.2 198.3M124.8 199.2L125.5 199.8M126.4 203.3L126.3 202.3M114.7 121.6L114.2 123.6L114.2 126.2M119.7 121.6L119.2 123.3L117.5 125.4L117.0 126.7M114.2 126.2L117.0 126.7M122.5 126.0L120.7 127.2L118.5 128.4M117.0 126.7L118.5 128.4M121.5 131.7L118.7 130.8M118.5 128.4L118.7 130.8M115.7 134.3L115.8 133.4M115.8 133.4L117.6 132.4L118.7 130.8M158.7 102.9L158.8 101.4M158.7 102.9L156.9 103.2L154.7 104.7L153.3 105.5M151.5 102.2L152.0 104.3L153.3 105.5M151.5 102.2L152.4 99.8L152.5 98.8L153.1 97.4M153.1 97.4L154.8 96.5M163.8 98.9L160.9 99.7L161.1 100.7L158.8 101.4M155.7 94.4L154.8 96.5M146.8 96.3L147.9 96.2L150.6 96.8L151.9 97.8L153.1 97.4M147.2 102.6L149.0 102.8L151.5 102.2M147.0 102.5L147.2 102.6M144.0 130.7L145.2 131.5L147.6 131.9L148.7 132.5M148.8 125.1L150.2 127.1M146.3 125.4L148.8 125.1M150.2 127.1L149.8 128.9L149.0 131.2L148.7 132.5M153.6 139.0L151.2 139.8L148.9 140.6L147.3 139.9M153.6 139.0L152.2 136.6L152.4 136.2L151.3 134.7L150.3 133.2M147.3 139.9L146.7 139.2M150.3 133.2L148.8 132.7M148.7 132.5L148.8 132.7M144.5 119.6L146.8 119.6L148.1 118.8M144.1 113.8L146.6 114.4L148.3 116.1M148.1 118.8L148.3 116.1M144.1 112.2L143.3 110.8L143.1 109.4L142.8 107.3M142.8 107.3L144.1 107.5L146.0 107.3L147.8 107.2M147.8 107.2L149.7 108.9M149.3 109.8L149.7 108.9M143.9 112.7L144.1 112.2M142.4 106.9L142.8 107.3M150.2 114.4L148.3 116.1M150.2 114.4L150.6 111.4L149.3 109.8M147.2 102.6L147.4 104.8L147.8 107.2M125.6 147.1L122.7 147.8M125.6 147.1L126.7 145.3L127.6 143.8M120.7 142.0L120.5 143.9M122.7 147.8L121.7 145.3L120.5 143.9M127.4 151.8L127.7 149.6L126.9 147.8L125.6 147.1M127.4 151.8L126.7 154.0L124.7 153.6M122.7 147.8L121.3 149.8M121.3 149.8L121.5 151.8L122.1 152.9M124.7 153.6L122.1 152.9M134.7 144.6L136.9 144.9L138.9 145.4M140.1 141.9L140.1 143.0M140.1 143.0L138.9 145.4M120.5 143.9L119.1 145.1L117.5 146.2L116.6 148.0M117.0 141.4L115.9 143.1L115.4 144.2L114.5 146.2M114.5 146.2L116.6 148.0M121.3 149.8L119.5 149.8L118.2 148.5L116.7 148.3M116.6 148.0L116.7 148.3M100.2 146.0L97.9 145.5M100.2 146.0L102.5 144.5L103.2 143.2M103.2 143.2L102.2 142.4L100.8 139.5M97.1 143.7L97.4 141.8L98.4 139.9M97.1 143.7L97.9 145.5M99.2 139.4L98.4 139.9M93.4 142.7L94.9 143.1L97.1 143.7M98.1 134.9L98.5 137.2L99.2 139.4M103.1 137.4L100.8 139.5M92.0 157.4L93.9 156.9M96.7 161.6L96.5 158.9M93.9 156.9L95.4 158.2L96.5 158.9M102.0 182.1L103.9 182.6L105.9 182.5M105.2 187.4L106.8 186.6M105.9 182.5L106.2 184.5L106.8 186.6M108.9 188.1L107.8 186.9M106.8 186.6L107.8 186.9M110.3 175.8L113.0 176.1M110.3 175.8L109.1 177.7L107.3 178.9M111.1 182.3L109.3 181.2L107.3 180.7M113.0 176.1L113.7 178.9M107.3 178.9L107.3 180.7M108.0 172.8L109.4 174.8L110.3 175.8M110.9 168.6L113.7 168.6M114.3 174.9L114.6 172.4L114.3 171.1L114.1 169.0M114.3 174.9L113.0 176.1M114.1 169.0L113.7 168.6M102.5 175.2L103.9 174.4L105.7 173.4L108.0 172.8M102.2 176.3L102.5 175.2M102.2 176.3L102.9 176.7L105.3 177.8L107.3 178.9M111.4 183.5L111.1 182.3M111.4 183.5L110.2 184.7L108.8 185.6L107.8 186.9M105.9 182.5L107.3 180.7M113.8 185.1L115.1 183.2M113.8 185.1L111.4 183.5M114.7 179.8L114.7 181.6L115.1 183.2M114.7 179.8L113.7 178.9M114.3 174.9L116.7 175.0M119.8 179.2L118.0 180.5M119.8 179.2L119.8 177.5M114.7 179.8L116.9 179.9L118.0 180.5M102.1 176.4L102.2 176.3M113.0 188.9L113.8 186.3M113.8 185.1L113.9 185.3M113.9 185.3L113.8 186.3M134.6 175.3L134.3 173.7L135.3 171.2L135.1 169.8M134.6 175.3L134.7 175.4M137.6 167.9L135.1 169.8M141.1 170.4L139.4 169.6L137.6 167.9M141.3 170.9L140.3 173.0L138.5 173.7L137.3 175.7M134.7 175.4L137.3 175.7M163.5 178.5L161.6 176.2M148.7 169.5L150.3 170.8L152.0 170.2L153.5 171.4M148.7 169.5L147.5 170.6L146.1 171.6L144.6 173.8M144.6 173.8L144.8 174.6M161.6 176.2L161.3 173.9L162.0 171.5M164.9 155.7L164.3 157.5L164.1 160.4M164.1 160.4L166.4 160.6L167.6 163.1M169.8 166.6L167.9 165.2M167.6 163.1L167.9 165.2M134.3 175.3L133.1 174.6L131.3 173.7L129.9 172.3L128.5 172.0M128.5 172.0L128.6 171.7M134.6 175.3L134.3 175.3M135.1 169.8L132.2 169.1M128.6 171.7L130.5 170.9L132.2 169.1M137.6 167.9L137.9 165.7L137.1 164.6M135.5 163.7L136.6 164.0M137.1 164.6L136.6 164.0M132.2 169.1L131.8 166.1M180.3 207.4L177.6 207.0L176.9 206.7L174.7 206.2L173.8 206.6M180.4 201.2L179.2 199.9M178.8 199.8L179.2 199.9M178.8 199.8L177.5 199.9L175.7 200.8M175.7 200.8L175.0 203.4L174.3 204.7L173.8 206.6M176.9 193.8L177.2 196.3L177.9 197.7L178.8 199.8M172.2 194.5L174.0 194.2L176.9 193.8M175.7 200.8L174.3 200.3L172.9 199.2M158.8 194.9L160.5 197.5M167.1 195.0L165.9 197.4M160.5 197.5L160.0 199.3L158.8 199.8L159.2 202.3M159.2 202.3L160.0 204.0L160.6 205.0L161.8 206.8M122.1 84.2L121.2 85.4M122.1 84.2L121.2 82.9L120.3 80.3M121.2 85.4L118.9 84.9L117.3 85.9L115.9 85.8M120.3 80.3L117.8 80.8L116.1 81.4M121.4 77.2L121.1 79.1L120.3 80.3M123.6 84.2L122.1 84.2M114.4 80.1L116.1 81.4M126.7 91.8L124.6 93.4L123.7 95.2M125.5 90.2L123.4 89.8L121.3 89.2M123.7 95.2L122.6 94.5L119.5 93.7M129.7 92.0L126.7 91.8M126.0 86.3L125.3 88.0L125.5 90.2M123.9 96.3L123.7 95.2M121.2 85.4L120.9 87.1L121.3 89.2M117.5 95.5L119.5 93.7M115.6 88.9L115.2 89.4L113.4 90.5L112.8 93.0M115.6 88.9L115.0 86.8M115.0 86.8L113.1 87.0L111.8 86.2M109.8 90.7L110.0 87.5M109.8 90.7L111.6 91.0L112.8 93.0M112.8 93.1L112.8 93.0M115.9 85.8L115.0 86.8M110.8 82.5L111.8 83.6L111.8 86.2M106.6 92.4L108.7 90.5L109.8 90.7M107.1 86.7L110.0 87.5M127.0 218.2L124.6 217.4M126.0 220.8L123.9 220.5M123.9 220.5L123.3 218.1M124.6 217.4L123.3 218.1M107.7 230.9L108.3 231.2M107.7 230.9L106.9 229.7L106.5 227.8L106.2 226.5L106.2 224.6M108.3 231.2L110.0 230.5L112.1 229.2L113.0 228.4M106.2 224.6L107.9 225.2L110.6 225.4L112.4 225.6M113.0 228.4L113.4 226.7M112.4 225.6L113.4 226.7M103.0 232.6L104.6 232.6L106.8 231.6L107.7 230.9M109.9 233.9L108.3 231.2M105.9 224.1L106.2 224.6M112.0 223.2L112.4 225.6M120.9 227.8L121.1 227.9M114.6 226.0L117.2 225.7M114.6 226.0L113.4 226.7M117.2 225.7L119.2 226.5L120.9 227.8M114.6 226.0L114.3 224.3L114.9 222.3M114.9 222.3L112.9 221.9M116.4 191.3L117.0 191.7M116.4 191.3L115.5 191.4M117.0 191.7L117.6 193.0M115.1 193.1L117.3 193.6M117.6 193.0L117.3 193.6M115.2 196.0L117.4 194.3M117.3 193.6L117.4 194.3M122.7 197.9L122.6 199.6L121.5 201.6M122.7 197.9L123.7 198.0M123.7 198.0L123.7 198.0M123.7 198.0L124.0 199.3M124.0 199.3L122.9 199.9L122.1 202.2M122.1 202.2L121.5 201.6M121.1 197.6L122.0 197.2M122.0 197.2L122.7 197.9M121.1 200.5L121.4 201.6M121.1 200.5L121.1 197.6M121.4 201.6L121.5 201.6M122.2 195.7L122.0 197.2M123.6 195.5L122.2 195.7M124.3 196.2L123.7 198.0M125.1 198.0L123.7 198.0M124.8 199.2L124.0 199.3M124.0 204.5L122.1 202.2M123.2 207.2L121.0 206.3L119.1 208.3M114.5 203.2L115.8 204.3L116.2 205.7L118.4 207.2L119.1 208.3M118.5 201.4L121.4 201.6M116.5 201.8L118.5 201.4M124.3 193.8L121.8 193.5M122.2 195.7L121.5 195.1M121.5 195.1L121.8 193.5M121.9 192.7L121.7 193.3M121.9 192.7L122.0 192.6M123.2 192.4L124.3 193.4M122.0 192.6L123.2 192.4M121.7 193.3L121.8 193.5M121.1 200.5L119.7 198.0M121.1 197.6L120.0 197.4M120.0 197.4L119.7 198.0M118.5 201.4L118.8 199.3L119.3 198.2M119.7 198.0L119.3 198.2M116.7 200.0L118.1 197.9M119.3 198.2L118.1 197.9M115.8 196.5L117.8 196.6M118.1 197.9L117.8 196.6M115.9 210.8L117.9 209.6M119.1 208.3L119.1 208.4M117.9 209.6L119.1 208.4M113.8 218.1L115.0 219.3M112.6 220.4L114.3 220.1M115.0 219.3L114.3 220.1M114.9 222.3L115.5 221.9M114.3 220.1L115.5 221.9M112.2 214.3L114.0 215.0M112.2 214.3L111.3 214.9M111.3 214.9L113.3 216.7M114.0 215.0L113.3 216.7M112.5 213.3L112.2 214.3M114.5 213.9L114.5 214.7M114.5 214.7L114.0 215.0M109.5 215.1L111.3 214.9M113.3 216.8L113.3 216.7M113.2 131.1L113.7 128.8L112.8 126.9M113.2 131.1L111.9 130.9L109.7 132.8L107.8 132.6M112.8 126.9L110.4 126.3L109.5 126.0M114.2 126.2L112.8 126.9M115.8 133.4L114.6 132.1L113.2 131.1M108.9 136.1L110.5 135.5L113.6 136.7M108.9 136.1L108.3 134.1L107.8 132.6M109.2 124.4L109.5 126.0M107.4 138.6L104.3 137.5L103.1 137.4M108.9 136.1L107.4 138.6M150.2 127.1L151.7 127.9L153.9 127.9M150.3 133.2L152.0 133.0L154.5 131.6M153.9 127.9L154.3 130.1L154.5 131.6M154.4 139.0L155.2 137.3L154.8 135.9L155.7 134.9L156.3 132.8M160.9 136.1L159.3 134.2L158.3 132.4M158.3 132.4L156.3 132.8M154.1 139.1L153.6 139.0M156.3 132.8L154.5 131.6M150.2 114.4L152.5 114.7L154.7 115.5M153.4 120.8L153.7 119.6L153.7 118.6L154.7 115.5M166.8 120.3L165.5 119.1L164.0 119.6L162.2 119.4L160.5 118.6M164.1 112.2L162.6 113.7L161.6 115.3L160.0 116.5M160.0 116.5L160.5 118.6M160.0 116.5L157.8 116.2L155.5 114.9M155.5 114.9L154.7 115.5M115.3 156.3L116.4 154.3L115.6 152.8M115.3 156.3L116.3 158.0L118.2 158.9M115.6 152.8L117.5 152.2L119.2 153.3L120.3 154.2M120.3 154.2L120.8 156.1L119.5 158.3M118.2 158.9L119.5 158.3M122.1 152.9L120.3 154.2M124.7 153.6L125.2 155.2L125.6 157.4M125.6 157.4L124.2 158.1L121.7 159.4M121.7 159.4L119.5 158.3M127.4 151.8L129.8 151.9M131.8 146.8L132.0 148.0M129.8 151.9L130.6 149.8L132.0 148.0M139.0 146.1L137.7 147.9L136.4 149.9M132.0 148.0L133.4 148.8L135.3 149.4L136.4 149.9M135.4 156.7L134.4 155.5L133.8 153.8M130.0 157.2L132.4 158.9M130.0 157.2L131.5 155.4L130.6 152.9M130.6 152.9L132.3 153.5L133.8 153.8M126.8 158.3L129.2 158.2L130.0 157.2M125.6 157.4L126.8 158.3M129.8 151.9L130.6 152.9M136.6 150.7L134.5 152.5L133.8 153.8M136.4 149.9L136.6 150.7M114.8 162.7L114.1 165.2L114.8 166.0L113.7 168.6M114.8 162.7L115.9 162.4M115.9 162.4L118.0 163.5L117.7 164.0L120.2 165.1M114.1 169.0L115.5 168.8L117.2 169.0L119.4 169.0M120.2 165.1L119.6 166.3L119.4 169.0M120.8 171.1L120.7 170.6M120.7 170.6L119.4 169.0M107.6 140.9L106.3 141.5L105.3 143.4M107.6 140.9L109.0 141.5L111.1 142.5M105.3 143.4L106.9 145.1L106.7 147.2M111.1 142.5L111.9 143.9L112.1 145.7M112.1 145.7L110.1 147.4L109.6 148.0M107.4 138.6L107.6 140.9M103.2 143.2L105.3 143.4M114.1 139.7L112.7 140.7L111.1 142.5M114.5 146.2L112.1 145.7M94.9 153.3L97.9 152.5M94.9 153.3L92.8 152.3L90.9 150.7M90.8 150.6L90.9 150.7M33.5 150.8L34.9 150.2L37.0 151.2L38.4 151.2L40.5 150.2L41.5 150.4L43.2 151.4L45.1 150.5L45.8 150.5L47.8 150.9L49.4 149.9L51.7 150.4L53.4 151.1L54.8 150.8L57.3 151.2L58.0 150.7L60.6 150.3L61.0 150.5L63.1 149.8L65.1 150.2L66.5 150.9L68.8 151.0L69.9 150.6L71.4 151.0L73.2 150.4L74.5 151.0L75.3 150.5L79.2 150.1L79.0 150.2L80.4 150.2L82.3 150.0L84.0 150.6L86.5 151.1L86.9 150.8L89.8 150.1L90.8 150.6M97.9 152.5L98.4 152.7M98.4 152.7L98.0 154.7L99.4 156.3M100.2 146.0L100.9 148.2L102.3 150.3M98.4 152.7L100.6 152.5L102.3 150.3M106.7 147.2L105.0 148.7L104.7 149.6L102.9 150.5M102.9 150.5L102.3 150.3M100.7 163.9L102.7 164.3L103.8 164.2L105.9 165.4M100.7 163.9L100.7 166.8L99.4 168.0M99.4 168.0L100.8 170.4M104.6 169.1L103.0 169.3L101.1 170.5M104.6 169.1L104.5 167.2L105.9 165.4M100.8 170.4L101.1 170.5M100.2 162.9L100.7 163.9M96.7 161.6L98.2 162.8L100.2 162.9M93.0 167.2L94.7 167.0L96.2 167.4L98.0 167.2L99.4 168.0M110.9 168.6L109.7 167.0L108.1 165.4L107.3 164.6M107.3 164.6L105.9 165.4M114.8 162.7L113.8 162.2M113.8 162.2L111.8 162.0L111.2 163.2L108.5 163.1L107.6 163.9M115.9 162.4L116.8 159.7L118.2 158.9M115.3 156.3L113.5 157.6L111.8 158.1M113.8 162.2L113.8 161.0L111.8 158.1M115.1 183.2L116.0 183.1M118.0 180.5L117.9 181.7M116.0 183.1L117.9 181.7M134.3 175.3L132.6 177.0L131.9 177.2L129.6 178.6M128.1 172.5L127.9 175.3L127.4 177.2M128.5 172.0L128.1 172.5M129.6 178.6L127.4 177.2M122.7 173.4L124.4 172.7L127.0 172.4L128.1 172.5M125.5 178.1L127.4 177.2M130.0 180.3L129.6 178.6M134.7 175.4L134.7 176.6L135.1 179.5L134.1 180.9M130.0 180.3L132.0 181.1L133.4 181.3M133.4 181.3L134.1 180.9M137.3 175.7L138.8 176.9L139.5 178.3M134.1 180.9L136.8 181.9M139.5 178.3L138.3 179.8L136.8 181.9M149.1 160.2L147.6 160.8L145.9 161.4L143.6 161.9M150.8 162.7L149.4 164.1L148.2 165.4L146.9 166.7M143.4 163.5L144.8 165.1L145.0 166.3M145.0 166.3L146.9 166.7M137.1 164.6L139.3 164.2L140.8 164.3L143.4 163.5M138.6 158.7L140.5 158.9L142.4 160.2L143.4 161.4M143.4 161.4L143.6 161.9M141.1 170.4L142.6 168.9L143.9 167.9L145.0 166.3M141.3 170.9L143.2 172.4L144.6 173.8M148.7 169.5L146.8 168.2L146.9 166.7M154.8 161.3L155.3 159.7L155.5 157.6M154.8 161.3L157.0 161.2L157.7 163.0L159.9 163.1M159.9 163.1L160.6 161.7M160.6 161.7L159.7 159.7L158.6 158.5L159.0 156.8M155.5 157.6L157.6 156.4M159.0 156.8L157.6 156.4M164.1 160.4L161.8 161.1L160.6 161.7M156.6 152.2L157.4 153.9L157.6 156.4M154.5 167.7L156.7 166.8L158.6 165.5L160.1 164.8M153.8 171.1L155.1 171.0L156.9 171.2L159.3 171.3L160.6 172.0L161.8 171.3M161.8 171.3L162.7 169.2L162.3 167.0M160.1 164.8L162.3 167.0M153.5 171.4L153.8 171.1M152.2 163.1L150.8 162.7M152.2 163.1L152.8 164.7L153.1 166.7L154.5 167.7M159.9 163.1L160.1 164.8M152.2 163.1L154.8 161.3M162.0 171.5L161.8 171.3M167.9 165.2L165.9 165.5L164.1 166.2L162.3 167.0M171.3 210.5L169.5 210.9L167.9 211.8L165.8 211.8M173.2 207.0L172.2 206.3L170.6 204.3L169.5 202.5L168.3 201.3M162.4 207.0L163.3 206.0L165.2 203.5L166.4 202.5L167.6 201.2M168.3 201.3L167.6 201.2M176.3 214.8L174.4 213.6L174.0 212.8L173.2 212.0L171.3 210.5M173.8 206.6L173.2 207.0M164.5 216.4L165.4 214.0L165.8 211.8M172.9 199.2L170.4 200.2L169.5 200.9L168.3 201.3M161.8 206.8L162.4 207.0M165.9 197.4L167.2 199.0L167.6 201.2M172.2 194.5L171.6 194.1M117.5 223.9L119.3 221.9M117.2 225.7L117.5 223.9M120.9 227.8L120.8 225.6L121.0 224.5M119.3 221.9L121.0 224.5M123.3 223.1L122.4 222.7M121.0 224.5L122.4 222.7M123.9 220.5L123.6 220.6M123.6 220.6L122.3 222.2M122.4 222.7L122.3 222.2M120.5 195.2L119.6 194.0M120.5 195.2L119.6 196.2M118.2 194.8L119.2 194.0M118.2 194.8L118.5 196.1M119.2 194.0L119.6 194.0M118.5 196.1L119.6 196.2M121.5 195.1L120.5 195.2M120.3 193.0L121.7 193.3M120.3 193.0L119.6 194.0M120.0 197.4L119.6 196.2M118.5 192.9L117.6 193.0M118.5 192.9L119.2 194.0M117.4 194.3L118.2 194.8M117.8 196.6L118.5 196.1M114.5 214.7L115.5 215.3M115.9 211.8L117.2 214.3M117.2 214.3L115.5 215.3M122.0 214.2L122.1 214.3M122.0 214.2L122.1 212.4M122.1 214.3L123.9 213.2M123.9 213.2L123.0 211.3M123.0 211.3L122.1 212.4M120.4 212.2L120.3 213.1M120.4 212.2L122.1 212.4M121.6 214.2L120.3 213.1M121.6 214.2L122.0 214.2M123.6 207.7L123.2 209.6L123.0 211.3M127.1 213.8L126.1 214.0M126.1 214.0L123.9 213.2M120.4 212.2L120.0 209.8L119.1 208.4M122.3 214.9L124.2 215.3M122.3 214.9L122.0 216.2M122.0 216.2L122.3 216.5M122.3 216.5L124.1 216.5M124.1 216.5L124.2 215.3M126.1 214.0L124.2 215.3M122.1 214.3L122.3 214.9M124.6 217.4L124.1 216.5M122.8 218.0L123.3 218.1M122.8 218.0L122.3 216.5M115.5 221.9L115.6 221.9M115.0 219.3L116.1 219.2M116.1 219.2L115.6 221.9M117.5 223.9L116.0 221.9M116.0 221.9L115.6 221.9M156.1 126.2L157.1 128.0L159.6 128.6L160.1 129.8M156.1 126.2L156.8 123.1M158.7 122.4L160.7 123.4L162.4 124.8M162.4 124.8L162.3 127.0L162.4 129.1M162.4 129.1L160.1 129.8M153.9 127.9L156.1 126.2M158.3 132.4L160.1 129.8M153.4 120.8L154.9 121.5L156.8 123.1M160.5 118.6L159.1 120.3L158.7 122.4M155.5 157.6L153.6 157.0L151.2 155.9M149.1 160.2L149.1 158.1M149.1 158.1L151.2 155.9M142.2 151.6L143.3 153.6L144.6 154.3M142.2 151.6L139.2 152.7M139.2 152.7L138.3 154.8L138.2 157.2M144.6 154.3L144.7 155.8M138.4 157.5L140.0 157.4L143.2 156.4L144.4 156.1M138.4 157.5L138.2 157.2M136.6 150.7L138.1 151.9L139.2 152.7M139.0 146.1L140.1 146.8L141.3 147.9L142.7 149.2M135.4 156.7L138.2 157.2M143.4 161.4L143.6 159.9L144.0 157.9L144.4 156.1M138.6 158.7L138.4 157.5M132.4 160.8L132.4 158.9M135.5 163.7L132.6 162.6L132.4 160.8M149.1 158.1L147.9 156.7L145.8 156.1L144.7 155.8M145.4 147.7L146.3 148.9L148.0 150.4L149.0 151.1M145.4 147.7L146.1 145.0M151.2 145.6L151.9 147.2M151.9 147.2L150.7 149.9L149.5 151.2M149.5 151.2L149.0 151.1M142.7 149.2L145.4 147.7M144.6 154.3L146.3 153.6L148.0 152.3L149.0 151.1M140.1 143.0L142.1 143.2L144.6 143.8L146.1 145.0M154.3 141.5L152.9 142.7L152.6 144.4L151.2 145.6M154.8 148.0L151.9 147.2M122.6 162.8L121.8 164.3M122.6 162.8L124.9 162.2L127.2 162.0M121.8 164.3L123.1 165.3L125.3 166.6L126.2 167.8M128.4 164.9L127.8 166.0L126.5 167.8M128.4 164.9L128.2 163.1M126.5 167.8L126.2 167.8M127.2 162.0L128.2 163.1M121.7 159.4L122.4 160.8L122.6 162.8M120.2 165.1L121.8 164.3M128.6 171.7L127.6 170.1L126.5 167.8M131.8 166.1L130.0 165.9L128.4 164.9M132.4 160.8L130.2 162.1L128.2 163.1M100.2 162.9L101.1 161.5L102.5 159.8M107.6 163.9L107.1 162.5L106.7 160.4M102.5 159.8L104.1 159.3L106.7 160.4M99.4 156.3L101.7 157.2M102.5 159.8L101.7 157.2M102.9 150.5L104.1 151.8L105.5 154.0M101.7 157.2L102.9 155.9L103.8 154.1L105.5 154.0M123.2 192.4L123.3 191.3M122.0 192.6L122.6 191.2M122.6 191.2L123.3 191.3M124.3 191.3L123.7 191.1M123.7 191.1L123.3 191.3M116.0 183.1L117.4 184.2M117.9 181.7L118.4 182.8M117.4 184.2L118.4 182.8M130.0 180.3L129.3 181.5M133.4 181.3L133.2 183.9L132.5 185.3M129.9 184.8L132.5 185.3M129.9 184.8L129.5 184.4M129.5 184.4L129.3 181.5M129.3 181.5L126.7 181.6M125.5 178.1L124.8 179.5M124.8 179.5L126.7 181.6M119.8 179.2L121.2 180.2M124.8 179.5L124.4 179.8M124.4 179.8L121.9 180.4M121.2 180.2L121.9 180.4M144.8 174.6L144.1 176.6L143.2 178.2M147.3 181.1L145.7 180.3L144.0 179.4L143.2 178.2M147.6 187.4L145.4 185.7M147.3 181.1L147.2 182.5L146.4 184.0L145.4 185.7M143.2 178.2L141.7 178.9M186.0 181.0L186.6 182.3L187.6 183.3L188.5 186.1L189.4 187.1M189.4 187.1L190.3 187.1M179.2 199.9L180.4 198.3L182.7 197.4L182.6 195.2L184.5 194.1M190.3 199.0L188.9 197.8L187.2 197.1L186.1 195.7L184.5 194.1M176.9 193.8L178.7 191.3M184.5 194.1L184.2 193.3M178.7 191.3L180.7 192.2L181.8 192.5L184.2 193.3M171.5 189.3L173.4 189.3L174.4 188.3L176.1 189.4L178.0 189.0M178.7 191.3L178.0 189.0M189.4 187.1L186.8 188.5M184.2 193.3L184.3 191.6L186.0 190.4L186.8 188.5M123.6 220.6L123.1 220.4M122.8 218.0L121.7 218.7M123.1 220.4L121.7 218.7M117.3 214.4L117.8 215.1M117.3 214.4L118.7 213.2M117.8 215.1L119.6 214.9M119.6 214.9L119.6 213.5M118.7 213.2L119.6 213.5M117.9 209.6L118.3 211.2L118.7 213.2M117.2 214.3L117.3 214.4M120.3 213.1L119.6 213.5M119.9 215.1L121.6 214.2M119.9 215.1L119.6 214.9M116.1 219.2L116.5 218.9M113.8 217.4L115.2 217.1M115.2 217.1L116.5 218.9M115.5 215.3L115.7 216.3M115.2 217.1L115.7 216.3M116.7 221.6L116.0 221.9M116.7 221.6L117.3 219.9M117.3 219.9L116.9 218.9M116.5 218.9L116.9 218.9M111.4 157.9L109.7 158.2L108.0 158.1M106.0 154.1L106.9 153.4L108.1 152.3L110.3 151.6M111.8 158.1L111.4 157.9M106.7 160.4L108.0 158.1M105.5 154.0L106.0 154.1M109.6 148.0L109.8 148.8L110.3 151.6M117.0 191.7L119.0 191.4M118.5 192.9L119.3 191.8M119.0 191.4L119.3 191.8M116.4 191.3L117.5 190.1M117.5 190.1L118.9 191.1M119.0 191.4L118.9 191.1M121.9 192.7L120.8 191.0M120.3 193.0L119.7 191.8M119.7 191.8L120.8 191.0M119.7 191.8L119.3 191.8M117.4 184.3L118.7 185.3M117.4 184.3L116.4 185.2M118.7 185.3L117.5 186.1M116.4 185.2L117.2 186.0M117.2 186.0L117.5 186.1M113.9 185.3L116.4 185.2M117.4 184.2L117.4 184.3M113.8 186.3L116.6 187.2M116.6 187.2L117.2 186.0M141.8 188.2L144.1 186.3L145.4 185.7M141.8 188.2L140.0 187.8L138.4 186.5M145.4 185.7L144.6 185.4L143.4 183.3L141.6 182.5M141.6 182.5L140.3 183.6L137.9 184.9M138.4 186.5L137.8 185.1M136.4 189.4L137.1 187.7L138.4 186.5M141.7 178.9L141.7 180.7L141.6 182.5M136.8 181.9L137.9 184.9M132.7 188.5L132.7 185.5M132.7 185.5L134.3 185.0L136.4 185.2L137.8 185.1M132.7 185.5L132.5 185.3M178.6 187.0L181.6 186.0M178.6 187.0L177.3 185.8L175.9 183.3L175.1 181.9M181.6 186.0L182.5 184.3L183.5 182.2L183.3 181.2M175.1 181.9L177.2 180.8L178.6 180.3L180.2 179.1M180.2 179.1L182.2 180.0L183.3 181.2M186.8 188.5L184.8 187.1L182.9 186.5L181.6 186.0M174.2 181.6L175.1 181.9M186.0 181.0L183.3 181.2M180.5 176.7L180.2 179.1M119.4 219.6L119.1 221.4M119.4 219.6L121.1 219.9M120.9 221.3L119.3 221.9M120.9 221.3L121.2 220.4M119.1 221.4L119.1 221.7M121.2 220.4L121.1 219.9M119.1 221.7L119.3 221.9M122.3 222.2L120.9 221.3M119.3 221.9L119.3 221.9M123.1 220.4L121.2 220.4M117.3 219.9L119.1 221.4M116.7 221.6L119.1 221.7M121.6 218.7L121.1 219.9M121.7 218.7L121.6 218.7M115.7 216.3L117.5 216.8M116.9 218.9L117.1 218.8M117.1 218.8L117.5 216.8M119.4 219.6L119.2 218.8M117.1 218.8L119.2 218.8M117.8 215.1L117.9 216.4M117.9 216.4L117.5 216.8M129.9 184.8L129.1 186.7L128.5 187.8M132.7 188.5L131.5 189.1L129.2 189.5M128.5 187.8L129.2 189.5M125.9 191.5L127.1 190.1M128.9 190.6L128.9 190.1M127.1 190.1L128.9 190.1M128.9 190.1L129.2 189.5M123.7 191.1L123.4 189.3M122.6 191.2L121.7 190.4M121.7 190.4L123.4 189.3M120.8 191.0L121.1 190.4M121.7 190.4L121.1 190.4M113.9 189.4L116.2 188.8M116.6 187.2L117.0 187.9M116.2 188.8L117.0 187.9M117.5 190.1L117.6 189.8M116.2 188.8L117.6 189.8M118.9 191.1L119.5 189.1M119.5 189.1L118.8 188.7M117.6 189.8L118.8 188.7M118.3 187.5L118.3 187.9M118.3 187.5L119.1 185.8M120.0 186.9L119.1 185.8M120.0 186.9L118.5 188.1M118.5 188.1L118.3 187.9M117.0 187.9L118.3 187.9M117.5 186.1L118.3 187.5M118.7 185.3L119.0 185.3M119.0 185.3L119.1 185.8M118.8 188.7L118.5 188.1M119.4 184.9L120.5 185.0M119.4 184.9L119.1 183.3M119.1 183.3L120.4 182.9M120.4 182.9L121.3 183.9M120.5 185.0L121.3 184.4M121.3 184.4L121.3 183.9M119.0 185.3L119.4 184.9M120.6 186.9L120.0 186.9M120.9 186.4L120.6 186.9M120.9 186.4L120.5 185.0M118.4 182.8L119.1 183.3M121.2 180.2L120.4 182.9M122.6 182.8L121.3 183.9M121.9 180.4L122.6 182.8M120.9 186.4L122.3 186.3M122.7 185.3L122.3 186.3M122.7 185.3L121.3 184.4M122.7 185.3L122.7 185.3M125.1 186.5L126.0 187.4M125.1 186.5L124.4 186.7M124.4 186.7L123.8 187.3M126.0 187.4L125.4 189.2M123.8 187.3L123.6 189.0M123.6 189.0L125.3 189.2M125.3 189.2L125.4 189.2M122.7 185.3L124.4 186.7M122.3 186.3L122.5 186.9M122.5 186.9L123.8 187.3M127.1 190.1L125.4 189.2M127.2 187.3L128.5 187.8M127.2 187.3L126.0 187.4M124.9 191.0L125.3 189.2M123.5 189.1L123.4 189.3M123.5 189.1L123.6 189.0M127.1 185.4L126.3 185.1M127.1 185.4L129.5 184.4M129.5 184.4L127.2 183.7M127.2 183.7L126.1 184.2M126.3 185.1L126.1 184.2M125.1 186.1L125.1 186.5M125.1 186.1L126.3 185.1M127.2 187.3L127.1 185.4M129.5 184.4L129.5 184.4M126.7 181.6L126.7 181.8M126.7 181.8L127.2 183.7M125.2 183.5L126.7 181.8M125.2 183.5L126.1 184.2M123.4 183.3L123.1 184.9M123.4 183.3L124.4 183.1M125.0 183.5L124.4 183.1M125.0 183.5L124.5 185.1M124.5 185.1L123.1 184.9M122.6 182.8L123.4 183.3M122.7 185.3L123.1 184.9M124.4 179.8L124.7 181.7L124.4 183.1M125.2 183.5L125.0 183.5M125.1 186.1L124.5 185.1M120.5 217.9L119.5 218.4M120.5 217.9L120.8 216.6M119.5 218.4L118.5 216.7M118.5 216.7L120.1 216.1M120.8 216.6L120.1 216.1M121.6 218.7L120.5 217.9M119.2 218.8L119.5 218.4M122.0 216.2L120.8 216.6M117.9 216.4L118.5 216.7M119.9 215.1L120.1 216.1M120.2 189.1L120.6 189.4M120.2 189.1L120.7 187.1M120.6 189.4L122.0 188.2M120.7 187.1L121.9 187.9M121.9 187.9L122.0 188.2M119.5 189.1L120.2 189.1M121.1 190.4L120.6 189.4M120.6 186.9L120.7 187.1M123.5 189.1L122.0 188.2M122.5 186.9L121.9 187.9M228.6 116.1L235.8 117.9L244.7 119.7L253.7 120.6L261.2 124.0M240.0 125.0L244.7 126.9L251.9 128.7L259.0 130.5L263.5 135.0L268.5 136.0M190.0 150.0L205.2 152.6L220.2 153.8L230.3 153.8L240.3 156.3L256.7 163.9L259.5 163.0M182.6 158.8L192.6 161.4L205.2 160.1L215.2 159.6L225.3 161.4L235.3 165.1L245.4 166.4L255.4 165.1M222.8 196.5L215.2 191.5L205.2 186.5L195.1 181.4L190.1 176.4L186.3 170.1L183.8 163.9L182.6 158.8M190.1 176.4L189.8 185.0L190.5 195.0L190.0 205.0M206.9 105.4L207.9 110.7L209.0 115.0L212.2 118.3L220.8 116.1L229.4 115.0L231.6 110.7L226.2 107.5M231.6 110.7L232.2 104.7M237.0 111.0L245.0 114.0L252.0 117.5" fill="none" stroke="#fff" stroke-opacity="0.25" stroke-width="1.3" stroke-linejoin="round"/>
<path d="M0.0 25.6L2.2 26.6L3.4 26.4L4.5 28.6L5.7 28.4L6.3 29.4L8.2 29.7L9.9 30.0L11.8 30.4L12.9 32.4L14.3 33.4L15.9 33.6L17.2 34.6L19.3 35.4L20.4 35.2L21.9 36.7L23.1 37.4L24.0 38.2L25.7 38.9L28.0 40.0L28.0 40.2L29.9 40.5L32.4 41.5L33.4 42.0L34.3 42.8L36.1 43.4L37.1 45.0L38.5 45.4L40.3 45.6L41.4 46.7L43.0 47.5L44.7 48.3L45.6 49.1L47.4 50.2L48.8 50.4L50.1 51.0L52.0 51.2L53.3 53.3L54.6 53.6L56.5 53.2L57.2 54.5L58.0 55.6L60.7 55.6L61.5 56.8L63.7 57.7L64.6 58.0L66.3 58.9L68.1 59.6L68.5 60.6L70.4 60.9L71.0 62.8L74.5 63.0L75.2 62.8L76.4 65.0L77.5 64.8L79.3 65.4L79.9 66.7L81.7 66.7L83.5 68.3L85.7 67.7L86.2 69.1L88.0 70.1L89.2 70.9L90.6 71.6M0.0 76.1L1.2 75.0L3.1 76.7L4.6 76.4L6.7 76.6L8.3 75.7L9.7 75.6L11.5 76.9L12.0 76.8L14.5 76.3L16.0 76.6L16.9 77.0L19.6 76.8L20.8 76.3L21.8 77.3L24.8 77.1L24.9 76.9L27.0 76.2L29.1 77.1L30.0 76.9L32.5 77.1L34.0 77.1L35.1 77.6L36.1 76.9L38.7 77.0L39.8 77.8L41.1 77.3L43.9 76.9L44.9 77.5L46.9 77.9L47.6 77.2L49.7 77.9L51.6 77.6L52.7 77.9L54.4 77.8L56.0 78.0M56.0 78.0L58.6 76.9L60.1 77.0L61.6 77.4L62.7 77.6L63.5 76.5L65.2 76.5L67.7 76.4L69.0 76.6L71.9 76.4L72.1 76.4L73.5 76.5L76.6 75.4L78.2 75.7L79.4 75.9L80.8 75.0L81.3 76.6L84.4 75.0L85.5 74.9L88.0 75.3L88.9 74.7L90.8 74.6M90.8 74.6L91.0 74.3M97.6 270.2L95.8 271.0L94.2 271.7L93.8 274.3L92.4 274.7M97.6 270.2L98.1 270.7M0.0 292.9L2.4 292.2L2.4 292.2L4.5 291.6L6.6 291.6L7.8 290.8L9.3 290.2L10.3 289.8L13.3 289.5L13.8 289.1L15.4 288.8L17.8 288.6L18.8 288.8L20.6 288.1L22.5 287.4L24.2 287.2L25.2 286.9L27.1 286.7L29.4 285.2L30.3 285.4L31.7 285.3L34.0 285.3L34.5 284.7L36.3 284.3L38.0 283.9L39.2 283.6L41.0 282.7L43.1 282.4L44.0 282.2L46.4 282.2L47.4 282.1L49.8 281.3L50.2 280.6L52.6 280.2L53.2 279.6L54.9 280.3L57.3 279.6L58.7 278.7L61.2 279.0L61.8 278.8L62.6 277.8L64.3 277.7L66.8 276.6L67.1 276.4L70.0 277.0L71.4 276.3L71.9 275.6L74.2 275.3L76.1 275.2L77.7 275.2L79.5 274.4L80.6 274.1L82.4 273.3L84.3 272.9L85.5 271.9L87.1 272.8L88.6 272.0M88.6 272.0L90.8 273.0L92.4 274.7M184.4 300.0L183.8 298.6L184.8 295.9L184.6 295.2L184.2 292.6L183.9 291.4L183.6 289.3L184.6 288.2L183.6 286.5L183.6 285.1L183.4 283.5L182.9 281.6L183.0 279.9L182.2 277.2L182.8 276.5L182.5 275.1L182.0 272.9L182.4 271.4M190.0 271.8L188.1 271.6L186.7 271.4L184.2 271.2L182.4 271.4M90.8 74.6L90.8 77.1L90.9 78.3M90.6 71.6L92.3 69.9L92.4 68.9L94.2 67.4M92.2 0.0L92.7 1.2L91.7 3.3L92.2 4.5L92.0 6.7L92.6 7.3L92.2 9.8L92.9 11.0L92.3 13.0L93.6 14.4L93.2 15.7L92.3 17.2L92.5 19.4L93.2 20.6L92.8 21.9L92.8 24.3L92.7 26.1L92.9 27.4L92.9 28.8L93.2 30.8L92.9 32.4L93.3 34.2L92.5 35.5L92.9 36.6L92.8 38.9L93.8 40.3L93.8 41.6L92.7 43.0L93.7 45.2L93.1 46.7L93.8 48.5L93.6 49.4L93.5 50.8L93.2 53.0L94.0 55.2L94.3 56.1L93.7 57.8L93.6 59.8L93.3 61.1L94.1 62.1L94.5 64.8L94.2 65.9L94.2 67.4M97.6 270.2L97.5 270.0M97.5 270.0L95.5 269.2L93.5 268.2L91.9 267.3M172.0 300.0L172.0 297.3L171.7 296.2L172.0 295.2L172.7 294.5L172.3 291.7L172.6 289.6L172.2 288.4L172.3 286.4L171.7 285.0L172.6 283.5L172.0 282.4L172.0 279.4L172.2 279.3L172.5 277.1L172.2 275.5M172.2 275.5L173.6 274.6L174.1 273.3L176.4 270.8L177.6 270.0M190.0 264.0L187.4 263.7M190.0 255.3L188.6 255.2M187.4 263.7L186.7 262.7L185.6 260.5L184.7 259.4M188.6 255.2L187.0 255.9L185.7 258.3L184.7 259.4M184.9 251.4L185.3 250.3L187.1 248.4L187.7 246.9M190.0 246.9L187.7 246.9M91.0 74.3L92.9 74.1L94.3 74.4M94.2 67.4L95.0 68.1L96.1 69.9L97.0 71.5M97.0 71.5L95.6 72.7L94.3 74.4M172.2 275.5L170.7 274.2L169.3 273.4L167.9 272.4L167.2 271.0L165.7 270.0M177.6 270.0L176.9 267.9L175.0 267.5L173.9 267.3L172.7 265.8L171.6 264.6M171.6 264.6L170.1 265.7L169.4 266.5L167.2 267.6L167.4 268.5L165.7 270.0M171.6 260.9L171.4 260.7M171.4 260.7L171.4 258.5L171.8 257.5L171.5 255.4L171.2 253.7L171.8 252.5M180.1 258.6L179.4 257.4L180.3 255.9L179.5 253.1L179.4 252.0M171.8 252.5L174.1 252.4L174.6 252.6L177.0 252.4L178.9 251.6M179.4 252.0L178.9 251.6M171.6 264.6L170.9 262.8L171.6 260.9M184.7 259.4L181.8 259.0L180.1 258.6M184.9 251.4L183.6 251.7L181.4 251.6L179.4 252.0M190.0 238.0L188.4 238.1M187.7 246.9L185.8 244.8L185.0 243.8L184.4 242.7M188.4 238.1L187.4 239.4L186.3 241.9L184.4 242.7M178.7 243.6L178.2 245.0L178.4 246.7L179.5 247.9L178.9 250.3L178.9 251.6M205.2 132.4L205.2 132.4M205.2 132.4L203.4 130.5L202.8 129.3L201.4 127.6L200.8 126.3M202.7 123.9L200.8 126.3M202.7 123.9L204.7 124.7L205.6 124.1L207.6 124.7M200.5 140.9L202.5 141.1L204.3 140.2L205.8 141.0M200.5 140.9L199.5 139.7M205.2 132.4L204.1 134.0L201.9 134.3L200.5 135.3L199.7 136.3M199.7 136.3L199.1 138.2L199.5 139.7M196.8 127.1L199.3 126.9L200.8 126.3M196.8 127.1L195.8 130.4L195.1 131.3M199.7 136.3L198.2 134.7L197.1 133.9L196.4 132.1L195.1 131.3M178.6 0.0L178.3 1.5L178.4 2.9L177.9 4.8L178.1 6.5L177.9 8.3L177.8 9.0L177.4 11.4L177.5 12.6L176.9 14.4L176.9 16.2L177.5 18.1L177.0 19.6L177.1 20.2L176.8 23.2L177.2 24.2L176.0 25.8L175.4 26.4L176.8 28.5L175.6 31.2L175.9 32.2L175.3 33.9L175.7 35.5L176.3 36.9L175.4 39.2L175.3 40.6L174.6 41.6L174.5 42.7L174.3 45.1L174.5 46.5L173.6 48.4L173.0 49.3L173.6 50.6L173.7 53.5L173.5 55.4L173.5 56.7L172.9 57.6L173.1 59.5L172.9 62.2L173.4 62.9L172.3 64.9L172.5 65.7L172.6 67.2L172.0 69.9L172.1 70.7M161.0 0.0L161.6 1.4L160.3 3.6L161.4 5.0L161.2 6.2L160.7 8.1L160.5 10.2L160.7 12.0L161.1 13.0L161.5 14.3L161.4 16.9L161.1 18.1L161.1 19.2L160.9 20.5L161.4 22.2L160.7 24.8L162.0 26.1L161.2 27.2L161.5 28.9L161.7 30.9L161.5 32.6L161.3 33.5L161.0 35.7L161.1 38.2L160.5 38.9L161.7 40.2L161.0 41.6L160.9 44.0L162.2 45.5L161.3 46.5L161.1 48.6L161.6 49.3L161.4 52.3L161.4 52.5L161.3 54.6L161.6 56.5M161.6 56.5L161.8 58.4L162.0 59.9L163.2 61.7L163.9 63.3L164.3 64.5L165.4 67.8L165.4 68.0L165.8 69.6M172.1 70.7L170.3 71.7M165.8 69.6L167.8 69.7L168.9 70.2L170.3 71.7M102.8 272.4L101.1 272.4L99.5 271.9L98.1 270.7M102.8 272.4L104.1 274.5L103.6 275.4L104.4 276.9L104.5 279.8L104.8 280.5L105.5 282.5L105.9 284.0L106.5 285.5L106.8 286.3L107.3 288.5L107.5 290.3L107.9 291.6L108.5 293.7L108.8 295.2L109.5 296.2L110.0 298.4L110.3 300.0M92.2 252.5L89.8 253.3L88.9 254.6L87.8 255.1L86.0 256.3L84.6 257.5M84.6 257.5L83.4 258.5L80.8 257.9L77.9 258.8L77.0 258.9M77.0 258.9L75.1 258.5L73.7 258.5L72.6 257.7L70.9 258.5L68.8 259.0L67.5 258.7L65.1 257.9L65.2 258.8L63.1 257.7L60.7 258.1L59.9 257.3L57.9 258.4L56.4 257.9L55.0 257.5L53.3 257.9L51.1 257.8L48.9 257.8L48.3 257.6L46.2 257.6L45.0 258.0L42.6 256.4L42.0 257.0L40.4 257.2L38.5 256.8L37.2 257.4L35.7 256.6L34.2 256.0L31.7 256.6L29.9 256.6L29.2 256.1L27.2 255.9L26.4 255.7L24.5 256.2L22.8 256.0L21.9 255.0L19.8 256.1L17.6 254.9L16.7 254.8L14.7 254.8L13.0 255.4L11.0 256.0L9.1 254.6L8.0 255.4L6.0 254.9L4.6 254.9L2.4 254.9L2.0 254.9L0.0 254.6M0.0 252.2L1.6 252.6L3.3 252.1L4.4 251.7L6.9 250.7L7.9 251.5L9.7 252.0L11.0 251.0L12.4 251.0L13.9 250.9L16.1 251.2L18.6 250.3L19.3 250.8L20.8 250.6L22.2 250.9L23.8 250.8L25.5 250.5L27.3 249.5L29.0 250.5L30.2 249.7L31.6 249.9L33.8 248.8L34.9 250.2L36.8 249.5L38.8 248.3L40.3 248.9L42.0 249.1L43.6 249.6L44.5 248.2L46.8 248.5L48.7 248.8L50.2 248.0L51.6 248.7L53.7 248.3L53.3 247.0L56.8 248.3L57.6 247.9L59.3 247.9L59.9 247.4L62.6 247.6L64.6 247.4L65.3 247.2L67.7 246.7L69.5 247.4L70.8 246.8L72.2 246.9M91.9 267.3L91.5 266.4M91.5 266.4L90.5 265.9L88.2 265.2L87.2 264.4L86.6 263.6L84.5 261.2L82.5 262.2L80.5 261.4L80.2 259.5L78.9 259.9L77.0 258.9M188.4 238.1L187.8 236.2L185.8 235.4L184.8 234.3L183.8 232.8M0.0 89.8L1.9 89.6L3.3 90.0L5.2 90.3L5.6 89.5L8.8 90.0L9.6 89.3L10.5 89.9L12.2 89.7L14.9 89.8L16.1 89.7L17.7 88.9L19.3 89.1L21.0 90.2L22.9 90.2L24.6 89.0L26.7 89.4L27.5 89.7L29.4 89.6L31.3 89.2L32.0 89.6L33.7 90.0L35.5 89.2L38.0 89.9L39.3 90.8L40.8 89.3L41.5 89.3L43.7 89.8L45.9 89.7L48.4 90.3L49.2 90.4L50.9 89.5L52.2 90.0L53.4 89.4L55.6 89.2L57.6 89.6L58.7 90.2L60.1 89.5L61.0 90.0L62.8 90.0L65.6 89.3L66.3 89.5L68.5 89.3L69.9 89.5L72.2 89.8L73.1 90.0L74.9 89.4L77.1 89.6L78.1 89.8L79.9 89.1L81.0 89.3L83.7 89.3L85.7 89.1L87.1 88.9L88.3 89.1L89.5 89.5M91.3 94.9L90.5 93.4L90.3 90.3M90.3 90.3L89.8 89.7M89.1 97.0L87.0 97.5L86.3 97.1L84.3 98.4L83.4 97.3L80.7 97.1L79.0 97.7L77.2 97.6L76.7 98.3L74.2 97.9L72.6 98.3L71.2 97.4L70.1 98.7L67.9 97.9L67.1 98.3L64.6 97.9L63.0 97.6L62.0 98.1L59.9 98.6L58.2 98.2L56.7 98.3L54.7 98.5L53.2 98.0L51.7 98.1L50.5 98.7L48.0 97.9L46.4 98.6L45.7 98.0L43.6 99.0L42.3 99.3L40.6 98.9L38.0 99.1L38.2 97.6L35.2 98.1L34.3 99.3L31.9 98.5L29.8 98.8L28.9 99.3L27.6 99.7L25.9 99.5L23.7 99.5L22.4 98.8L20.9 98.7L19.5 98.6L17.5 99.9L16.5 99.7L14.1 99.0L13.1 99.5L11.2 99.0L8.7 99.0L7.8 99.9L6.9 99.5L5.0 99.5L2.5 99.9L1.9 99.8L0.0 100.0M89.5 89.5L89.8 89.7M89.5 89.5L89.6 87.6L89.0 85.2L89.1 83.5M91.3 94.9L92.0 95.1M92.0 95.1L93.2 94.9L96.0 93.6L97.3 93.7M97.4 90.0L98.3 91.5M199.5 139.7L197.6 139.3L194.8 140.2L193.3 140.5M195.1 131.3L193.2 132.5L190.8 132.8L189.4 133.9M193.3 140.5L191.6 138.4L191.5 137.0L190.4 135.8L189.4 133.9M199.7 147.3L197.5 146.6L196.3 147.0L194.0 147.0L191.6 145.9L190.5 146.0M200.5 140.9L199.9 142.7L200.1 143.8L200.7 146.3L199.7 147.3M193.3 140.5L192.3 143.3L191.3 144.6L190.5 146.0M202.7 123.9L202.3 122.5L202.6 120.6M202.6 120.6L204.2 119.7L204.6 119.1L206.1 117.1L207.1 115.6L208.5 115.0M203.4 89.7L200.5 90.8M203.4 77.0L201.5 77.6L199.1 77.1L197.9 77.8M198.1 80.6L197.9 77.8M197.3 73.3L196.6 76.2M197.9 77.8L196.6 76.2M169.9 76.3L168.9 77.3M168.9 77.3L169.2 80.3M169.9 76.3L172.0 76.2L173.8 76.6L175.0 76.9M169.2 80.3L171.5 81.1L172.3 82.8L174.1 83.2M175.0 76.9L175.3 78.4L176.2 80.0L175.4 82.2M175.4 82.2L174.1 83.2M172.1 70.7L173.9 72.1L175.9 71.9M170.3 71.7L170.4 73.8L169.9 76.3M175.0 76.9L177.1 74.8M175.9 71.9L177.1 74.8M168.9 77.3L166.7 77.2L165.6 76.6M165.8 69.6L163.9 71.8L163.7 73.5M163.7 73.5L164.9 75.1L165.6 76.6M154.7 71.9L153.7 74.9M154.7 71.9L155.9 70.8L157.7 69.6M153.7 74.9L155.0 75.6L157.8 76.1L158.9 77.1M157.7 69.6L158.7 70.6L160.1 72.1L161.1 73.8M161.1 73.8L160.8 75.3L158.9 77.1M151.0 76.8L151.7 76.0L153.7 74.9M151.0 76.8L148.5 76.9L146.4 76.3M159.7 79.6L158.9 77.1M156.6 83.2L157.5 81.2L159.7 79.6M151.0 76.8L152.6 78.7L152.2 78.9L154.0 81.1L154.1 82.7M156.6 83.2L154.1 82.7M163.7 73.5L161.1 73.8M162.4 80.1L163.8 78.3L165.6 76.6M162.4 80.1L159.7 79.6M129.4 73.2L128.3 72.5M129.4 73.2L130.3 72.5L132.4 70.9M131.5 0.0L131.8 1.8L131.7 3.1L130.7 5.0L130.2 6.7L130.9 8.3L130.9 10.3L130.4 12.1L130.4 12.1L130.2 14.3L130.3 16.6L129.9 18.2L130.2 19.2L129.4 21.2L129.0 22.9L129.5 25.5L129.5 27.0L129.3 27.3L129.6 29.8L128.3 31.1L128.5 33.4L129.4 33.9L129.3 35.9L128.8 38.3L127.7 38.8L127.6 40.4L128.2 42.1L127.6 43.5L127.1 45.5L127.2 47.3L127.0 49.0L126.9 51.4L126.4 52.4L127.1 54.6L126.1 55.6L125.8 56.8L126.5 58.6L125.9 60.6L125.9 61.9L125.9 63.6L125.9 64.5L125.7 66.9M132.4 70.9L132.2 69.8L132.1 67.5L133.1 66.0L132.2 63.6L133.3 61.7L132.5 61.4L133.6 59.9L133.1 58.2L133.6 56.8L133.8 54.6L133.9 53.4L134.5 51.6L133.9 49.1L134.0 48.0L134.8 46.5L134.3 45.7L134.6 42.6L134.4 41.9L134.7 41.4L134.4 39.4L134.9 37.4L136.2 35.9L135.7 33.7L135.2 32.2L134.9 30.2L134.9 29.9L135.6 27.2L136.1 25.5L135.7 23.5L136.0 22.6L135.7 20.5L136.2 19.2L136.9 18.3L136.2 15.9L136.8 15.2L136.7 13.1L136.6 11.3L137.0 9.9L136.9 7.7L136.5 6.5L137.1 3.8L137.3 3.7L137.5 2.5L137.6 0.0M125.7 66.9L127.3 69.1L127.1 70.3L128.3 72.5M138.4 77.9L139.8 79.3L141.4 80.1M138.4 77.9L137.9 76.9L136.8 74.8L136.7 72.9M144.8 77.0L144.0 77.6L141.6 80.0M141.6 80.0L141.4 80.1M129.4 73.2L129.5 74.4M132.4 70.9L135.0 72.9L136.7 72.9M146.4 76.3L144.8 77.0M154.1 82.7L152.7 84.3L151.9 85.2L151.4 86.7L148.0 86.3L147.9 87.8M147.9 87.8L147.1 86.5L145.5 84.8L144.9 83.9L143.8 82.3L142.6 80.7L141.6 80.0M138.9 277.8L138.6 279.0L138.5 281.0L138.0 281.8L136.6 284.6L138.0 285.8L137.1 287.0L136.3 289.3L136.5 291.1L136.3 292.0L136.2 293.2L136.1 295.4L134.9 297.7L135.2 298.4L134.7 300.0M138.9 277.8L139.3 276.6L138.7 274.5L137.1 273.6L137.1 270.8L137.3 269.9M129.4 300.0L129.2 298.1L130.0 296.9L129.5 294.6L129.2 294.3L129.6 292.2L130.4 290.9L129.7 287.6L130.0 286.4L130.6 285.3L129.5 283.6L129.0 282.0L129.4 279.7L129.2 278.7L130.0 276.8L129.9 274.8L130.0 273.4M137.3 269.9L134.3 269.7M130.0 273.4L131.4 272.9L132.4 270.4L134.3 269.7M178.7 243.6L176.3 243.2L174.6 243.5L174.0 243.5L172.1 243.4M171.8 252.5L169.4 250.7M169.4 250.7L170.0 248.7L171.3 246.8L170.7 245.1L172.1 243.4M72.2 246.9L73.9 246.8L75.0 246.1L76.9 245.5L78.4 245.8L79.6 245.0L82.2 244.7L83.3 243.0L85.1 243.4L86.7 243.9L88.5 243.7L90.2 242.7M92.0 246.6L91.5 245.4L90.2 242.7M84.6 257.5L85.7 257.4L88.2 258.6L90.1 258.9L91.2 259.6L93.4 259.8M92.2 252.5L95.0 253.1M95.0 253.1L95.9 254.4M95.9 254.4L95.5 256.2L95.0 258.0L93.4 259.8M91.5 266.4L92.4 265.6L92.8 263.3L94.4 261.6M94.4 261.6L93.4 259.8M157.7 300.0L158.5 298.1L158.3 296.5L158.6 294.7L157.7 293.0L158.4 292.0L158.1 289.9L158.4 288.7L158.1 287.9L158.3 285.8L159.1 284.3L159.1 282.7L159.2 280.8L159.1 279.0L159.2 277.7L159.1 275.0L159.5 274.0M167.1 227.4L168.4 227.6L170.2 228.1L172.7 228.0L174.5 228.5M174.9 234.1L173.9 231.6L173.7 230.9L174.5 228.5M174.9 234.1L172.9 235.1L172.3 236.7L170.0 236.7L168.6 237.0L167.4 238.1M167.1 227.4L164.9 228.1L163.8 230.1M163.8 230.1L163.7 231.7L164.9 233.1L165.4 234.9L167.1 236.7L167.4 238.1M172.1 243.4L170.8 241.7L168.9 240.2L168.7 238.9L167.4 238.1M167.4 238.1L167.4 238.1M130.6 92.7L130.6 94.6L130.5 96.6L130.4 98.2M130.4 98.2L132.4 100.0M130.6 92.7L131.7 92.2L133.2 91.8L135.8 92.3L137.4 91.7M137.4 91.7L138.3 92.6M138.3 92.6L137.7 93.7L136.4 96.1L135.8 96.9L135.5 98.4M132.4 100.0L134.6 99.2L135.5 98.4M135.2 108.7L134.8 109.2M135.2 108.7L135.2 105.8L135.0 105.2M12.2 190.1L13.6 190.6L15.6 190.2L17.4 190.4L18.9 190.7L20.1 189.9L21.9 190.4L23.9 189.9L25.4 190.1L26.8 189.5L28.9 190.6L30.6 190.0L32.1 189.5L33.2 190.7L35.3 190.0L37.0 190.7L38.6 190.8L40.3 190.1L40.5 189.8L43.6 190.4L44.7 189.9L46.1 190.5L48.5 190.4L49.5 190.8L51.7 190.2L53.1 189.7L54.9 190.4L56.5 190.2L57.5 190.0L59.8 189.6L60.5 190.0L64.1 189.9L65.0 189.9L65.1 191.0L66.8 189.3L70.3 189.9L71.0 190.4M12.2 190.1L13.8 190.9L15.6 189.5L16.6 190.0L18.4 190.3L20.3 189.2L22.1 188.9L22.8 189.1L24.6 188.4L26.4 188.3L28.9 188.4L29.1 187.5L31.3 187.8L33.1 187.4L33.9 187.6L36.4 186.5L38.0 187.1L39.3 186.4L40.7 186.3L42.3 186.6L44.3 185.3L45.9 186.2L47.5 186.2L49.1 185.6L51.2 185.0L52.4 185.0L54.1 184.9L55.6 184.8L56.9 184.3L58.4 184.0L60.8 183.5L62.5 183.7L63.7 183.2L64.9 183.7L66.0 183.4L68.6 182.8L69.9 183.9L70.4 182.3L73.1 182.7L73.9 181.4L76.9 182.4L77.9 181.7L79.2 182.0L80.5 180.7L82.7 180.8L84.3 181.1L86.0 180.8L87.5 180.6L89.0 180.4M71.0 190.4L71.9 190.5L74.6 189.7L76.3 189.9L77.3 191.3L79.5 189.6L81.2 189.5L83.2 188.8L84.8 188.7L86.2 188.6L88.2 188.1M88.2 188.1L89.0 186.3L90.9 185.8L91.8 183.8M95.8 183.1L96.8 180.3M89.0 180.4L89.5 179.7M95.8 183.1L92.9 184.1M91.8 183.8L92.9 184.1M70.5 118.3L72.3 118.7L74.2 118.3L76.4 119.8L76.6 118.8L79.3 119.3L80.2 119.7L81.8 119.5L84.3 119.9L85.5 120.0L86.9 120.5M86.9 120.5L88.5 122.1L88.7 123.4L90.3 124.9M85.6 128.3L86.9 127.7L89.5 125.7L90.3 124.9M86.9 120.5L89.2 120.2L91.2 118.6M70.5 118.3L72.4 118.2L74.1 118.1L75.7 117.5L77.6 117.3L78.6 116.3L80.6 115.8L82.5 115.6L83.9 115.4L86.1 115.2L86.9 114.9L88.1 114.9L90.3 114.0M90.3 114.0L90.9 116.7L91.2 118.6M89.1 97.0L90.2 98.8L90.8 100.2L90.9 102.0M0.0 105.2L1.4 105.3L3.4 105.2L4.2 105.1L6.7 105.6L8.5 105.0L9.4 105.9L11.5 105.0L13.1 105.2L14.5 105.6L16.3 105.9L18.8 105.7L19.0 105.7L21.6 105.4L23.1 104.8L25.1 104.7L26.4 105.5M90.6 102.6L90.9 102.0M99.9 0.0L99.5 1.7L100.8 3.2L101.1 5.3L101.0 6.4L100.4 7.7L100.1 9.9L100.1 11.3L100.3 13.3L100.6 14.1L100.5 16.7L100.0 18.3L101.5 20.2L100.1 21.6L100.4 23.1L101.5 24.7L101.0 25.8L101.2 28.2L101.7 29.1L101.5 30.2L101.7 32.7L100.5 34.5L101.7 35.3L100.6 37.5L101.8 38.9L101.5 40.7L101.6 42.8L101.3 42.8L102.4 45.9L101.8 47.3L101.0 48.7L101.7 49.8L101.5 51.8L102.0 53.6L101.2 55.0L102.0 57.4L101.9 57.9L102.5 59.8L103.1 62.1L102.7 63.7L103.0 65.6L103.5 66.9L102.5 68.4M97.0 71.5L99.5 72.2M99.5 72.2L100.8 71.5M102.5 68.4L101.2 70.1L100.8 71.5M89.8 89.7L91.2 88.7L92.9 86.6L94.0 85.0M89.1 83.5L92.2 82.8M94.0 85.0L92.2 82.8M97.4 90.0L98.2 87.7L97.5 85.3M94.0 85.0L95.5 84.4L97.5 85.3M90.9 78.3L92.7 79.7M92.7 79.7L92.2 82.8M92.7 79.7L95.0 79.0L96.9 78.8M97.5 85.3L98.9 83.9M96.9 78.8L98.2 79.2M98.9 83.9L98.3 82.0L98.2 79.2M99.5 72.2L98.7 74.1L99.7 77.5L99.0 78.4M99.0 78.4L98.2 79.2M205.3 109.1L203.2 108.4L201.7 108.6L199.5 107.4L198.5 107.1M198.5 107.1L197.3 105.4L197.9 104.2L197.8 101.8M198.5 107.1L197.9 108.2L196.0 109.6L195.6 111.5M195.6 111.5L195.9 113.2M206.5 112.5L204.4 112.7L202.5 112.9L201.1 114.1L200.3 114.3L198.9 113.7L196.9 114.5M202.6 120.6L200.6 120.0L200.0 119.1L198.3 117.5L197.2 116.8M196.9 114.5L197.2 116.8M196.8 127.1L195.1 125.6L194.7 124.7L193.1 122.9M197.2 116.8L195.8 118.1L195.0 119.9L194.3 121.5L193.1 122.9M165.8 145.9L166.0 148.2L165.7 150.2M165.7 150.2L163.9 152.2M163.9 152.2L161.8 151.5L160.2 150.3M160.2 150.3L160.7 147.9L159.2 145.7M159.7 145.4L159.2 145.7M161.1 139.9L160.7 141.3L160.5 143.6L159.7 145.4M165.3 140.6L165.5 143.3L166.2 145.3M166.2 145.3L165.8 145.9M160.2 138.8L158.2 138.7L156.4 138.6L154.4 139.0M160.2 138.8L161.1 139.9M154.3 141.5L154.1 139.1M154.4 139.0L154.1 139.1M129.5 74.4L128.6 76.8M137.1 85.5L138.3 84.5L140.5 83.1L141.0 81.5L141.4 80.1M131.0 85.0L130.2 83.0M137.1 85.5L135.8 84.9L132.7 85.1L131.0 85.0M131.0 85.0L130.7 85.3M129.7 92.0L130.5 90.3L130.1 88.5L130.5 87.4L130.7 85.3M117.7 300.0L118.6 297.7L118.9 296.5L118.2 294.5L119.0 293.4L119.2 291.3L118.1 290.4L119.6 287.1L119.1 286.4L119.0 284.0L119.2 282.5M119.2 282.5L120.3 279.8L120.4 278.6L120.4 276.9L121.6 276.9L122.0 275.1L123.7 272.5L123.5 271.0M127.7 270.9L124.8 270.6L123.5 271.0M117.2 270.2L118.6 269.3L121.1 267.8M121.1 267.8L121.7 268.0M119.2 282.5L118.1 280.5L118.7 279.7L118.4 276.6L117.8 274.7L117.2 273.6L117.7 272.1L117.2 270.2M121.7 268.0L123.3 270.0L123.5 271.0M127.7 270.9L127.9 269.7L128.0 267.7L128.1 266.0M121.7 268.0L123.4 267.0L124.8 265.5L126.7 265.0M126.7 265.0L128.1 266.0M134.3 269.7L132.1 267.7L131.7 265.7M168.1 220.4L167.8 221.7L167.4 223.7L167.7 225.4L167.1 227.4M160.1 218.3L161.5 217.6L162.7 216.6L164.5 216.4M160.1 218.3L160.0 220.7L158.9 221.5L157.8 223.6L157.6 225.4M164.5 216.4L165.2 217.7L167.3 218.5L168.1 220.4M163.8 230.1L161.4 230.0L159.2 229.0M157.6 225.4L158.3 228.2L159.2 229.0M118.8 262.2L115.8 262.0M117.2 270.2L114.5 270.0L113.6 268.3M113.6 268.3L114.8 267.3L114.5 265.1L114.7 263.7L115.8 262.0M97.5 270.0L98.0 268.1L99.2 266.6L100.0 265.2M94.4 261.6L96.4 261.5L97.9 262.2M100.0 265.2L98.0 263.7L97.9 262.2M0.0 190.7L2.1 190.1L3.5 190.9L4.3 190.8L7.0 191.0L9.0 190.5L10.9 190.3L12.2 190.1M71.0 190.4L72.7 190.8L74.8 191.3L76.0 191.2L77.6 191.4L79.2 191.7L80.3 191.8L82.2 192.8L83.5 192.5L85.8 193.2L87.8 193.9L89.4 193.1L90.7 194.0M0.0 200.3L2.3 200.6L2.6 200.7L4.3 200.0L6.3 200.5L8.4 200.9L9.5 201.6L11.3 200.6L13.6 201.5L13.8 200.0L16.2 201.6L17.5 200.8L20.6 201.3L20.9 202.0L22.6 201.3L24.0 201.0L25.0 202.2L28.0 201.9L29.6 201.8L30.4 201.6L32.2 202.1L33.7 201.5L35.1 202.2L37.0 202.2L38.9 202.2L40.3 202.3L41.6 202.6L44.1 202.4L45.9 203.4L46.4 203.2L48.7 202.4L50.0 202.8L52.5 203.4L54.0 203.0L55.2 203.2L56.5 203.7L57.9 203.1L59.8 202.7L61.4 204.2L62.1 203.1L64.8 203.4M64.8 203.4L67.2 203.2L68.0 203.3L70.3 203.9L70.5 202.9L73.8 202.5L75.4 203.1L76.9 202.6M76.9 202.6L78.9 202.9L79.5 201.7L81.8 200.8L84.5 200.4L85.0 199.7L86.7 200.3L88.0 200.1L90.1 199.2M90.7 194.0L91.1 195.9L89.8 197.4L90.1 199.2M76.9 202.6L78.7 202.4L79.4 203.3L81.2 202.5L84.1 204.4L84.7 204.8L85.9 204.0L87.6 205.1L89.4 204.0L91.4 205.7L92.9 205.8M93.6 204.7L92.9 205.8M112.0 200.4L112.6 198.8L111.9 196.8M112.0 200.4L110.6 199.5L108.1 201.1L106.3 200.2L105.4 200.6M111.9 196.8L110.6 196.9L108.8 195.8L106.8 196.6M64.8 203.4L66.5 204.0L67.2 204.2L68.8 204.4L70.7 204.2L72.4 205.6L74.4 206.5L75.8 206.9L76.8 207.1L79.2 207.2L79.0 207.8L82.0 208.3L82.8 208.9L84.2 208.4L85.8 209.6L88.3 210.2L89.5 210.6M92.9 205.8L92.9 206.1M89.5 210.6L89.7 209.3L91.8 207.5L92.9 206.1M146.3 209.4L145.7 207.7L144.6 205.9M150.3 300.0L150.2 298.8L150.0 296.2L150.4 295.5L149.6 293.7L149.8 291.4L149.8 290.3L149.5 289.1L149.1 287.2L148.5 284.8L149.3 283.9L148.8 281.9L148.5 280.1L148.8 277.7L148.7 277.1L148.7 275.5M138.9 277.8L140.0 277.1L141.8 275.2L142.5 274.7L143.0 273.2L144.9 271.9M148.7 275.5L147.4 274.1L145.8 273.2L144.9 271.9M137.3 269.9L139.2 268.9L139.8 267.4M139.8 267.4L142.5 269.2L142.9 268.7L144.8 270.6M144.9 271.9L144.8 270.6M144.8 270.6L146.2 269.5L147.4 268.2L148.6 267.5M148.6 267.5L149.6 269.0L149.5 269.9L151.9 271.7M159.5 274.0L157.4 273.0L156.6 271.5M156.6 271.5L154.8 272.2L151.9 271.7M131.7 265.7L133.3 264.3L132.7 263.7L134.2 261.5M134.2 261.5L136.1 261.8M139.8 267.4L139.8 267.3M136.1 261.8L137.2 263.2L137.4 264.4L137.9 266.3L139.8 267.3M174.5 228.5L176.4 227.1L177.7 224.9M183.8 232.8L184.1 231.5M177.7 224.9L178.6 226.1L179.2 227.6L182.4 228.8L183.4 229.9L184.1 231.5M127.7 98.9L126.9 100.7L125.0 102.6L124.8 103.9M130.4 98.2L127.7 98.9M125.7 105.3L124.8 103.9M127.7 98.9L125.7 97.7L123.9 96.3M122.1 99.4L123.3 101.0L124.4 101.5L124.8 103.9M123.9 96.3L122.5 98.2L122.1 99.4M124.8 103.9L124.8 103.9M118.7 99.7L119.1 102.4L119.4 104.4M118.7 99.7L121.0 98.8L122.1 99.4M124.8 103.9L122.5 103.4L121.3 104.3L119.4 104.4M139.5 93.1L139.9 94.9L140.8 97.4L141.0 97.9L141.0 100.2M141.0 100.2L140.9 100.3M138.3 92.6L139.5 93.1M140.9 100.3L139.2 100.8M135.0 105.2L136.9 104.5M139.2 100.8L137.1 102.0L136.9 104.5M185.0 98.2L184.4 96.9L182.6 95.3M185.0 98.2L183.6 99.8L182.5 100.9L180.8 101.4L179.3 103.1M182.6 95.3L180.3 95.6L178.0 95.7M172.4 99.0L171.5 100.5L170.8 102.9L170.0 104.3M179.4 104.5L179.3 103.1M179.4 104.5L178.0 105.6L176.5 105.8L174.6 106.1L173.9 106.9L172.0 107.7M170.0 104.3L171.4 106.4L172.0 107.7M180.2 147.7L179.9 149.2L180.2 152.3M180.2 147.7L179.0 148.1L177.1 147.0L175.6 147.1L173.4 146.0M173.4 146.0L172.5 148.0L172.9 149.9L172.3 151.4M177.6 154.0L180.2 152.3M165.7 150.2L167.1 150.3L169.2 151.8L170.9 151.2L172.3 151.4M172.8 144.7L171.6 144.6L169.5 145.0L168.1 145.8L166.2 145.3M172.8 144.7L173.4 146.0M190.4 146.1L188.4 144.2L187.9 143.5L186.0 141.7M190.4 146.1L189.6 147.8M189.6 147.8L188.1 147.9L185.8 148.2L184.2 147.6L182.3 147.8L181.0 146.9M190.5 146.0L190.4 146.1M188.4 133.7L188.6 135.5L187.8 137.0L186.9 139.1L185.2 140.3L186.0 141.7M189.4 133.9L188.4 133.7M201.6 150.8L200.6 149.2L199.7 147.3M189.6 150.4L189.6 147.8M186.0 154.6L183.3 154.4L182.3 152.7L180.2 152.3M180.2 147.7L181.0 146.9M91.2 118.6L93.2 119.4M93.2 119.4L93.1 121.6L93.1 123.2M90.3 124.9L91.0 125.0M93.1 123.2L91.0 125.0M91.2 147.1L89.5 145.9M89.5 145.9L89.9 144.9L88.6 142.3L88.5 141.1M93.4 142.7L92.6 140.8M91.2 147.1L92.3 146.2L92.5 144.2L93.4 142.7M92.6 140.8L90.4 140.5L88.5 141.1M89.5 145.9L88.6 146.3L85.8 145.3L84.6 146.3L82.4 146.0L82.0 147.0L80.0 146.8L77.5 147.1L76.8 146.9L75.3 146.3L74.2 146.8L71.7 146.9L69.4 148.1L68.3 148.3L66.7 147.9L65.7 148.2L64.3 148.1L62.1 148.1L60.4 148.2L59.3 148.4L57.4 148.3L55.2 148.9L54.4 148.8L52.5 149.3L51.4 148.9L49.8 149.5L47.5 149.3L46.0 149.6L45.2 149.9L43.0 150.5L41.5 150.4L39.5 151.1L38.0 150.9L36.6 150.4L34.9 150.9L33.5 150.8M0.0 152.1L1.9 152.3L2.5 152.3L5.1 151.9L6.6 152.4L8.3 152.2L9.5 151.2L12.3 150.6L13.6 151.9L14.7 151.9L16.8 151.4L18.4 151.1L19.6 152.3L21.6 151.1L23.5 151.1L24.6 151.3L27.1 151.9L28.2 151.0L30.1 150.2L31.7 150.1L33.5 150.8M0.0 138.0L1.6 138.1L3.5 138.0L5.0 138.6L6.3 137.8L8.3 138.1L9.1 137.8L11.1 138.4L12.8 137.8L14.6 137.6L16.2 137.8L18.2 138.4L19.6 138.0L20.6 138.2L20.9 137.8L23.7 138.3L25.7 138.2L27.2 139.0L30.0 137.7L30.8 137.2L32.0 139.2L32.6 137.9L35.3 138.5L36.6 138.4L38.9 138.6L40.6 138.1L41.5 137.9L43.1 138.4L45.5 138.6L47.1 137.6L48.4 137.3L49.5 138.4L52.0 137.6L53.9 138.8L55.9 138.0L56.8 137.8L58.1 137.9L59.7 138.8L61.1 138.4L61.9 137.7L64.2 138.1L65.8 138.1L66.9 138.1L69.3 138.3L71.3 137.3L71.6 137.9L73.8 137.9L76.6 138.4L76.4 138.1L78.1 138.3L80.7 137.8L82.2 137.6L83.6 138.1M99.6 116.0L102.5 116.5M99.6 116.0L98.1 118.8L98.3 120.1M98.4 120.3L98.3 120.1M98.4 120.3L100.1 121.0L102.8 121.1L104.5 120.9M102.5 116.5L103.7 118.1L104.6 120.5M104.5 120.9L104.6 120.5M96.5 124.8L95.3 124.0L93.1 123.2M98.2 124.1L96.5 124.8M98.2 124.1L98.5 122.0L98.4 120.3M98.2 124.1L100.5 124.8L101.6 126.4M104.5 120.9L104.5 120.9M99.6 116.0L99.1 115.3M99.1 115.3L97.2 114.8L95.4 115.0M98.5 97.6L99.9 98.4M99.9 98.4L99.0 99.6L99.5 102.3M99.5 102.3L97.3 103.9M97.3 93.7L97.7 96.0L98.5 97.6M101.1 98.1L103.4 98.9L104.4 100.2L105.6 100.9M103.9 104.2L102.7 103.0L101.1 103.2L99.5 102.3M101.1 98.1L99.9 98.4M26.4 105.5L27.5 105.4L29.2 105.5L31.1 105.6L32.7 105.7L34.4 105.6L36.3 106.8L38.1 105.9L38.4 105.4L40.8 106.8L42.7 107.0L43.8 105.7L45.8 106.4L48.1 106.8L48.7 106.3L50.9 107.2L52.1 107.2L54.1 106.9L54.9 107.9L57.7 106.6L58.5 107.3L60.5 107.2L61.7 106.9L62.8 108.0L65.5 107.8L67.1 107.3L68.9 107.4L71.2 107.9L71.7 107.4L72.4 106.8L74.7 108.2L76.5 108.1L79.2 108.0L78.9 107.8L81.2 108.3L82.9 109.5L84.4 108.4L87.0 108.3L87.7 109.2L89.4 108.7M90.6 102.6L91.3 104.8L91.3 106.6M89.4 108.7L91.3 106.6M90.3 114.0L91.1 112.7M97.3 103.9L96.7 106.4L96.8 107.2M95.4 115.0L93.8 112.8M91.1 112.7L93.8 112.8M99.0 78.4L100.7 77.5L103.5 77.9M100.8 71.5L102.9 73.4L104.2 74.4M104.2 74.4L103.3 76.1L103.5 77.9M195.9 113.2L193.9 114.3L192.1 114.3L190.4 115.2L188.9 115.4L186.9 116.6M193.1 122.9L190.0 122.5M186.9 116.6L188.0 118.3L188.0 119.4L189.7 121.0L190.0 122.5M185.9 114.2L184.6 113.5L183.7 112.3L182.0 111.6L180.5 110.6M185.9 114.2L185.9 112.7L187.2 111.4L188.1 109.1L189.2 107.4M189.2 107.4L188.7 105.7M188.7 105.7L187.0 105.9L184.5 106.5L183.0 105.4L181.0 106.7M180.5 110.6L181.4 109.4L181.0 106.7M186.6 116.4L186.9 116.6M195.6 111.5L194.2 110.4L193.4 109.3L191.0 108.1L189.2 107.4M186.6 116.4L185.9 114.2M195.7 101.1L197.8 101.8M195.7 101.1L193.3 101.7L192.5 102.1L191.1 103.0L189.5 103.4M189.5 103.4L188.7 105.7M186.1 98.5L185.0 98.2M179.4 104.5L181.0 106.7M189.5 103.4L188.5 101.5L187.4 100.0L186.1 98.5M190.0 122.5L187.9 124.5L187.8 125.3L185.6 127.1M186.9 132.8L185.5 131.3L186.3 128.1L185.6 127.1M186.6 116.4L184.9 117.6L183.5 116.9L181.9 119.4L180.5 119.5M180.5 119.5L181.2 121.8L180.8 123.7L180.6 124.9M185.6 127.1L184.2 125.6L182.3 125.4L180.6 124.9M183.3 159.3L180.6 160.5M177.6 154.0L177.7 156.4L177.2 158.1M180.6 160.5L178.6 159.2L177.2 158.1M170.4 158.3L169.8 157.0M170.4 158.3L172.5 158.7L174.4 159.8M174.4 159.8L177.0 159.1L177.2 158.1M181.9 75.8L182.4 78.3M177.1 74.8L179.3 75.3L180.0 75.1L181.9 75.8M178.9 82.5L179.6 80.7L182.0 79.8L182.4 78.3M198.1 80.6L196.6 82.3L195.8 83.8L194.8 85.5M196.6 76.2L195.4 76.5L193.3 76.6L191.6 76.6M190.2 78.9L191.6 76.6M191.5 84.3L193.0 84.7L194.8 85.5M200.5 90.8L198.3 89.7L196.4 90.1M194.8 85.5L196.0 86.2L195.9 88.6L196.4 90.1M188.7 73.0L186.8 73.6L185.7 74.2L184.0 74.7L182.2 75.5M182.2 75.5L182.3 73.6L182.3 71.4L181.9 69.6L182.4 68.6L182.3 66.8L181.7 64.6L181.8 62.7M181.8 62.7L182.4 61.0L183.3 59.8L183.4 57.8L183.6 56.9L184.1 55.2L184.2 54.0L185.5 51.9L185.3 49.8L185.1 48.6L186.3 46.9L186.9 45.0L187.1 43.7M187.1 43.7L187.0 45.3L187.5 46.7L187.4 48.6L189.1 50.7L188.4 51.3L188.5 52.9L188.6 55.0L188.4 55.9L188.9 58.2L189.8 59.5M191.6 76.6L189.9 75.3L188.7 73.0M185.2 80.2L183.3 79.5L182.4 78.3M190.2 78.9L188.6 78.9L186.7 79.8L185.2 80.2M197.3 73.3L196.8 72.1L196.0 70.1L195.2 69.1L194.1 67.1L192.9 66.1L192.8 64.3L191.7 63.1L190.5 61.7L189.8 59.5M175.9 71.9L176.6 70.2L177.5 68.5L178.4 67.3L179.3 66.5L180.2 64.2L181.8 62.7M187.7 0.0L187.8 2.2L187.9 3.7L187.7 4.6L187.3 6.5L188.2 7.5L187.3 9.7L187.6 11.0L187.2 13.6L188.1 14.5L187.7 16.4L187.1 17.7L187.0 19.1L187.5 21.6L187.4 23.2L187.7 23.8L187.5 26.3L187.8 26.9L186.9 29.2L186.9 31.0L187.0 32.3L187.8 34.2L187.4 35.4L187.3 37.5L186.9 39.0L186.8 40.2L188.3 42.2L187.1 43.7M147.9 87.8L147.9 87.9M147.9 87.9L146.5 89.9L145.8 90.8L145.0 92.6M145.8 98.8L144.4 99.1L142.4 99.7L141.0 100.2M145.8 98.8L146.8 96.3M145.0 92.6L145.5 95.2L146.8 96.3M128.6 76.8L125.8 78.2M130.2 83.0L128.4 82.5L126.3 81.5M125.8 78.2L126.0 79.4L126.3 81.5M133.0 259.8L129.9 259.0M126.7 265.0L126.1 262.6M129.9 259.0L128.5 259.8L128.3 261.1L126.1 262.6M118.8 262.2L121.0 260.6L121.8 260.1M126.1 262.6L124.7 261.6L123.3 260.2L121.8 260.1M159.2 229.0L157.9 229.8L156.7 232.2L155.1 233.0L154.1 234.8M167.4 238.1L165.9 239.6L164.9 240.1L162.9 241.2L162.0 242.4M162.0 242.4L159.9 240.6L159.1 240.4L157.8 238.9L157.3 237.4L155.6 236.1L154.1 234.8M165.0 250.8L163.0 249.4L162.2 247.9L160.7 246.1M162.0 242.4L161.3 245.4L160.7 246.1M100.0 265.2L101.9 264.3L103.1 264.5L105.1 264.4M113.6 268.3L112.6 268.7M125.4 250.2L124.3 249.5L122.3 249.3L119.7 248.6M125.4 250.2L124.6 251.8L124.0 253.8L124.1 255.3M124.1 255.3L122.4 256.3M114.7 261.0L115.8 262.0M114.7 261.0L114.1 258.7L114.2 257.0L114.2 254.8M121.8 260.1L122.0 258.5L122.4 256.3M128.4 256.3L129.9 259.0M128.4 256.3L126.3 255.7L124.1 255.3M112.6 268.7L110.9 267.2L110.1 267.7L109.5 266.1L107.6 264.6L106.5 263.5M108.6 261.6L106.5 263.5M111.3 252.9L112.3 254.2L114.2 254.8M111.3 252.9L110.2 254.2L108.1 254.6M108.6 261.6L109.2 260.1L108.4 258.7L107.8 255.9L108.1 254.6M105.1 264.4L105.9 263.7M106.5 263.5L105.9 263.7M140.2 197.9L142.3 197.3L143.9 195.8M133.7 194.6L132.7 194.1M133.7 194.6L135.2 193.6L138.0 192.6M132.7 194.1L133.0 191.6L133.6 189.5M133.6 189.5L136.4 189.4M136.4 189.4L136.6 191.6L138.0 192.6M139.9 197.7L139.5 196.2L138.8 193.8L138.3 192.7M139.9 197.7L136.9 198.2L135.3 197.9M135.3 197.9L135.1 196.2L133.7 194.6M138.0 192.6L138.3 192.7M91.8 231.4L92.9 229.9M91.8 231.4L91.8 233.6M92.2 240.4L93.7 237.9L94.6 236.8M91.8 233.6L93.2 235.4L94.6 236.8M111.3 252.9L111.3 251.5M114.4 246.2L113.8 247.8L111.5 250.4L111.3 251.5M114.4 246.2L114.2 245.6M122.6 242.7L122.1 243.9L121.3 246.0L121.1 246.1L119.7 248.6M105.7 246.1L107.8 245.5L108.3 244.2L110.7 244.6L112.2 243.6M111.3 251.5L109.8 249.6L108.4 249.0L107.1 247.0L105.7 246.1M114.2 245.6L112.2 243.6M111.3 193.5L112.2 192.2L113.0 190.8L112.9 188.9M112.9 188.9L111.6 188.0L108.9 188.1M108.1 192.3L108.6 190.3L108.9 188.1M106.8 196.6L105.9 195.3L105.4 193.5M112.5 195.7L111.3 193.5M111.9 196.8L112.5 195.7M108.1 192.3L105.4 193.5M105.0 200.8L104.2 200.6M104.2 200.6L102.3 198.8L102.3 197.8L101.2 195.6M105.4 193.5L103.1 192.7M105.0 200.8L105.4 200.6M101.2 195.6L102.1 195.0L103.1 192.7M104.2 200.6L102.7 200.8L100.2 201.3L98.7 202.1M98.7 202.1L98.5 200.5L97.9 199.3L97.0 197.3M101.2 195.6L99.7 196.9L97.0 197.3M93.6 204.7L95.2 203.8L96.6 203.2L98.3 203.2M130.4 193.5L128.9 190.6M128.9 190.6L126.7 192.7M130.4 193.5L127.8 193.5L126.8 193.3M126.8 193.3L126.7 192.7M91.1 213.3L89.5 215.5L88.5 216.3M94.4 213.6L94.4 215.4L95.8 216.4L95.8 218.4M88.5 216.3L89.2 217.3L90.5 219.5L91.4 221.1M95.8 218.4L94.5 219.0L92.9 220.3L91.7 221.2M91.4 221.1L91.7 221.2M96.6 211.2L95.2 209.5L94.3 207.1L92.9 206.1M96.6 211.2L95.1 212.9L94.4 213.6M89.5 210.6L91.1 213.3M95.8 218.4L98.6 219.2M102.5 215.4L104.2 216.6L105.9 216.8M102.5 215.4L101.4 217.3L99.1 218.7L98.6 219.2M106.5 219.1L105.9 216.8M96.6 211.2L98.0 210.9M102.5 215.4L101.6 212.8M98.0 210.9L99.7 211.4L101.6 212.8M98.3 203.2L99.9 205.9M98.0 210.9L99.1 209.1L99.3 207.6L99.9 205.9M113.7 203.2L112.0 203.3L111.4 205.7M112.0 200.4L112.8 202.3L113.7 203.2M105.0 200.8L105.8 202.6L105.7 204.8L105.9 205.7M99.9 205.9L102.2 206.1L103.6 206.3L105.1 206.7M105.1 209.0L105.1 206.7M105.9 205.7L105.1 206.7M122.4 229.3L121.7 228.2M122.4 229.3L124.5 228.8L125.8 230.0L126.4 230.6L128.7 230.7M127.9 224.2L129.2 224.7M129.2 224.7L130.5 227.1M124.6 225.7L122.5 227.2L121.7 228.2M127.9 224.2L125.8 225.2L124.6 225.7M131.5 208.7L133.1 207.9L134.9 207.5L136.0 206.6L137.7 206.5M137.5 204.9L137.7 206.5M137.5 204.9L135.3 204.5L134.8 201.2L133.5 201.2M133.5 201.2L131.3 201.4M131.3 201.4L129.6 203.1M144.6 205.9L142.3 206.9L141.0 206.6L138.6 207.3M138.6 207.3L137.7 206.5M140.2 197.9L139.9 197.7M135.3 197.9L134.1 199.0L133.5 201.2M171.4 260.7L169.5 260.2L168.2 260.5L167.0 260.1L164.4 260.0L163.0 259.7M165.0 250.8L164.2 253.4L163.9 255.0L162.9 256.1L162.2 257.9M163.0 259.7L162.2 257.9M148.6 267.5L149.0 265.7M139.8 267.3L140.9 266.3L143.1 263.8M143.1 263.8L145.4 264.4L146.3 264.4L149.0 265.7M149.0 265.7L150.3 265.2L151.8 262.7M184.1 231.5L185.2 230.3L187.6 229.4L188.4 228.2M188.4 228.2L186.5 226.4L186.5 225.3L185.4 224.1L184.9 223.1L183.9 221.3M107.1 118.7L109.4 120.0L111.3 120.0M107.1 118.7L107.3 117.6L107.6 115.0M107.6 115.0L108.1 114.7M108.1 114.7L109.6 114.9L111.4 115.3M111.3 120.0L112.5 118.0L112.2 116.8M112.2 116.8L111.4 115.3M104.4 114.5L106.5 114.0L107.6 115.0M104.4 114.5L102.5 116.5M104.6 120.5L107.1 118.7M110.0 109.0L111.5 110.6L112.8 112.8M111.3 120.0L111.4 120.4M104.5 120.9L106.5 122.2L108.5 123.3L109.2 124.4M111.4 120.4L110.2 121.7L109.2 124.4M134.4 113.0L135.2 111.0L134.8 109.2M134.4 113.0L132.4 113.8L130.7 115.0M128.1 111.3L129.0 112.8L130.1 114.7M130.7 115.0L130.1 114.7M122.5 126.0L123.9 126.8M125.7 126.0L125.6 124.3L127.0 123.1L127.2 121.4M122.5 126.0L121.6 124.6L121.2 122.5M121.2 122.5L122.4 122.5L125.2 121.6L126.7 121.0M128.3 121.4L130.0 119.4L131.7 118.4M128.3 121.4L127.2 121.4M131.7 118.4L131.9 116.9L130.7 115.0M130.1 114.7L128.3 116.3L127.0 116.6L125.4 117.5M126.7 121.0L125.8 120.4L125.4 117.5M122.1 113.3L122.1 113.3M122.1 113.3L122.8 111.5L121.6 110.0M121.6 110.0L120.1 109.3L118.6 107.7M115.7 112.1L115.9 109.4M115.9 109.4L117.0 108.4L118.6 107.7M123.4 116.2L125.4 117.5M128.1 111.3L125.8 112.1L124.0 112.3L122.1 113.3M123.4 116.2L122.1 113.3M125.7 105.3L124.8 106.5L124.0 107.9L121.6 110.0M118.6 105.1L118.6 107.7M119.4 104.4L118.6 105.1M112.8 112.8L115.7 112.1M166.6 122.3L166.8 120.3M166.8 120.3L166.8 120.2M173.9 125.4L174.5 123.6L173.4 121.5L173.5 119.3M169.9 126.7L168.5 125.8L168.4 124.1L166.6 122.3M169.2 80.3L168.4 81.6L166.9 83.2L166.0 83.8M162.4 80.1L162.9 81.7L165.1 83.8M165.1 83.8L166.0 83.8M174.1 83.2L173.5 85.2M173.5 85.2L172.3 86.8L169.6 87.9M166.0 83.8L167.6 85.4L168.7 86.9L169.6 87.9M134.4 119.5L135.3 118.1L137.0 116.6L137.6 115.7M139.4 121.5L140.8 119.6L141.1 118.0M141.1 118.0L139.2 116.8L137.6 115.7M134.4 113.0L136.4 114.7L137.5 115.5M134.4 119.5L131.7 118.4M137.5 115.5L137.6 115.7M144.0 130.7L142.2 131.2M142.8 124.3L141.5 125.9L140.6 126.5L139.1 128.5M142.8 124.3L144.2 124.1M139.1 128.5L140.4 129.8L142.2 131.2M144.2 124.1L146.3 125.4M136.9 104.5L138.7 105.3L140.2 105.4L142.2 106.1M145.8 98.8L146.9 100.3L147.0 102.5M129.7 128.0L129.8 130.6M129.7 128.0L130.4 126.5L131.6 125.1M131.6 125.1L132.9 124.9L135.4 124.4M129.9 130.6L129.8 130.6M129.9 130.6L132.6 130.7L134.1 130.4L135.5 130.6M135.4 124.4L137.1 126.3L137.5 128.3M135.5 130.6L137.5 128.3M126.6 131.9L128.2 131.5L129.8 130.6M124.0 130.5L126.6 131.9M124.0 130.5L123.6 129.4L123.9 126.8M125.7 126.0L127.1 126.6L129.7 128.0M128.3 121.4L129.6 122.0L130.3 123.5L131.6 125.1M142.8 124.3L141.9 122.9L139.4 121.5M139.1 128.5L137.5 128.3M141.6 140.0L142.6 140.2L144.8 139.6L146.7 139.2M141.6 134.0L140.5 135.2M69.1 163.1L71.6 162.3L72.3 161.8L73.9 160.9L75.2 160.5L76.5 160.5L78.2 159.1L80.0 159.5L81.1 158.7L83.1 158.5L84.4 156.7L86.2 156.7L87.6 156.1L89.4 155.5M69.1 163.1L70.8 163.1L71.9 163.6L74.2 163.5M89.4 155.5L92.0 157.4M92.0 157.4L91.4 158.9L91.0 160.7M74.2 163.5L76.8 163.7L77.1 162.7L79.9 162.2L80.3 162.8L82.0 161.9L84.1 161.9L85.3 161.8L88.5 161.1L88.5 160.6L91.0 160.7M92.6 140.8L93.7 138.5M88.4 135.6L90.1 135.2L92.3 136.3L93.4 137.1M83.6 138.1L86.0 137.4L87.5 137.6L88.4 135.6M93.4 137.1L93.7 138.5M95.6 129.8L95.0 131.1L93.7 132.8M92.5 128.0L91.9 129.9L89.6 130.6M90.0 132.1L89.6 130.6M91.0 125.0L92.5 126.1L92.5 128.0M101.6 126.4L100.3 127.9L100.1 129.0L99.7 130.9M99.7 130.9L97.3 131.0L95.6 129.8M100.2 132.1L99.7 130.9M100.2 132.1L98.6 133.4L98.1 134.9M94.5 135.4L95.9 134.6L98.1 134.9M94.5 135.4L93.7 132.8M85.6 128.3L88.0 129.9L89.6 130.6M94.5 135.4L93.4 137.1M88.4 135.6L89.8 133.9L90.0 132.1M101.1 98.1L102.1 95.7L103.4 94.7M105.6 100.9L105.8 99.4L106.5 97.5L107.5 96.4M107.5 96.4L105.9 94.5M98.3 91.5L100.1 91.5M103.4 94.7L102.1 93.2L100.1 91.5M109.4 102.2L109.2 104.2L109.7 106.7M109.4 102.2L110.6 100.4L112.8 100.1M113.6 100.3L112.8 100.1M112.4 107.1L110.5 107.6M110.5 107.6L109.7 106.7M104.1 105.5L103.9 104.2M104.1 105.5L106.2 107.1L107.7 106.4L109.7 106.7M110.5 96.7L107.5 96.4M117.1 98.5L118.7 99.7M117.1 98.5L115.0 100.2L113.6 100.3M115.9 109.4L114.4 109.0L112.4 107.1M110.0 109.0L110.5 107.6M99.5 113.0L99.2 111.3L96.7 109.6M99.5 113.0L102.4 112.2L103.2 110.9M102.8 107.9L100.2 107.6L98.3 107.6L96.9 107.4M96.9 107.4L96.7 109.6M99.1 115.3L99.5 113.0M93.8 112.8L95.0 111.7L96.7 109.6M104.4 114.5L103.6 112.8L103.2 110.9M96.8 107.2L96.9 107.4M104.1 105.5L102.8 107.9M116.0 74.7L117.7 73.3L118.4 71.0L119.2 70.2M116.0 74.7L116.7 75.8L119.9 76.4L121.4 77.2M121.8 77.0L121.4 77.2M121.8 77.0L122.6 75.4L122.8 73.6M122.8 73.6L122.0 71.4M122.0 71.4L119.2 70.2M113.5 72.5L115.2 74.8M113.5 72.5L113.4 71.1L114.5 68.9L115.3 67.6L115.5 65.5L116.5 63.9M115.2 74.8L116.0 74.7M116.5 63.9L117.4 65.3L118.0 67.6L118.9 67.2L119.2 70.2M125.8 78.2L123.6 78.2L121.8 77.0M128.3 72.5L126.2 73.7L124.6 73.0L122.8 73.6M115.2 0.0L115.6 2.1L115.0 2.9L114.9 4.6L114.9 6.8L115.5 8.5L115.0 8.7L115.6 11.3L116.2 13.3L114.5 14.5L114.9 16.5L114.8 18.1L115.1 19.7L114.4 21.5L114.8 22.3L115.0 24.7L114.8 26.2L114.7 27.9L114.4 29.4L114.3 31.5L114.4 33.7L114.7 34.3L114.7 36.4L114.2 38.6L114.5 38.9L114.9 41.1L114.9 41.9L114.4 44.5M114.4 44.5L114.5 45.8L114.6 47.5L115.1 48.6L115.9 50.4L115.2 52.5L115.3 54.2L115.4 55.6L115.2 57.2L116.0 59.4L115.9 61.9L116.8 61.8L116.5 63.9M107.1 86.7L106.8 84.1L106.3 83.2M107.1 86.7L105.9 86.9L104.2 88.6M103.8 88.5L104.2 88.6M103.8 88.5L103.8 87.2L101.7 84.7L101.1 84.4M101.1 84.4L103.1 83.5L105.1 82.4M105.1 82.4L106.3 83.2M100.1 91.5L101.2 90.3L103.4 89.6L103.8 88.5M106.6 92.4L105.9 94.5M106.6 92.4L105.7 90.3L104.2 88.6M98.9 83.9L101.1 84.4M104.9 79.0L104.9 79.8L105.1 82.4M103.5 77.9L104.9 79.0M109.9 82.1L107.6 81.7L106.3 83.2M109.9 82.1L108.7 79.8L108.7 77.8M108.7 77.8L107.5 78.8L104.9 79.0M108.4 74.7L106.3 73.6M108.4 74.7L110.4 73.6L111.1 71.9M106.3 73.6L106.6 70.5M106.6 70.5L109.3 69.2M109.3 69.2L110.8 71.0L111.1 71.9M104.2 74.4L106.3 73.6M109.1 77.3L108.4 74.7M109.1 77.3L108.7 77.8M113.7 77.1L115.2 74.8M113.5 72.5L111.1 71.9M113.7 77.1L110.8 76.9L109.1 77.3M102.5 68.4L104.9 69.3L106.6 70.5M114.4 44.5L114.5 46.6L114.0 47.5L113.5 49.6L112.8 51.3L113.1 53.0L112.1 54.8L112.2 55.5L111.7 57.4L111.9 59.6L110.2 60.9L110.9 62.4L109.3 64.6L109.7 65.8L109.3 67.8L109.3 69.2M173.0 133.6L171.5 131.6L171.0 130.7L168.9 129.0M173.0 133.9L171.4 135.6L170.1 136.4L169.0 137.7M165.3 133.8L167.0 136.4L168.1 137.7M177.2 126.7L177.2 128.4M177.2 128.4L176.3 129.6L174.2 131.0L174.2 132.2L173.0 133.6M173.9 125.4L175.9 125.4L177.2 126.7M169.9 126.7L168.9 129.0M165.3 140.6L166.4 139.7L168.1 137.7M160.9 136.1L160.2 138.8M160.9 136.1L162.6 134.9L164.5 135.2L165.3 133.8M172.8 144.7L173.4 142.5M173.4 142.5L172.7 141.3L170.3 139.9L170.9 139.5L169.0 137.7M176.0 135.8L176.2 138.4L176.5 140.4M176.0 135.8L178.0 134.9L180.2 133.6M180.2 133.6L182.7 134.3M173.4 142.5L175.2 141.0L176.5 140.4M173.0 133.9L174.1 134.4L176.0 135.8M177.2 128.4L177.7 130.4L178.5 132.6L180.2 133.6M186.9 132.8L185.4 134.0L182.7 134.3M180.6 124.9L178.8 124.9L177.2 126.7M169.8 172.3L169.6 174.0L169.4 175.4L167.8 176.8M174.1 173.7L173.5 176.0L173.9 177.7L174.2 179.1L174.2 181.6M174.2 181.6L172.4 182.2M163.2 181.3L163.5 178.5M167.8 176.8L165.5 177.5L163.5 178.5M172.4 182.2L170.5 184.0M163.2 181.3L161.8 183.1L160.7 183.8L160.2 185.0M164.5 189.4L162.9 187.9L160.9 186.1L160.2 185.0M164.5 189.4L165.2 188.4L167.8 187.8L169.8 187.0M169.8 187.0L170.5 184.0M175.2 165.7L177.5 164.8L178.0 164.1L180.4 164.0M175.2 165.7L176.2 167.2L176.2 169.2L177.4 170.8M180.4 164.0L180.9 166.1L182.9 166.3L183.8 167.7M183.8 167.7L182.8 169.4M174.2 165.2L175.2 165.7M174.2 165.2L174.5 163.1L174.5 162.1L174.4 159.8M180.6 160.5L180.1 162.1L180.4 164.0M176.2 172.9L177.4 170.8M176.2 172.9L178.0 174.9L178.8 175.8L180.5 176.7M180.5 176.7L181.9 175.1L183.8 174.2M183.8 174.2L183.2 172.8L181.9 171.8L182.8 169.4M185.3 167.3L183.8 167.7M189.6 176.2L188.8 176.5M188.8 176.5L187.7 175.6L185.6 173.9L183.8 174.2M183.0 91.8L185.0 90.0L187.0 89.4M187.0 89.4L186.9 86.5M180.7 85.7L182.4 86.7L184.4 86.0L185.7 85.4M185.7 85.4L186.9 86.5M176.3 91.4L177.4 93.1L178.0 95.7M182.6 95.3L182.9 93.0L183.0 91.8M191.5 84.3L189.9 85.6L189.2 85.6L186.9 86.5M178.9 82.5L180.3 84.7L180.7 85.7M185.2 80.2L185.0 82.5L185.6 83.3L185.7 85.4M156.6 83.2L157.9 85.6M154.4 91.7L154.8 89.6L155.9 88.8L157.7 87.2L157.9 85.6M165.1 83.8L163.3 84.3L163.0 85.5L161.5 87.2M157.9 85.6L159.7 86.1L161.5 87.2M140.6 247.4L143.7 246.4M140.6 247.4L139.8 246.0L137.8 244.8M137.8 244.8L139.7 243.0L139.7 241.3L141.2 239.8M143.7 246.4L144.7 244.3L145.3 242.9M145.3 242.9L144.0 240.6L143.9 239.5M141.2 239.8L143.9 239.5M152.3 236.1L152.7 238.3L152.8 239.4L152.5 241.3L152.0 242.5L152.1 244.7M152.3 236.1L150.8 236.7L148.3 237.6L146.0 238.2L144.6 238.4M144.6 238.4L143.9 239.5M138.6 207.3L138.9 208.9M146.3 209.4L145.9 211.8L144.2 213.0M144.2 213.0L142.6 211.7L142.1 210.9L140.3 210.4L138.9 208.9M137.8 244.8L136.9 244.7M140.2 249.3L140.6 247.4M140.2 249.3L137.8 251.3L136.4 251.4L135.0 252.6M135.0 252.6L133.7 250.8L132.4 250.7M136.9 244.7L135.7 245.4L134.4 247.1L132.9 248.0M132.9 248.0L132.4 250.7M135.4 253.7L135.0 252.6M133.0 259.8L133.6 258.3L135.3 256.0L135.6 255.2L135.4 253.7M128.4 256.3L130.1 254.5L130.3 254.1L130.5 252.3L131.9 250.9M131.9 250.9L132.4 250.7M125.4 250.2L126.1 249.6M131.9 250.9L129.5 250.9L128.0 250.4L126.1 249.6M157.0 247.2L154.9 246.4L152.7 245.7M157.0 247.2L156.4 248.4L155.9 250.7L155.6 252.8L154.3 253.7L154.7 256.0M152.7 245.7L151.3 246.0L150.7 248.6L149.3 249.1M149.3 249.1L149.8 250.6L150.8 252.7L150.7 254.0M150.7 254.0L152.7 254.8L154.7 256.0M154.7 256.0L154.7 256.0M160.7 246.1L158.3 246.7L157.0 247.2M152.1 244.7L152.7 245.7M154.1 234.8L153.0 235.2M162.2 257.9L160.7 257.6L159.1 256.0L157.0 257.3L154.7 256.0M146.7 249.4L149.3 249.1M143.7 246.4L144.6 247.9L146.7 249.4M151.7 262.1L151.8 262.7M151.7 262.1L152.4 260.8L153.5 259.5L154.9 257.6L154.7 256.0M102.8 250.5L101.8 252.4L99.5 253.9L98.9 255.2M106.9 254.5L106.0 255.9L103.4 257.1L102.4 257.8M102.4 257.8L100.4 257.4M98.9 255.2L100.4 257.4M108.1 254.6L106.9 254.5M97.9 262.2L99.4 260.5L99.9 259.3L100.4 257.4M95.9 254.4L98.9 255.2M124.9 191.0L125.9 191.5M125.9 191.5L126.0 192.1M126.0 192.1L124.6 192.8M124.9 191.0L124.3 191.3M124.6 192.8L124.3 191.3M143.9 195.8L144.7 193.6M146.6 192.8L144.7 193.6M150.3 187.2L147.6 187.4M146.6 192.8L146.7 190.6L147.3 189.3L147.6 187.4M103.2 238.7L101.7 239.6L99.5 239.3M103.0 232.6L100.5 231.3M100.5 231.3L98.7 232.1M92.2 240.4L94.1 241.6L96.1 242.5L97.2 243.6M97.2 243.6L98.4 242.3L98.7 241.2L99.5 239.3M92.9 229.9L94.2 230.8L97.6 231.1L98.7 232.1M104.8 245.9L103.3 248.1L102.7 250.0M104.6 245.5L102.5 244.9L101.1 245.5L100.3 243.9L97.4 244.2M102.7 250.0L100.7 249.3L98.8 249.0L97.1 248.5M97.1 248.5L96.4 246.3M96.4 246.3L97.4 244.2M105.7 246.1L104.8 245.9M104.5 239.8L104.1 241.0L103.9 243.4L104.6 245.5M104.5 239.8L107.6 238.1L108.8 238.8M102.8 250.5L102.7 250.0M104.5 239.8L103.2 238.7M97.2 243.6L97.4 244.2M95.0 253.1L96.6 251.2L96.0 250.1L97.1 248.5M92.0 246.6L94.6 246.6L96.4 246.3M126.3 194.4L126.8 193.3M126.3 194.4L126.4 194.6M130.4 193.5L131.1 194.3M131.1 194.3L129.7 196.1M126.4 194.6L128.4 195.7L129.7 196.1M131.1 194.3L132.7 194.1M129.4 197.6L129.6 199.6L131.3 201.4M129.4 197.6L129.6 196.5M129.7 196.1L129.6 196.5M126.4 194.6L125.5 196.5M129.6 196.5L127.2 195.8L125.5 196.6M125.5 196.5L125.5 196.6M126.3 194.4L124.4 193.9M124.3 196.2L125.5 196.5M124.3 196.2L123.6 195.5M123.6 195.5L124.4 193.9M126.7 192.7L126.0 192.1M124.3 193.4L124.6 192.8M124.3 193.4L124.3 193.8M124.3 193.8L124.4 193.9M105.9 216.8L108.4 214.8M105.1 209.0L107.3 210.5L108.8 212.0M108.4 214.8L108.8 212.0M141.2 239.8L140.0 238.5L137.6 238.0L136.2 236.7M136.9 244.7L136.1 243.1L134.9 241.1L133.8 240.3M133.8 240.3L135.6 239.7L136.2 236.7M135.3 230.3L134.1 228.9L133.4 227.5M130.5 227.1L133.4 227.5M128.7 230.7L129.2 233.8M135.3 230.3L134.8 232.3L134.3 234.3M134.3 234.3L132.9 233.6L130.7 233.2L129.2 233.8M122.1 234.5L122.0 233.1L122.8 231.2L122.4 229.3M122.4 234.9L122.1 234.5M122.4 234.9L123.9 235.8L125.6 235.2L127.6 236.0M127.6 236.0L129.2 233.8M129.4 197.6L127.3 198.3M125.5 196.6L125.6 197.1M127.3 198.3L125.6 197.1M143.1 260.8L145.6 259.6L146.6 259.0M143.1 260.8L142.0 260.3L140.2 258.8M140.2 258.8L140.1 256.3M140.1 256.3L141.0 255.3L143.2 253.7M146.6 259.0L146.2 257.9L146.4 255.4M146.4 255.4L144.3 253.7M143.1 263.8L143.1 260.8M151.7 262.1L150.1 260.4L148.3 259.7L146.6 259.0M136.1 261.8L137.4 261.2L140.0 259.5L140.2 258.8M135.4 253.7L136.9 254.7L138.2 255.0L140.1 256.3M140.2 249.3L141.6 250.1L143.3 252.7L143.2 253.7M150.7 254.0L148.8 254.3L146.4 255.4M146.7 249.4L145.8 250.8L145.1 251.9L144.3 253.7M185.3 218.1L187.2 217.9L190.0 218.4M182.6 213.1L183.4 210.8M183.9 221.3L184.9 219.6L185.3 218.1M188.4 228.2L190.0 228.1M176.3 214.8L177.3 215.2L179.0 214.4L181.9 213.5L182.6 213.1M180.4 201.2L180.6 202.8L180.3 204.4L180.3 207.4M180.3 207.4L182.1 208.6L183.4 210.8M111.4 120.4L113.1 121.1L114.7 121.6M114.7 121.6L116.1 121.3L117.7 120.3M123.4 116.2L122.0 117.9L121.0 119.8L119.5 121.3M117.7 120.3L119.5 121.3M121.2 122.5L119.7 121.6M119.7 121.6L119.5 121.3M172.0 108.3L170.8 110.6L169.6 110.6L168.6 111.7L167.4 113.0M172.0 108.3L173.3 109.4L174.7 110.4L175.3 112.2L176.9 113.1M167.4 113.0L168.8 114.6L170.3 114.8L171.8 115.5L173.4 116.2L175.0 117.1M176.9 113.1L176.8 114.6L176.2 116.6M176.2 116.6L175.0 117.1M180.5 110.6L177.6 111.7L176.9 113.1M172.0 107.7L172.0 108.3M166.8 120.2L166.7 117.9L167.4 116.9L166.7 115.0L166.9 113.2M173.5 119.3L175.0 117.1M164.1 112.2L164.3 112.1M166.9 113.2L164.3 112.1M154.4 91.7L155.7 94.4M162.2 89.9L161.5 87.2M162.2 89.9L160.6 92.4L159.3 93.6M159.3 93.6L157.3 93.8L155.7 94.4M169.5 88.9L167.8 90.3L165.9 91.2M169.5 88.9L170.8 90.3L172.2 92.2M165.9 91.2L164.8 92.4L166.4 94.6L166.3 96.4M171.1 97.4L169.5 96.8L167.8 97.0L166.3 96.4M169.6 87.9L169.5 88.9M162.2 89.9L163.9 90.6L165.9 91.2M176.3 91.4L174.4 91.9L172.2 92.2M164.3 97.6L164.1 96.2L161.9 95.9L160.1 94.4L159.3 93.6M164.3 97.6L166.3 96.4M172.4 99.0L171.1 97.4M164.3 97.6L163.8 98.9M141.1 118.0L141.8 117.9M144.2 124.1L144.6 122.1L144.5 119.6M141.8 117.9L144.5 119.6M144.1 113.8L143.7 115.6L141.8 117.9M137.5 115.5L139.1 113.8L139.9 112.2M144.1 113.8L143.9 112.7M143.9 112.7L142.7 111.2L139.9 112.2M135.2 108.7L136.7 108.5L138.8 109.7M142.2 106.1L142.4 106.9M142.4 106.9L140.1 108.4L138.8 109.7M138.8 109.7L139.9 112.2M119.6 137.1L122.1 135.6M119.6 137.1L119.5 138.9L119.6 141.1M125.6 140.7L125.4 141.3M125.6 140.7L125.8 139.1L124.0 136.5L123.4 136.0M125.4 141.3L123.2 142.2L120.7 142.0M119.6 141.1L120.7 142.0M126.3 134.1L127.3 135.7L128.5 137.1M126.3 134.1L123.5 134.9L123.4 136.0M126.3 134.1L126.6 131.9M124.0 130.5L121.5 131.7M121.5 131.7L122.2 133.5L122.1 135.6M135.8 135.1L136.5 135.8M135.8 135.1L134.1 135.0L131.5 135.5M136.5 135.8L136.6 137.7L136.1 139.4M131.5 135.5L130.5 136.8M130.5 136.8L131.0 137.7L132.3 140.3M136.1 139.4L134.2 140.6M134.2 140.6L132.3 140.3M140.5 135.2L137.3 135.9L136.5 135.8M142.2 131.2L141.6 134.0M129.9 130.6L131.0 132.0L130.8 134.1L131.5 135.5M140.1 141.9L141.6 140.0M140.1 141.9L138.4 141.2L136.1 139.4M128.5 137.1L130.5 136.8M128.2 143.9L129.6 142.6L131.9 141.6L132.3 140.3M127.6 143.8L128.2 143.9M127.6 143.8L126.7 141.9L125.4 141.3M131.8 146.8L133.0 145.5L134.7 144.6M131.8 146.8L130.0 145.4L128.2 143.9M134.7 144.6L133.9 142.3L134.2 140.6M115.7 134.3L117.2 135.3L119.6 137.1M113.6 136.7L115.7 134.3M113.6 136.7L114.1 139.7M119.6 141.1L117.0 141.4M117.0 141.4L116.2 140.1L114.1 139.7M74.2 163.5L75.5 164.2L77.9 164.5L79.2 164.0L80.6 164.5L82.5 165.5L83.9 165.6L85.9 165.5L86.7 166.5L89.0 167.4L90.6 167.1L92.8 167.5M92.8 167.5L93.0 167.2M95.3 175.3L95.7 174.8M95.3 175.3L93.7 174.6L92.1 174.3L89.9 174.0M95.7 174.8L96.0 173.0M96.0 173.0L95.4 171.7L94.4 169.8L92.8 168.1M92.8 168.1L90.8 170.0L90.4 171.5L89.7 173.7M89.7 173.7L89.9 174.0M100.7 179.5L100.6 177.9L102.1 176.4M96.8 180.3L98.4 179.9L100.7 179.5M102.1 176.4L100.9 175.4L97.7 175.3L97.2 175.0L95.7 174.8M89.5 179.7L89.9 177.6L90.4 175.5L89.9 174.0M92.8 167.5L92.8 168.1M51.1 164.4L52.9 163.8L54.8 164.4L56.8 163.6L57.6 163.8L59.2 163.9L61.5 164.8L62.6 163.0L64.2 163.6L65.8 163.1L67.0 163.7L69.1 163.1M51.1 164.4L52.4 164.7L54.2 165.9L56.2 165.6L57.3 166.7L58.9 166.1L60.4 167.2L62.1 166.7L64.5 166.9L65.2 167.8L67.2 168.3L68.6 168.3L71.4 169.6L72.8 169.6L73.0 169.8L75.3 171.1L76.5 171.0L78.8 171.8L79.7 171.4L81.8 172.3L82.8 172.6L85.1 172.5L86.5 173.3L88.1 173.2L89.7 173.7M0.0 164.0L1.8 164.3L3.4 164.8L4.4 163.7L6.2 164.1L7.6 163.8L11.0 164.9L11.2 163.5L12.9 164.4L14.9 163.9L16.7 164.3L18.3 164.2L19.5 165.0L21.7 163.5L23.3 163.8L24.7 163.0L26.9 164.4L28.3 164.5L29.4 164.3L31.0 164.0L32.6 164.5L34.5 165.1L36.1 163.7L38.5 164.6L40.1 163.9L41.2 164.3L42.3 164.4L44.6 163.9L45.9 164.0L47.2 164.6L49.8 164.4L51.1 164.4M152.3 183.5L153.7 183.8L155.9 184.7L157.2 185.4L159.2 185.2M159.2 185.2L159.5 185.0M150.3 187.2L152.1 186.2L152.3 183.5M160.2 185.0L159.5 185.0M164.5 189.4L164.4 190.0M158.8 194.9L160.7 193.6L162.0 192.4L162.5 191.0L164.4 190.0M116.7 175.0L118.0 173.4L119.8 173.2L120.8 171.1M116.7 175.0L118.0 176.5L119.8 177.5M120.8 171.1L122.7 173.4M169.8 172.3L169.7 172.2M174.1 173.7L176.2 172.9M174.2 165.2L170.6 166.9L169.8 166.6M169.8 166.6L170.3 168.2L170.3 169.8L169.7 172.2M169.8 157.0L168.3 156.6L167.1 156.2L164.9 155.7M160.2 150.3L158.1 151.6L156.6 152.2M154.8 148.0L155.4 150.4L155.7 151.8M156.6 152.2L155.7 151.8M169.8 187.0L171.5 189.3M171.5 189.3L171.1 190.0L171.6 192.6L171.6 194.1M167.1 195.0L168.8 194.3L171.6 194.1M130.7 85.3L129.2 84.6L127.5 85.8L126.0 86.3M126.3 81.5L125.0 82.8L123.6 84.2M123.6 84.2L126.0 86.3M117.1 98.5L117.5 95.5M110.5 96.7L111.6 95.0L112.8 93.1M117.5 95.5L115.6 94.5L114.7 94.1L112.8 93.1M113.7 77.1L114.4 80.1M109.9 82.1L110.8 82.5M114.4 80.1L112.9 81.3L110.8 82.5M127.9 224.2L126.7 222.8L126.2 221.4M124.6 225.7L123.3 223.1M126.2 221.4L124.3 221.3L123.3 223.1M128.3 217.0L127.8 215.9L127.1 213.8M128.3 217.0L130.6 217.5M134.1 214.4L133.1 212.6L131.9 211.8L130.8 209.9M127.1 213.8L127.0 211.9L128.1 210.7M130.8 209.9L128.1 210.7M126.2 221.4L126.0 220.8M127.0 218.2L126.0 220.8M129.2 224.7L130.4 222.6L132.0 220.9M132.0 220.9L131.0 218.8L130.6 217.5M127.0 218.2L128.3 217.0M132.0 220.9L134.1 220.4L136.7 221.3M136.7 221.3L136.8 220.2L137.3 217.4L137.2 215.9M136.2 214.8L137.2 215.9M136.2 214.8L134.1 214.4M138.9 208.9L138.1 210.9L137.0 212.2L137.5 213.5L136.2 214.8M131.5 208.7L130.8 209.9M143.2 216.0L144.3 213.3M143.2 216.0L143.7 217.4M143.7 217.4L145.0 219.2L147.6 219.3L148.5 219.7M144.3 213.3L145.9 213.3L148.2 214.3L148.5 214.6L151.1 214.9L152.6 214.9M152.6 214.9L151.7 216.4L150.6 217.6L150.2 219.1M150.2 219.1L148.5 219.7M144.2 213.0L144.3 213.3M137.2 215.9L139.4 216.1L141.9 216.0L143.2 216.0M153.4 214.3L152.6 214.9M160.1 218.3L159.1 217.7L157.2 216.5L155.2 216.1L153.4 214.3M157.6 225.4L156.5 225.5L154.3 224.6M154.3 224.6L153.2 223.4L151.5 221.8L151.9 220.3L150.2 219.1M130.3 244.4L127.5 243.4L126.1 244.1M130.3 244.4L132.2 242.5L132.6 240.5M127.9 237.8L128.8 238.4L130.9 240.9L132.6 240.5M127.9 237.8L127.0 239.2L126.3 240.0L124.9 242.8M124.9 242.8L126.1 244.1M132.9 248.0L131.2 246.6L130.3 244.4M126.1 249.6L125.6 247.2L126.0 246.2L126.1 244.1M134.3 234.3L136.2 236.6M136.2 236.6L136.2 236.7M127.6 236.0L127.9 237.8M122.6 242.7L124.9 242.8M122.1 234.5L121.1 234.4L118.8 234.6L116.2 234.6M121.7 228.2L121.1 227.9M116.2 234.6L115.8 235.0M108.8 238.8L108.9 237.1L109.3 234.9L109.9 233.9M115.8 235.0L113.4 234.2L111.5 233.6L109.9 233.9M100.5 190.9L99.7 188.5L100.8 187.2L99.7 186.0M100.5 190.9L98.0 191.1L96.9 191.0L95.1 191.8L94.1 191.9M94.2 190.4L94.0 191.3M94.2 190.4L95.9 188.1L96.7 187.0L98.6 185.8M98.6 185.8L99.7 186.0M94.0 191.3L94.1 191.9M94.1 191.9L94.1 191.9M105.2 187.4L104.6 189.7L103.9 190.6L103.0 192.6M103.0 192.6L100.5 190.9M103.1 192.7L103.0 192.6M88.2 188.1L89.7 189.7L91.0 190.2L92.6 190.0L94.0 191.3M92.9 184.1L93.0 185.9L94.0 187.5L94.2 190.4M95.8 183.1L96.7 185.2L98.6 185.8M102.0 182.1L100.7 179.5M90.7 194.0L92.9 192.7L94.1 191.9M112.9 188.9L113.0 188.9M112.5 195.7L113.2 195.5M113.0 188.9L113.9 189.4M115.5 191.4L113.9 189.4M115.5 191.4L115.1 193.1M115.1 193.1L113.2 195.5M116.5 201.8L116.7 200.0M114.5 203.2L116.5 201.8M113.7 203.2L114.5 203.2M113.2 195.5L115.2 196.0M115.2 196.0L115.8 196.5M116.7 200.0L116.2 198.2L115.8 196.5M126.4 203.3L127.6 203.3L129.6 203.1M124.0 204.5L126.4 203.3M128.1 210.7L126.3 210.0L125.6 208.5L123.6 207.7M123.2 207.2L123.6 207.7M111.3 218.3L112.5 219.5M111.3 218.3L109.0 219.5M110.6 220.7L109.0 219.5M110.6 220.7L112.5 220.3M112.5 220.3L112.5 219.5M110.5 222.4L108.6 222.4L107.1 223.6L105.9 224.1M110.5 222.4L110.6 220.7M106.5 219.1L109.0 219.5M110.5 222.4L112.0 223.2M112.0 223.2L112.9 221.9M112.9 221.9L112.6 220.4M112.6 220.4L112.5 220.3M111.3 218.3L111.4 217.5M113.8 217.4L113.8 218.1M113.8 217.4L113.3 216.8M113.8 218.1L112.5 219.5M111.4 217.5L113.3 216.8M108.4 214.8L109.5 215.1M111.4 217.5L109.5 215.1M111.9 209.2L110.5 210.8M111.9 209.2L114.5 210.5M110.5 210.8L112.5 213.3M114.5 210.5L113.1 213.0M113.1 213.0L112.5 213.3M111.4 205.7L110.9 207.3L111.9 209.2M108.8 212.0L110.5 210.8M115.9 211.8L114.5 213.9M115.9 210.8L115.9 211.8M114.5 213.9L113.1 213.0M115.9 210.8L114.5 210.5M154.3 224.6L152.8 225.5L150.3 226.1L148.6 226.9M148.5 219.7L146.9 220.9L147.0 223.1L146.2 224.9M146.2 224.9L148.6 226.9M153.0 235.2L152.2 233.3L150.1 233.0L148.7 230.8M148.7 230.8L146.6 231.2L145.7 232.0L142.6 232.2M148.7 230.8L148.8 229.0L148.6 226.9M136.2 236.6L137.6 235.4L139.0 233.7L140.8 232.9L141.8 231.6M141.8 231.6L142.6 232.2M141.5 222.1L143.1 223.5L144.1 223.4L145.9 224.9M141.5 222.1L139.5 222.7L138.1 223.1M138.1 223.1L138.0 223.4M138.0 223.4L138.8 224.6L139.0 225.8L140.2 228.0L140.9 229.8M145.9 224.9L145.1 226.1L143.4 227.4L142.8 228.4L141.1 230.0M140.9 229.8L141.1 230.0M146.2 224.9L145.9 224.9M143.7 217.4L142.8 218.7L142.9 220.2L141.5 222.1M136.7 221.3L138.1 223.1M133.4 227.5L135.7 226.0L137.1 224.7L138.0 223.4M135.3 230.3L137.4 230.1L139.3 230.0L140.9 229.8M141.8 231.6L141.1 230.0M126.0 198.8L127.2 198.5M126.0 198.8L125.5 199.8M127.2 198.5L126.7 199.8L126.3 202.3M125.5 199.8L126.3 202.3M125.2 198.3L125.1 198.0M125.6 197.1L125.1 198.0M127.3 198.3L127.2 198.5M125.2 198.3L126.0 198.8M124.8 199.2L125.2 198.3M124.8 199.2L125.5 199.8M126.4 203.3L126.3 202.3M114.7 121.6L114.2 123.6L114.2 126.2M119.7 121.6L119.2 123.3L117.5 125.4L117.0 126.7M114.2 126.2L117.0 126.7M122.5 126.0L120.7 127.2L118.5 128.4M117.0 126.7L118.5 128.4M121.5 131.7L118.7 130.8M118.5 128.4L118.7 130.8M115.7 134.3L115.8 133.4M115.8 133.4L117.6 132.4L118.7 130.8M158.7 102.9L158.8 101.4M158.7 102.9L156.9 103.2L154.7 104.7L153.3 105.5M151.5 102.2L152.0 104.3L153.3 105.5M151.5 102.2L152.4 99.8L152.5 98.8L153.1 97.4M153.1 97.4L154.8 96.5M163.8 98.9L160.9 99.7L161.1 100.7L158.8 101.4M155.7 94.4L154.8 96.5M146.8 96.3L147.9 96.2L150.6 96.8L151.9 97.8L153.1 97.4M147.2 102.6L149.0 102.8L151.5 102.2M147.0 102.5L147.2 102.6M144.0 130.7L145.2 131.5L147.6 131.9L148.7 132.5M148.8 125.1L150.2 127.1M146.3 125.4L148.8 125.1M150.2 127.1L149.8 128.9L149.0 131.2L148.7 132.5M153.6 139.0L151.2 139.8L148.9 140.6L147.3 139.9M153.6 139.0L152.2 136.6L152.4 136.2L151.3 134.7L150.3 133.2M147.3 139.9L146.7 139.2M150.3 133.2L148.8 132.7M148.7 132.5L148.8 132.7M144.5 119.6L146.8 119.6L148.1 118.8M144.1 113.8L146.6 114.4L148.3 116.1M148.1 118.8L148.3 116.1M144.1 112.2L143.3 110.8L143.1 109.4L142.8 107.3M142.8 107.3L144.1 107.5L146.0 107.3L147.8 107.2M147.8 107.2L149.7 108.9M149.3 109.8L149.7 108.9M143.9 112.7L144.1 112.2M142.4 106.9L142.8 107.3M150.2 114.4L148.3 116.1M150.2 114.4L150.6 111.4L149.3 109.8M147.2 102.6L147.4 104.8L147.8 107.2M125.6 147.1L122.7 147.8M125.6 147.1L126.7 145.3L127.6 143.8M120.7 142.0L120.5 143.9M122.7 147.8L121.7 145.3L120.5 143.9M127.4 151.8L127.7 149.6L126.9 147.8L125.6 147.1M127.4 151.8L126.7 154.0L124.7 153.6M122.7 147.8L121.3 149.8M121.3 149.8L121.5 151.8L122.1 152.9M124.7 153.6L122.1 152.9M134.7 144.6L136.9 144.9L138.9 145.4M140.1 141.9L140.1 143.0M140.1 143.0L138.9 145.4M120.5 143.9L119.1 145.1L117.5 146.2L116.6 148.0M117.0 141.4L115.9 143.1L115.4 144.2L114.5 146.2M114.5 146.2L116.6 148.0M121.3 149.8L119.5 149.8L118.2 148.5L116.7 148.3M116.6 148.0L116.7 148.3M100.2 146.0L97.9 145.5M100.2 146.0L102.5 144.5L103.2 143.2M103.2 143.2L102.2 142.4L100.8 139.5M97.1 143.7L97.4 141.8L98.4 139.9M97.1 143.7L97.9 145.5M99.2 139.4L98.4 139.9M93.4 142.7L94.9 143.1L97.1 143.7M98.1 134.9L98.5 137.2L99.2 139.4M103.1 137.4L100.8 139.5M92.0 157.4L93.9 156.9M96.7 161.6L96.5 158.9M93.9 156.9L95.4 158.2L96.5 158.9M102.0 182.1L103.9 182.6L105.9 182.5M105.2 187.4L106.8 186.6M105.9 182.5L106.2 184.5L106.8 186.6M108.9 188.1L107.8 186.9M106.8 186.6L107.8 186.9M110.3 175.8L113.0 176.1M110.3 175.8L109.1 177.7L107.3 178.9M111.1 182.3L109.3 181.2L107.3 180.7M113.0 176.1L113.7 178.9M107.3 178.9L107.3 180.7M108.0 172.8L109.4 174.8L110.3 175.8M110.9 168.6L113.7 168.6M114.3 174.9L114.6 172.4L114.3 171.1L114.1 169.0M114.3 174.9L113.0 176.1M114.1 169.0L113.7 168.6M102.5 175.2L103.9 174.4L105.7 173.4L108.0 172.8M102.2 176.3L102.5 175.2M102.2 176.3L102.9 176.7L105.3 177.8L107.3 178.9M111.4 183.5L111.1 182.3M111.4 183.5L110.2 184.7L108.8 185.6L107.8 186.9M105.9 182.5L107.3 180.7M113.8 185.1L115.1 183.2M113.8 185.1L111.4 183.5M114.7 179.8L114.7 181.6L115.1 183.2M114.7 179.8L113.7 178.9M114.3 174.9L116.7 175.0M119.8 179.2L118.0 180.5M119.8 179.2L119.8 177.5M114.7 179.8L116.9 179.9L118.0 180.5M102.1 176.4L102.2 176.3M113.0 188.9L113.8 186.3M113.8 185.1L113.9 185.3M113.9 185.3L113.8 186.3M134.6 175.3L134.3 173.7L135.3 171.2L135.1 169.8M134.6 175.3L134.7 175.4M137.6 167.9L135.1 169.8M141.1 170.4L139.4 169.6L137.6 167.9M141.3 170.9L140.3 173.0L138.5 173.7L137.3 175.7M134.7 175.4L137.3 175.7M163.5 178.5L161.6 176.2M148.7 169.5L150.3 170.8L152.0 170.2L153.5 171.4M148.7 169.5L147.5 170.6L146.1 171.6L144.6 173.8M144.6 173.8L144.8 174.6M161.6 176.2L161.3 173.9L162.0 171.5M164.9 155.7L164.3 157.5L164.1 160.4M164.1 160.4L166.4 160.6L167.6 163.1M169.8 166.6L167.9 165.2M167.6 163.1L167.9 165.2M134.3 175.3L133.1 174.6L131.3 173.7L129.9 172.3L128.5 172.0M128.5 172.0L128.6 171.7M134.6 175.3L134.3 175.3M135.1 169.8L132.2 169.1M128.6 171.7L130.5 170.9L132.2 169.1M137.6 167.9L137.9 165.7L137.1 164.6M135.5 163.7L136.6 164.0M137.1 164.6L136.6 164.0M132.2 169.1L131.8 166.1M180.3 207.4L177.6 207.0L176.9 206.7L174.7 206.2L173.8 206.6M180.4 201.2L179.2 199.9M178.8 199.8L179.2 199.9M178.8 199.8L177.5 199.9L175.7 200.8M175.7 200.8L175.0 203.4L174.3 204.7L173.8 206.6M176.9 193.8L177.2 196.3L177.9 197.7L178.8 199.8M172.2 194.5L174.0 194.2L176.9 193.8M175.7 200.8L174.3 200.3L172.9 199.2M158.8 194.9L160.5 197.5M167.1 195.0L165.9 197.4M160.5 197.5L160.0 199.3L158.8 199.8L159.2 202.3M159.2 202.3L160.0 204.0L160.6 205.0L161.8 206.8M122.1 84.2L121.2 85.4M122.1 84.2L121.2 82.9L120.3 80.3M121.2 85.4L118.9 84.9L117.3 85.9L115.9 85.8M120.3 80.3L117.8 80.8L116.1 81.4M121.4 77.2L121.1 79.1L120.3 80.3M123.6 84.2L122.1 84.2M114.4 80.1L116.1 81.4M126.7 91.8L124.6 93.4L123.7 95.2M125.5 90.2L123.4 89.8L121.3 89.2M123.7 95.2L122.6 94.5L119.5 93.7M129.7 92.0L126.7 91.8M126.0 86.3L125.3 88.0L125.5 90.2M123.9 96.3L123.7 95.2M121.2 85.4L120.9 87.1L121.3 89.2M117.5 95.5L119.5 93.7M115.6 88.9L115.2 89.4L113.4 90.5L112.8 93.0M115.6 88.9L115.0 86.8M115.0 86.8L113.1 87.0L111.8 86.2M109.8 90.7L110.0 87.5M109.8 90.7L111.6 91.0L112.8 93.0M112.8 93.1L112.8 93.0M115.9 85.8L115.0 86.8M110.8 82.5L111.8 83.6L111.8 86.2M106.6 92.4L108.7 90.5L109.8 90.7M107.1 86.7L110.0 87.5M127.0 218.2L124.6 217.4M126.0 220.8L123.9 220.5M123.9 220.5L123.3 218.1M124.6 217.4L123.3 218.1M107.7 230.9L108.3 231.2M107.7 230.9L106.9 229.7L106.5 227.8L106.2 226.5L106.2 224.6M108.3 231.2L110.0 230.5L112.1 229.2L113.0 228.4M106.2 224.6L107.9 225.2L110.6 225.4L112.4 225.6M113.0 228.4L113.4 226.7M112.4 225.6L113.4 226.7M103.0 232.6L104.6 232.6L106.8 231.6L107.7 230.9M109.9 233.9L108.3 231.2M105.9 224.1L106.2 224.6M112.0 223.2L112.4 225.6M120.9 227.8L121.1 227.9M114.6 226.0L117.2 225.7M114.6 226.0L113.4 226.7M117.2 225.7L119.2 226.5L120.9 227.8M114.6 226.0L114.3 224.3L114.9 222.3M114.9 222.3L112.9 221.9M116.4 191.3L117.0 191.7M116.4 191.3L115.5 191.4M117.0 191.7L117.6 193.0M115.1 193.1L117.3 193.6M117.6 193.0L117.3 193.6M115.2 196.0L117.4 194.3M117.3 193.6L117.4 194.3M122.7 197.9L122.6 199.6L121.5 201.6M122.7 197.9L123.7 198.0M123.7 198.0L123.7 198.0M123.7 198.0L124.0 199.3M124.0 199.3L122.9 199.9L122.1 202.2M122.1 202.2L121.5 201.6M121.1 197.6L122.0 197.2M122.0 197.2L122.7 197.9M121.1 200.5L121.4 201.6M121.1 200.5L121.1 197.6M121.4 201.6L121.5 201.6M122.2 195.7L122.0 197.2M123.6 195.5L122.2 195.7M124.3 196.2L123.7 198.0M125.1 198.0L123.7 198.0M124.8 199.2L124.0 199.3M124.0 204.5L122.1 202.2M123.2 207.2L121.0 206.3L119.1 208.3M114.5 203.2L115.8 204.3L116.2 205.7L118.4 207.2L119.1 208.3M118.5 201.4L121.4 201.6M116.5 201.8L118.5 201.4M124.3 193.8L121.8 193.5M122.2 195.7L121.5 195.1M121.5 195.1L121.8 193.5M121.9 192.7L121.7 193.3M121.9 192.7L122.0 192.6M123.2 192.4L124.3 193.4M122.0 192.6L123.2 192.4M121.7 193.3L121.8 193.5M121.1 200.5L119.7 198.0M121.1 197.6L120.0 197.4M120.0 197.4L119.7 198.0M118.5 201.4L118.8 199.3L119.3 198.2M119.7 198.0L119.3 198.2M116.7 200.0L118.1 197.9M119.3 198.2L118.1 197.9M115.8 196.5L117.8 196.6M118.1 197.9L117.8 196.6M115.9 210.8L117.9 209.6M119.1 208.3L119.1 208.4M117.9 209.6L119.1 208.4M113.8 218.1L115.0 219.3M112.6 220.4L114.3 220.1M115.0 219.3L114.3 220.1M114.9 222.3L115.5 221.9M114.3 220.1L115.5 221.9M112.2 214.3L114.0 215.0M112.2 214.3L111.3 214.9M111.3 214.9L113.3 216.7M114.0 215.0L113.3 216.7M112.5 213.3L112.2 214.3M114.5 213.9L114.5 214.7M114.5 214.7L114.0 215.0M109.5 215.1L111.3 214.9M113.3 216.8L113.3 216.7M113.2 131.1L113.7 128.8L112.8 126.9M113.2 131.1L111.9 130.9L109.7 132.8L107.8 132.6M112.8 126.9L110.4 126.3L109.5 126.0M114.2 126.2L112.8 126.9M115.8 133.4L114.6 132.1L113.2 131.1M108.9 136.1L110.5 135.5L113.6 136.7M108.9 136.1L108.3 134.1L107.8 132.6M109.2 124.4L109.5 126.0M107.4 138.6L104.3 137.5L103.1 137.4M108.9 136.1L107.4 138.6M150.2 127.1L151.7 127.9L153.9 127.9M150.3 133.2L152.0 133.0L154.5 131.6M153.9 127.9L154.3 130.1L154.5 131.6M154.4 139.0L155.2 137.3L154.8 135.9L155.7 134.9L156.3 132.8M160.9 136.1L159.3 134.2L158.3 132.4M158.3 132.4L156.3 132.8M154.1 139.1L153.6 139.0M156.3 132.8L154.5 131.6M150.2 114.4L152.5 114.7L154.7 115.5M153.4 120.8L153.7 119.6L153.7 118.6L154.7 115.5M166.8 120.3L165.5 119.1L164.0 119.6L162.2 119.4L160.5 118.6M164.1 112.2L162.6 113.7L161.6 115.3L160.0 116.5M160.0 116.5L160.5 118.6M160.0 116.5L157.8 116.2L155.5 114.9M155.5 114.9L154.7 115.5M115.3 156.3L116.4 154.3L115.6 152.8M115.3 156.3L116.3 158.0L118.2 158.9M115.6 152.8L117.5 152.2L119.2 153.3L120.3 154.2M120.3 154.2L120.8 156.1L119.5 158.3M118.2 158.9L119.5 158.3M122.1 152.9L120.3 154.2M124.7 153.6L125.2 155.2L125.6 157.4M125.6 157.4L124.2 158.1L121.7 159.4M121.7 159.4L119.5 158.3M127.4 151.8L129.8 151.9M131.8 146.8L132.0 148.0M129.8 151.9L130.6 149.8L132.0 148.0M139.0 146.1L137.7 147.9L136.4 149.9M132.0 148.0L133.4 148.8L135.3 149.4L136.4 149.9M135.4 156.7L134.4 155.5L133.8 153.8M130.0 157.2L132.4 158.9M130.0 157.2L131.5 155.4L130.6 152.9M130.6 152.9L132.3 153.5L133.8 153.8M126.8 158.3L129.2 158.2L130.0 157.2M125.6 157.4L126.8 158.3M129.8 151.9L130.6 152.9M136.6 150.7L134.5 152.5L133.8 153.8M136.4 149.9L136.6 150.7M114.8 162.7L114.1 165.2L114.8 166.0L113.7 168.6M114.8 162.7L115.9 162.4M115.9 162.4L118.0 163.5L117.7 164.0L120.2 165.1M114.1 169.0L115.5 168.8L117.2 169.0L119.4 169.0M120.2 165.1L119.6 166.3L119.4 169.0M120.8 171.1L120.7 170.6M120.7 170.6L119.4 169.0M107.6 140.9L106.3 141.5L105.3 143.4M107.6 140.9L109.0 141.5L111.1 142.5M105.3 143.4L106.9 145.1L106.7 147.2M111.1 142.5L111.9 143.9L112.1 145.7M112.1 145.7L110.1 147.4L109.6 148.0M107.4 138.6L107.6 140.9M103.2 143.2L105.3 143.4M114.1 139.7L112.7 140.7L111.1 142.5M114.5 146.2L112.1 145.7M94.9 153.3L97.9 152.5M94.9 153.3L92.8 152.3L90.9 150.7M90.8 150.6L90.9 150.7M33.5 150.8L34.9 150.2L37.0 151.2L38.4 151.2L40.5 150.2L41.5 150.4L43.2 151.4L45.1 150.5L45.8 150.5L47.8 150.9L49.4 149.9L51.7 150.4L53.4 151.1L54.8 150.8L57.3 151.2L58.0 150.7L60.6 150.3L61.0 150.5L63.1 149.8L65.1 150.2L66.5 150.9L68.8 151.0L69.9 150.6L71.4 151.0L73.2 150.4L74.5 151.0L75.3 150.5L79.2 150.1L79.0 150.2L80.4 150.2L82.3 150.0L84.0 150.6L86.5 151.1L86.9 150.8L89.8 150.1L90.8 150.6M97.9 152.5L98.4 152.7M98.4 152.7L98.0 154.7L99.4 156.3M100.2 146.0L100.9 148.2L102.3 150.3M98.4 152.7L100.6 152.5L102.3 150.3M106.7 147.2L105.0 148.7L104.7 149.6L102.9 150.5M102.9 150.5L102.3 150.3M100.7 163.9L102.7 164.3L103.8 164.2L105.9 165.4M100.7 163.9L100.7 166.8L99.4 168.0M99.4 168.0L100.8 170.4M104.6 169.1L103.0 169.3L101.1 170.5M104.6 169.1L104.5 167.2L105.9 165.4M100.8 170.4L101.1 170.5M100.2 162.9L100.7 163.9M96.7 161.6L98.2 162.8L100.2 162.9M93.0 167.2L94.7 167.0L96.2 167.4L98.0 167.2L99.4 168.0M110.9 168.6L109.7 167.0L108.1 165.4L107.3 164.6M107.3 164.6L105.9 165.4M114.8 162.7L113.8 162.2M113.8 162.2L111.8 162.0L111.2 163.2L108.5 163.1L107.6 163.9M115.9 162.4L116.8 159.7L118.2 158.9M115.3 156.3L113.5 157.6L111.8 158.1M113.8 162.2L113.8 161.0L111.8 158.1M115.1 183.2L116.0 183.1M118.0 180.5L117.9 181.7M116.0 183.1L117.9 181.7M134.3 175.3L132.6 177.0L131.9 177.2L129.6 178.6M128.1 172.5L127.9 175.3L127.4 177.2M128.5 172.0L128.1 172.5M129.6 178.6L127.4 177.2M122.7 173.4L124.4 172.7L127.0 172.4L128.1 172.5M125.5 178.1L127.4 177.2M130.0 180.3L129.6 178.6M134.7 175.4L134.7 176.6L135.1 179.5L134.1 180.9M130.0 180.3L132.0 181.1L133.4 181.3M133.4 181.3L134.1 180.9M137.3 175.7L138.8 176.9L139.5 178.3M134.1 180.9L136.8 181.9M139.5 178.3L138.3 179.8L136.8 181.9M149.1 160.2L147.6 160.8L145.9 161.4L143.6 161.9M150.8 162.7L149.4 164.1L148.2 165.4L146.9 166.7M143.4 163.5L144.8 165.1L145.0 166.3M145.0 166.3L146.9 166.7M137.1 164.6L139.3 164.2L140.8 164.3L143.4 163.5M138.6 158.7L140.5 158.9L142.4 160.2L143.4 161.4M143.4 161.4L143.6 161.9M141.1 170.4L142.6 168.9L143.9 167.9L145.0 166.3M141.3 170.9L143.2 172.4L144.6 173.8M148.7 169.5L146.8 168.2L146.9 166.7M154.8 161.3L155.3 159.7L155.5 157.6M154.8 161.3L157.0 161.2L157.7 163.0L159.9 163.1M159.9 163.1L160.6 161.7M160.6 161.7L159.7 159.7L158.6 158.5L159.0 156.8M155.5 157.6L157.6 156.4M159.0 156.8L157.6 156.4M164.1 160.4L161.8 161.1L160.6 161.7M156.6 152.2L157.4 153.9L157.6 156.4M154.5 167.7L156.7 166.8L158.6 165.5L160.1 164.8M153.8 171.1L155.1 171.0L156.9 171.2L159.3 171.3L160.6 172.0L161.8 171.3M161.8 171.3L162.7 169.2L162.3 167.0M160.1 164.8L162.3 167.0M153.5 171.4L153.8 171.1M152.2 163.1L150.8 162.7M152.2 163.1L152.8 164.7L153.1 166.7L154.5 167.7M159.9 163.1L160.1 164.8M152.2 163.1L154.8 161.3M162.0 171.5L161.8 171.3M167.9 165.2L165.9 165.5L164.1 166.2L162.3 167.0M171.3 210.5L169.5 210.9L167.9 211.8L165.8 211.8M173.2 207.0L172.2 206.3L170.6 204.3L169.5 202.5L168.3 201.3M162.4 207.0L163.3 206.0L165.2 203.5L166.4 202.5L167.6 201.2M168.3 201.3L167.6 201.2M176.3 214.8L174.4 213.6L174.0 212.8L173.2 212.0L171.3 210.5M173.8 206.6L173.2 207.0M164.5 216.4L165.4 214.0L165.8 211.8M172.9 199.2L170.4 200.2L169.5 200.9L168.3 201.3M161.8 206.8L162.4 207.0M165.9 197.4L167.2 199.0L167.6 201.2M172.2 194.5L171.6 194.1M117.5 223.9L119.3 221.9M117.2 225.7L117.5 223.9M120.9 227.8L120.8 225.6L121.0 224.5M119.3 221.9L121.0 224.5M123.3 223.1L122.4 222.7M121.0 224.5L122.4 222.7M123.9 220.5L123.6 220.6M123.6 220.6L122.3 222.2M122.4 222.7L122.3 222.2M120.5 195.2L119.6 194.0M120.5 195.2L119.6 196.2M118.2 194.8L119.2 194.0M118.2 194.8L118.5 196.1M119.2 194.0L119.6 194.0M118.5 196.1L119.6 196.2M121.5 195.1L120.5 195.2M120.3 193.0L121.7 193.3M120.3 193.0L119.6 194.0M120.0 197.4L119.6 196.2M118.5 192.9L117.6 193.0M118.5 192.9L119.2 194.0M117.4 194.3L118.2 194.8M117.8 196.6L118.5 196.1M114.5 214.7L115.5 215.3M115.9 211.8L117.2 214.3M117.2 214.3L115.5 215.3M122.0 214.2L122.1 214.3M122.0 214.2L122.1 212.4M122.1 214.3L123.9 213.2M123.9 213.2L123.0 211.3M123.0 211.3L122.1 212.4M120.4 212.2L120.3 213.1M120.4 212.2L122.1 212.4M121.6 214.2L120.3 213.1M121.6 214.2L122.0 214.2M123.6 207.7L123.2 209.6L123.0 211.3M127.1 213.8L126.1 214.0M126.1 214.0L123.9 213.2M120.4 212.2L120.0 209.8L119.1 208.4M122.3 214.9L124.2 215.3M122.3 214.9L122.0 216.2M122.0 216.2L122.3 216.5M122.3 216.5L124.1 216.5M124.1 216.5L124.2 215.3M126.1 214.0L124.2 215.3M122.1 214.3L122.3 214.9M124.6 217.4L124.1 216.5M122.8 218.0L123.3 218.1M122.8 218.0L122.3 216.5M115.5 221.9L115.6 221.9M115.0 219.3L116.1 219.2M116.1 219.2L115.6 221.9M117.5 223.9L116.0 221.9M116.0 221.9L115.6 221.9M156.1 126.2L157.1 128.0L159.6 128.6L160.1 129.8M156.1 126.2L156.8 123.1M158.7 122.4L160.7 123.4L162.4 124.8M162.4 124.8L162.3 127.0L162.4 129.1M162.4 129.1L160.1 129.8M153.9 127.9L156.1 126.2M158.3 132.4L160.1 129.8M153.4 120.8L154.9 121.5L156.8 123.1M160.5 118.6L159.1 120.3L158.7 122.4M155.5 157.6L153.6 157.0L151.2 155.9M149.1 160.2L149.1 158.1M149.1 158.1L151.2 155.9M142.2 151.6L143.3 153.6L144.6 154.3M142.2 151.6L139.2 152.7M139.2 152.7L138.3 154.8L138.2 157.2M144.6 154.3L144.7 155.8M138.4 157.5L140.0 157.4L143.2 156.4L144.4 156.1M138.4 157.5L138.2 157.2M136.6 150.7L138.1 151.9L139.2 152.7M139.0 146.1L140.1 146.8L141.3 147.9L142.7 149.2M135.4 156.7L138.2 157.2M143.4 161.4L143.6 159.9L144.0 157.9L144.4 156.1M138.6 158.7L138.4 157.5M132.4 160.8L132.4 158.9M135.5 163.7L132.6 162.6L132.4 160.8M149.1 158.1L147.9 156.7L145.8 156.1L144.7 155.8M145.4 147.7L146.3 148.9L148.0 150.4L149.0 151.1M145.4 147.7L146.1 145.0M151.2 145.6L151.9 147.2M151.9 147.2L150.7 149.9L149.5 151.2M149.5 151.2L149.0 151.1M142.7 149.2L145.4 147.7M144.6 154.3L146.3 153.6L148.0 152.3L149.0 151.1M140.1 143.0L142.1 143.2L144.6 143.8L146.1 145.0M154.3 141.5L152.9 142.7L152.6 144.4L151.2 145.6M154.8 148.0L151.9 147.2M122.6 162.8L121.8 164.3M122.6 162.8L124.9 162.2L127.2 162.0M121.8 164.3L123.1 165.3L125.3 166.6L126.2 167.8M128.4 164.9L127.8 166.0L126.5 167.8M128.4 164.9L128.2 163.1M126.5 167.8L126.2 167.8M127.2 162.0L128.2 163.1M121.7 159.4L122.4 160.8L122.6 162.8M120.2 165.1L121.8 164.3M128.6 171.7L127.6 170.1L126.5 167.8M131.8 166.1L130.0 165.9L128.4 164.9M132.4 160.8L130.2 162.1L128.2 163.1M100.2 162.9L101.1 161.5L102.5 159.8M107.6 163.9L107.1 162.5L106.7 160.4M102.5 159.8L104.1 159.3L106.7 160.4M99.4 156.3L101.7 157.2M102.5 159.8L101.7 157.2M102.9 150.5L104.1 151.8L105.5 154.0M101.7 157.2L102.9 155.9L103.8 154.1L105.5 154.0M123.2 192.4L123.3 191.3M122.0 192.6L122.6 191.2M122.6 191.2L123.3 191.3M124.3 191.3L123.7 191.1M123.7 191.1L123.3 191.3M116.0 183.1L117.4 184.2M117.9 181.7L118.4 182.8M117.4 184.2L118.4 182.8M130.0 180.3L129.3 181.5M133.4 181.3L133.2 183.9L132.5 185.3M129.9 184.8L132.5 185.3M129.9 184.8L129.5 184.4M129.5 184.4L129.3 181.5M129.3 181.5L126.7 181.6M125.5 178.1L124.8 179.5M124.8 179.5L126.7 181.6M119.8 179.2L121.2 180.2M124.8 179.5L124.4 179.8M124.4 179.8L121.9 180.4M121.2 180.2L121.9 180.4M144.8 174.6L144.1 176.6L143.2 178.2M147.3 181.1L145.7 180.3L144.0 179.4L143.2 178.2M147.6 187.4L145.4 185.7M147.3 181.1L147.2 182.5L146.4 184.0L145.4 185.7M143.2 178.2L141.7 178.9M186.0 181.0L186.6 182.3L187.6 183.3L188.5 186.1L189.4 187.1M189.4 187.1L190.3 187.1M179.2 199.9L180.4 198.3L182.7 197.4L182.6 195.2L184.5 194.1M190.3 199.0L188.9 197.8L187.2 197.1L186.1 195.7L184.5 194.1M176.9 193.8L178.7 191.3M184.5 194.1L184.2 193.3M178.7 191.3L180.7 192.2L181.8 192.5L184.2 193.3M171.5 189.3L173.4 189.3L174.4 188.3L176.1 189.4L178.0 189.0M178.7 191.3L178.0 189.0M189.4 187.1L186.8 188.5M184.2 193.3L184.3 191.6L186.0 190.4L186.8 188.5M123.6 220.6L123.1 220.4M122.8 218.0L121.7 218.7M123.1 220.4L121.7 218.7M117.3 214.4L117.8 215.1M117.3 214.4L118.7 213.2M117.8 215.1L119.6 214.9M119.6 214.9L119.6 213.5M118.7 213.2L119.6 213.5M117.9 209.6L118.3 211.2L118.7 213.2M117.2 214.3L117.3 214.4M120.3 213.1L119.6 213.5M119.9 215.1L121.6 214.2M119.9 215.1L119.6 214.9M116.1 219.2L116.5 218.9M113.8 217.4L115.2 217.1M115.2 217.1L116.5 218.9M115.5 215.3L115.7 216.3M115.2 217.1L115.7 216.3M116.7 221.6L116.0 221.9M116.7 221.6L117.3 219.9M117.3 219.9L116.9 218.9M116.5 218.9L116.9 218.9M111.4 157.9L109.7 158.2L108.0 158.1M106.0 154.1L106.9 153.4L108.1 152.3L110.3 151.6M111.8 158.1L111.4 157.9M106.7 160.4L108.0 158.1M105.5 154.0L106.0 154.1M109.6 148.0L109.8 148.8L110.3 151.6M117.0 191.7L119.0 191.4M118.5 192.9L119.3 191.8M119.0 191.4L119.3 191.8M116.4 191.3L117.5 190.1M117.5 190.1L118.9 191.1M119.0 191.4L118.9 191.1M121.9 192.7L120.8 191.0M120.3 193.0L119.7 191.8M119.7 191.8L120.8 191.0M119.7 191.8L119.3 191.8M117.4 184.3L118.7 185.3M117.4 184.3L116.4 185.2M118.7 185.3L117.5 186.1M116.4 185.2L117.2 186.0M117.2 186.0L117.5 186.1M113.9 185.3L116.4 185.2M117.4 184.2L117.4 184.3M113.8 186.3L116.6 187.2M116.6 187.2L117.2 186.0M141.8 188.2L144.1 186.3L145.4 185.7M141.8 188.2L140.0 187.8L138.4 186.5M145.4 185.7L144.6 185.4L143.4 183.3L141.6 182.5M141.6 182.5L140.3 183.6L137.9 184.9M138.4 186.5L137.8 185.1M136.4 189.4L137.1 187.7L138.4 186.5M141.7 178.9L141.7 180.7L141.6 182.5M136.8 181.9L137.9 184.9M132.7 188.5L132.7 185.5M132.7 185.5L134.3 185.0L136.4 185.2L137.8 185.1M132.7 185.5L132.5 185.3M178.6 187.0L181.6 186.0M178.6 187.0L177.3 185.8L175.9 183.3L175.1 181.9M181.6 186.0L182.5 184.3L183.5 182.2L183.3 181.2M175.1 181.9L177.2 180.8L178.6 180.3L180.2 179.1M180.2 179.1L182.2 180.0L183.3 181.2M186.8 188.5L184.8 187.1L182.9 186.5L181.6 186.0M174.2 181.6L175.1 181.9M186.0 181.0L183.3 181.2M180.5 176.7L180.2 179.1M119.4 219.6L119.1 221.4M119.4 219.6L121.1 219.9M120.9 221.3L119.3 221.9M120.9 221.3L121.2 220.4M119.1 221.4L119.1 221.7M121.2 220.4L121.1 219.9M119.1 221.7L119.3 221.9M122.3 222.2L120.9 221.3M119.3 221.9L119.3 221.9M123.1 220.4L121.2 220.4M117.3 219.9L119.1 221.4M116.7 221.6L119.1 221.7M121.6 218.7L121.1 219.9M121.7 218.7L121.6 218.7M115.7 216.3L117.5 216.8M116.9 218.9L117.1 218.8M117.1 218.8L117.5 216.8M119.4 219.6L119.2 218.8M117.1 218.8L119.2 218.8M117.8 215.1L117.9 216.4M117.9 216.4L117.5 216.8M129.9 184.8L129.1 186.7L128.5 187.8M132.7 188.5L131.5 189.1L129.2 189.5M128.5 187.8L129.2 189.5M125.9 191.5L127.1 190.1M128.9 190.6L128.9 190.1M127.1 190.1L128.9 190.1M128.9 190.1L129.2 189.5M123.7 191.1L123.4 189.3M122.6 191.2L121.7 190.4M121.7 190.4L123.4 189.3M120.8 191.0L121.1 190.4M121.7 190.4L121.1 190.4M113.9 189.4L116.2 188.8M116.6 187.2L117.0 187.9M116.2 188.8L117.0 187.9M117.5 190.1L117.6 189.8M116.2 188.8L117.6 189.8M118.9 191.1L119.5 189.1M119.5 189.1L118.8 188.7M117.6 189.8L118.8 188.7M118.3 187.5L118.3 187.9M118.3 187.5L119.1 185.8M120.0 186.9L119.1 185.8M120.0 186.9L118.5 188.1M118.5 188.1L118.3 187.9M117.0 187.9L118.3 187.9M117.5 186.1L118.3 187.5M118.7 185.3L119.0 185.3M119.0 185.3L119.1 185.8M118.8 188.7L118.5 188.1M119.4 184.9L120.5 185.0M119.4 184.9L119.1 183.3M119.1 183.3L120.4 182.9M120.4 182.9L121.3 183.9M120.5 185.0L121.3 184.4M121.3 184.4L121.3 183.9M119.0 185.3L119.4 184.9M120.6 186.9L120.0 186.9M120.9 186.4L120.6 186.9M120.9 186.4L120.5 185.0M118.4 182.8L119.1 183.3M121.2 180.2L120.4 182.9M122.6 182.8L121.3 183.9M121.9 180.4L122.6 182.8M120.9 186.4L122.3 186.3M122.7 185.3L122.3 186.3M122.7 185.3L121.3 184.4M122.7 185.3L122.7 185.3M125.1 186.5L126.0 187.4M125.1 186.5L124.4 186.7M124.4 186.7L123.8 187.3M126.0 187.4L125.4 189.2M123.8 187.3L123.6 189.0M123.6 189.0L125.3 189.2M125.3 189.2L125.4 189.2M122.7 185.3L124.4 186.7M122.3 186.3L122.5 186.9M122.5 186.9L123.8 187.3M127.1 190.1L125.4 189.2M127.2 187.3L128.5 187.8M127.2 187.3L126.0 187.4M124.9 191.0L125.3 189.2M123.5 189.1L123.4 189.3M123.5 189.1L123.6 189.0M127.1 185.4L126.3 185.1M127.1 185.4L129.5 184.4M129.5 184.4L127.2 183.7M127.2 183.7L126.1 184.2M126.3 185.1L126.1 184.2M125.1 186.1L125.1 186.5M125.1 186.1L126.3 185.1M127.2 187.3L127.1 185.4M129.5 184.4L129.5 184.4M126.7 181.6L126.7 181.8M126.7 181.8L127.2 183.7M125.2 183.5L126.7 181.8M125.2 183.5L126.1 184.2M123.4 183.3L123.1 184.9M123.4 183.3L124.4 183.1M125.0 183.5L124.4 183.1M125.0 183.5L124.5 185.1M124.5 185.1L123.1 184.9M122.6 182.8L123.4 183.3M122.7 185.3L123.1 184.9M124.4 179.8L124.7 181.7L124.4 183.1M125.2 183.5L125.0 183.5M125.1 186.1L124.5 185.1M120.5 217.9L119.5 218.4M120.5 217.9L120.8 216.6M119.5 218.4L118.5 216.7M118.5 216.7L120.1 216.1M120.8 216.6L120.1 216.1M121.6 218.7L120.5 217.9M119.2 218.8L119.5 218.4M122.0 216.2L120.8 216.6M117.9 216.4L118.5 216.7M119.9 215.1L120.1 216.1M120.2 189.1L120.6 189.4M120.2 189.1L120.7 187.1M120.6 189.4L122.0 188.2M120.7 187.1L121.9 187.9M121.9 187.9L122.0 188.2M119.5 189.1L120.2 189.1M121.1 190.4L120.6 189.4M120.6 186.9L120.7 187.1M123.5 189.1L122.0 188.2M122.5 186.9L121.9 187.9M228.6 116.1L235.8 117.9L244.7 119.7L253.7 120.6L261.2 124.0M240.0 125.0L244.7 126.9L251.9 128.7L259.0 130.5L263.5 135.0L268.5 136.0M190.0 150.0L205.2 152.6L220.2 153.8L230.3 153.8L240.3 156.3L256.7 163.9L259.5 163.0M182.6 158.8L192.6 161.4L205.2 160.1L215.2 159.6L225.3 161.4L235.3 165.1L245.4 166.4L255.4 165.1M222.8 196.5L215.2 191.5L205.2 186.5L195.1 181.4L190.1 176.4L186.3 170.1L183.8 163.9L182.6 158.8M190.1 176.4L189.8 185.0L190.5 195.0L190.0 205.0M206.9 105.4L207.9 110.7L209.0 115.0L212.2 118.3L220.8 116.1L229.4 115.0L231.6 110.7L226.2 107.5M231.6 110.7L232.2 104.7M237.0 111.0L245.0 114.0L252.0 117.5" fill="none" stroke="#282828" stroke-width="0.55" stroke-linejoin="round"/>
<polygon points="133.5,80.0 140.0,77.0 147.0,74.5 152.0,72.5 150.8,79.0 148.5,84.8 145.0,89.5 142.6,95.3 138.5,97.5 136.0,93.0 136.5,88.0 134.0,84.0" fill="#f6f6f8" stroke="#282828" stroke-width="0.55"/>
<polygon points="153.2,72.8 156.5,72.3 159.4,74.5 157.5,77.0 155.0,76.5" fill="#222" fill-opacity="0.8"/>
<polygon points="119.7,182.9 124.0,184.0 125.0,189.3 127.2,193.6 125.0,197.9 120.8,199.0 116.5,196.8 117.5,191.5 118.6,186.0" fill="#222" fill-opacity="0.8"/>
<polygon points="110.3,219.5 113.0,218.8 116.0,218.3 119.5,218.6 120.5,220.0 118.0,222.0 114.0,222.9 111.0,222.0" fill="#222" fill-opacity="0.8"/>
<polygon points="114.4,204.6 116.0,204.2 117.6,205.3 116.5,206.9 114.8,206.5" fill="#222" fill-opacity="0.8"/>
<circle cx="124.8" cy="196.5" r="0.41" fill="#e0e0e0"/>
<circle cx="123.1" cy="185.6" r="0.59" fill="#e0e0e0"/>
<circle cx="119.6" cy="189.0" r="0.40" fill="#e0e0e0"/>
<circle cx="120.0" cy="197.5" r="0.50" fill="#e0e0e0"/>
<circle cx="121.1" cy="188.0" r="0.33" fill="#e0e0e0"/>
<circle cx="123.5" cy="197.0" r="0.33" fill="#e0e0e0"/>
<circle cx="124.3" cy="190.8" r="0.60" fill="#e0e0e0"/>
<circle cx="124.5" cy="188.9" r="0.32" fill="#e0e0e0"/>
<circle cx="124.5" cy="184.7" r="0.68" fill="#e0e0e0"/>
<circle cx="121.3" cy="196.5" r="0.35" fill="#e0e0e0"/>
<circle cx="122.9" cy="188.6" r="0.70" fill="#e0e0e0"/>
<circle cx="124.4" cy="191.8" r="0.49" fill="#e0e0e0"/>
<circle cx="124.2" cy="193.8" r="0.46" fill="#e0e0e0"/>
<circle cx="125.2" cy="189.3" r="0.59" fill="#e0e0e0"/>
</g>
<polygon points="156.5,72.3 158.8,72.0 159.5,73.7 160.8,74.7 161.9,75.2 162.5,75.9 164.3,78.0 166.0,77.1 167.2,77.9 168.2,78.4 168.9,79.3 170.6,80.2 171.5,81.1 173.0,81.8 173.7,83.4 175.0,83.4 175.8,84.4 177.0,85.3 179.2,85.6 179.6,86.7 180.6,86.8 182.3,87.6 184.0,88.4 185.0,89.0 185.1,89.6 187.2,89.0 189.1,90.6 190.1,90.4 191.7,91.3 193.0,91.9 194.5,93.3 194.9,94.5 195.7,94.4 197.0,96.9 196.6,98.2 198.4,96.8 198.9,100.1 201.2,101.3 201.5,101.2 202.5,102.8 203.3,102.6 204.4,102.3 207.1,103.7 207.1,103.8 209.3,103.0 209.7,105.8 212.3,104.5 213.5,105.4 214.7,105.0 216.3,105.5 215.8,106.5 219.3,107.0 219.7,107.8 220.7,107.0 222.3,107.5 224.2,106.6 225.8,106.7 226.4,106.0 228.4,106.8 228.8,105.1 230.5,105.3 231.1,103.8 233.6,104.4 235.8,104.0 236.6,103.5 237.1,104.4 238.6,104.6 241.9,107.2 242.4,107.5 243.3,108.3 244.0,109.9 244.9,109.5 245.3,110.7 247.1,111.4 247.4,112.1 250.1,114.4 250.5,113.7 251.4,114.3 253.3,116.4 255.7,115.1 255.8,116.5 257.0,117.2 259.1,118.7 260.2,117.7 259.7,116.7 262.5,118.8 264.8,118.4 264.7,117.1 266.0,118.8 267.5,119.3 266.7,119.9 264.8,122.2 264.9,123.5 262.8,123.1 260.3,123.5 261.5,124.8 263.1,126.4 262.8,126.5 265.1,128.5 265.6,129.5 267.6,128.4 268.3,132.9 268.5,134.6 268.2,136.1 268.7,136.7 268.0,138.1 268.4,138.7 268.8,141.1 269.0,144.2 268.1,144.1 269.3,143.6 271.2,146.2 269.2,145.6 267.4,145.7 266.1,147.9 264.8,147.7 264.1,147.6 263.1,151.0 263.3,152.4 262.3,152.9 261.9,154.1 261.6,155.9 260.9,157.1 260.7,158.9 260.0,160.0 259.6,160.5 259.2,161.8 259.1,163.6 258.3,165.1 257.4,166.0 257.2,167.0 255.7,167.8 254.8,169.0 253.4,170.4 252.5,171.4 252.5,172.7 251.7,172.9 251.1,174.1 250.1,175.4 249.4,176.5 248.0,177.3 246.4,178.2 244.5,179.1 244.1,180.0 242.5,181.3 242.5,180.9 240.9,182.5 239.3,183.7 238.7,184.3 237.4,184.5 236.5,186.0 235.5,186.5 234.7,188.2 232.9,188.5 232.3,189.7 231.2,190.3 230.9,191.4 228.7,191.8 228.0,193.9 226.9,193.8 226.1,194.5 225.7,195.1 223.7,196.1 222.7,196.6 221.3,196.4 220.4,197.2 218.4,197.3 216.7,198.3 216.1,198.8 214.8,199.2 213.0,199.3 211.7,200.1 210.5,200.2 209.3,201.3 207.7,201.1 206.6,202.5 204.8,202.2 203.5,203.2 202.2,203.2 200.1,203.9 200.1,203.9 199.0,205.0 196.8,205.4 195.8,205.8 193.7,205.2 193.7,204.7 191.5,204.7 191.2,205.5 189.8,206.3 187.3,206.9 187.2,207.9 186.2,208.2 184.5,209.7 183.7,209.6 182.9,211.1 182.1,212.7 181.7,214.0 182.0,214.9 180.9,216.1 179.7,217.0 179.4,219.3 178.7,220.4 178.0,221.7 176.9,222.7 176.1,223.5 175.5,224.7 174.4,225.4 174.2,226.9 173.4,229.0 173.3,230.1 173.1,232.6 173.3,232.4 173.0,234.1 172.2,235.8 172.3,236.6 170.6,236.1 169.9,237.9 168.9,238.7 166.9,239.8 165.3,242.1 164.7,243.0 164.0,244.4 164.8,245.7 163.9,247.1 163.7,248.4 163.8,249.4 163.4,251.3 163.9,252.3 162.6,253.8 161.9,255.7 161.8,257.1 161.6,258.5 160.7,259.9 159.3,260.3 158.6,261.2 156.5,261.7 157.1,262.6 155.1,263.2 154.3,264.5 154.2,266.0 153.1,267.6 153.2,268.8 152.3,270.7 151.1,272.0 149.8,271.6 148.2,272.1 147.3,271.1 145.5,270.7 144.4,270.6 143.7,269.7 142.7,269.2 141.7,268.5 140.1,267.3 139.5,265.2 139.2,265.0 138.6,263.6 138.0,262.0 137.1,260.5 136.3,260.0 136.1,257.9 134.8,256.7 134.7,255.5 134.0,255.4 131.7,255.6 131.3,255.1 129.4,254.4 128.4,254.7 127.0,254.3 125.2,254.4 124.3,254.5 122.9,253.4 120.6,253.0 120.4,251.8 118.6,251.2 117.4,252.2 116.0,252.4 114.3,253.4 112.9,254.1 112.2,253.9 110.4,254.2 109.0,254.4 108.3,252.4 106.8,251.2 106.6,249.8 107.1,248.1 107.9,246.9 107.2,245.6 106.0,244.2 105.7,242.3 106.4,241.4 108.6,240.1 109.4,238.9 111.7,238.5 112.9,238.0 113.0,236.4 114.0,235.1 114.3,233.7 114.1,232.7 113.5,230.6 113.6,229.4 113.6,228.4 114.5,227.0 114.3,225.0 112.9,222.9 111.6,222.1 110.3,221.5 111.5,219.5 113.4,218.8 114.8,218.8 116.0,218.0 117.0,217.1 118.6,217.1 120.0,215.5 122.1,214.4 121.9,212.3 122.9,212.2 123.7,210.8 123.9,209.7 125.1,207.9 125.0,206.4 126.3,205.1 126.0,202.8 125.5,201.5 126.9,201.1 126.9,199.2 128.5,199.0 126.0,198.5 124.8,197.8 123.0,197.2 121.0,196.6 120.0,196.3 118.1,194.7 116.5,195.7 115.4,196.7 114.3,197.9 113.8,200.0 112.2,200.6 111.4,200.0 110.0,199.0 109.1,198.8 106.8,197.4 106.0,197.0 104.7,195.7 104.2,194.9 102.5,193.6 100.9,192.9 100.4,192.1 99.3,190.4 97.9,190.4 96.6,190.7 95.0,189.8 94.2,188.5 93.2,187.5 92.3,185.9 91.1,184.7 91.4,183.3 91.7,182.8 91.7,180.7 92.1,179.3 92.3,178.0 92.2,175.8 92.9,174.7 93.2,172.9 93.5,171.2 93.5,170.2 94.8,168.6 94.5,167.0 95.0,165.9 94.9,164.4 95.5,163.4 96.0,162.0 95.4,159.9 95.3,159.6 94.3,157.3 93.6,156.1 93.3,154.9 92.0,153.9 92.1,151.9 92.3,151.0 92.9,148.9 93.2,147.6 94.2,147.2 95.0,145.8 96.2,144.5 97.5,144.4 98.8,143.6 99.1,142.7 99.5,141.1 100.7,140.1 102.2,139.1 101.2,135.8 102.9,135.8 104.5,134.3 104.5,133.4 105.2,131.6 105.9,130.4 107.1,128.5 107.8,127.4 108.9,126.3 109.8,124.5 111.0,123.7 111.5,122.7 112.8,121.5 113.6,120.6 114.7,118.6 116.8,117.3 115.8,116.4 117.7,115.6 118.9,115.0 120.2,113.3 120.7,112.6 121.3,111.7 122.6,109.7 122.1,108.7 122.6,106.7 122.2,105.7 122.2,104.4 121.6,102.8 121.3,101.1 120.5,100.1 119.7,98.8 119.3,97.9 118.7,95.9 117.6,94.6 116.7,93.9 117.7,91.9 118.4,90.8 120.0,89.6 120.7,88.9 122.5,88.4 123.2,87.1 124.6,87.4 125.8,86.5 126.3,86.6 129.1,85.8 129.8,86.2 131.4,84.4 132.2,84.3 133.5,83.8 134.7,82.5 136.4,82.8 137.5,82.6 138.7,82.2 140.3,81.5 140.9,81.4 143.0,80.5 144.3,80.2 144.7,80.2 146.2,79.0 146.9,78.6 148.1,77.5 148.9,76.1 150.9,75.6 151.5,74.7 152.8,73.9 154.2,72.9 154.8,72.8" fill="none" stroke="#303030" stroke-width="0.7"/>
<polygon points="111.1,203.8 113.3,201.1 116.5,200.0 120.8,200.0 123.5,201.6 120.8,204.9 117.6,207.6 114.3,210.2 112.2,209.7 111.0,207.0" fill="none" stroke="#303030" stroke-width="0.6"/>
<g fill="url(#dots)" stroke="none">
<circle cx="153.2" cy="91.8" r="20"/>
<circle cx="140.3" cy="116.4" r="11.8"/>
<circle cx="220.1" cy="136.9" r="15.4"/>
</g>
<g fill="url(#dots)" stroke="none" opacity="0.35">
<circle cx="190.4" cy="98.3" r="10.5"/>
</g>
<g fill="#5cb54c" stroke="#3d8a33" stroke-width="0.5">
<circle cx="132.4" cy="91.9" r="4"/>
<circle cx="151.9" cy="94" r="4"/>
<circle cx="161.4" cy="86.5" r="3.9"/>
<circle cx="137.3" cy="104.8" r="3.9"/>
<circle cx="163.7" cy="104.8" r="3.9"/>
<circle cx="149.2" cy="110.8" r="3.9"/>
<circle cx="138.9" cy="115.8" r="3.9"/>
<circle cx="180.9" cy="94" r="3.6"/>
<circle cx="178.8" cy="97.5" r="3"/>
<circle cx="176.9" cy="100.3" r="3.5"/>
<circle cx="187.8" cy="98.6" r="4"/>
<circle cx="220.5" cy="136.4" r="4"/>
<circle cx="232.3" cy="127" r="4"/>
<circle cx="132.6" cy="250.6" r="4.3"/>
</g>
<g fill="url(#dots)" stroke="none" opacity="0.9">
<circle cx="132.6" cy="250.6" r="4.3"/>
<circle cx="132.4" cy="91.9" r="4"/>
<circle cx="151.9" cy="94" r="4"/>
<circle cx="161.4" cy="86.5" r="3.9"/>
<circle cx="137.3" cy="104.8" r="3.9"/>
<circle cx="163.7" cy="104.8" r="3.9"/>
<circle cx="149.2" cy="110.8" r="3.9"/>
<circle cx="138.9" cy="115.8" r="3.9"/>
<circle cx="180.9" cy="94" r="3.6"/>
<circle cx="187.8" cy="98.6" r="4"/>
<circle cx="220.5" cy="136.4" r="4"/>
<circle cx="232.3" cy="127" r="4"/>
</g>
<g fill="none" stroke="#1e1e1e" stroke-width="0.8">
<circle cx="153.2" cy="91.8" r="20"/>
<circle cx="156" cy="95" r="13.5"/>
<circle cx="140.3" cy="116.4" r="11.8"/>
<circle cx="190.4" cy="98.3" r="10.5"/>
<circle cx="220.1" cy="136.9" r="15.4"/>
</g>

<rect x="406.25" y="72.35" width="13" height="33.15" fill="#5b9bd5"/>
<line x1="412.75" y1="73.55" x2="412.75" y2="67.80" stroke="#7a7a7a" stroke-width="1.15"/>
<line x1="410.35" y1="67.80" x2="415.15" y2="67.80" stroke="#7a7a7a" stroke-width="1.15"/>
<rect x="447.75" y="74.30" width="13" height="31.20" fill="#5b9bd5"/>
<line x1="454.25" y1="75.50" x2="454.25" y2="69.91" stroke="#7a7a7a" stroke-width="1.15"/>
<line x1="451.85" y1="69.91" x2="456.65" y2="69.91" stroke="#7a7a7a" stroke-width="1.15"/>
<rect x="489.25" y="73.33" width="13" height="32.17" fill="#5b9bd5"/>
<line x1="495.75" y1="74.53" x2="495.75" y2="68.78" stroke="#7a7a7a" stroke-width="1.15"/>
<line x1="493.35" y1="68.78" x2="498.15" y2="68.78" stroke="#7a7a7a" stroke-width="1.15"/>
<rect x="530.75" y="66.83" width="13" height="38.67" fill="#5b9bd5"/>
<line x1="537.25" y1="68.03" x2="537.25" y2="61.79" stroke="#7a7a7a" stroke-width="1.15"/>
<line x1="534.85" y1="61.79" x2="539.65" y2="61.79" stroke="#7a7a7a" stroke-width="1.15"/>
<path d="M537.50 50.00L537.50 56.00M534.90 51.50L540.10 54.50M540.10 51.50L534.90 54.50" stroke="#111" stroke-width="1.35" stroke-linecap="round"/>
<rect x="572.25" y="50.58" width="13" height="54.92" fill="#5b9bd5"/>
<line x1="578.75" y1="51.78" x2="578.75" y2="42.77" stroke="#7a7a7a" stroke-width="1.15"/>
<line x1="576.35" y1="42.77" x2="581.15" y2="42.77" stroke="#7a7a7a" stroke-width="1.15"/>
<path d="M577.70 31.80L577.70 37.80M575.10 33.30L580.30 36.30M580.30 33.30L575.10 36.30" stroke="#111" stroke-width="1.35" stroke-linecap="round"/>
<rect x="613.75" y="36.92" width="13" height="68.58" fill="#5b9bd5"/>
<line x1="620.25" y1="38.12" x2="620.25" y2="26.85" stroke="#7a7a7a" stroke-width="1.15"/>
<line x1="617.85" y1="26.85" x2="622.65" y2="26.85" stroke="#7a7a7a" stroke-width="1.15"/>
<path d="M619.90 15.80L619.90 21.80M617.30 17.30L622.50 20.30M622.50 17.30L617.30 20.30" stroke="#111" stroke-width="1.35" stroke-linecap="round"/>
<rect x="655.25" y="38.23" width="13" height="67.27" fill="#5b9bd5"/>
<line x1="661.75" y1="39.43" x2="661.75" y2="22.95" stroke="#7a7a7a" stroke-width="1.15"/>
<line x1="659.35" y1="22.95" x2="664.15" y2="22.95" stroke="#7a7a7a" stroke-width="1.15"/>
<path d="M662.00 12.50L662.00 18.50M659.40 14.00L664.60 17.00M664.60 14.00L659.40 17.00" stroke="#111" stroke-width="1.35" stroke-linecap="round"/>
<line x1="350.5" y1="7.5" x2="350.5" y2="106.1" stroke="#737373" stroke-width="1.15"/>
<line x1="349.95" y1="105.5" x2="683" y2="105.5" stroke="#737373" stroke-width="1.15"/>
<text x="343.4" y="107.80" font-size="8.6" font-weight="bold" text-anchor="end">0</text>
<text x="343.4" y="91.55" font-size="8.6" font-weight="bold" text-anchor="end" textLength="10.32" lengthAdjust="spacingAndGlyphs">0,5</text>
<text x="343.4" y="75.30" font-size="8.6" font-weight="bold" text-anchor="end">1</text>
<text x="343.4" y="59.05" font-size="8.6" font-weight="bold" text-anchor="end" textLength="10.32" lengthAdjust="spacingAndGlyphs">1,5</text>
<text x="343.4" y="42.80" font-size="8.6" font-weight="bold" text-anchor="end">2</text>
<text x="343.4" y="26.55" font-size="8.6" font-weight="bold" text-anchor="end" textLength="10.32" lengthAdjust="spacingAndGlyphs">2,5</text>
<text x="343.4" y="10.30" font-size="8.6" font-weight="bold" text-anchor="end">3</text>
<text x="371.25" y="118.20" font-size="9.3" font-weight="bold" text-anchor="middle" textLength="18.2" lengthAdjust="spacingAndGlyphs">10-14</text>
<text x="412.75" y="118.20" font-size="9.3" font-weight="bold" text-anchor="middle" textLength="18.2" lengthAdjust="spacingAndGlyphs">15-19</text>
<text x="454.25" y="118.20" font-size="9.3" font-weight="bold" text-anchor="middle" textLength="18.2" lengthAdjust="spacingAndGlyphs">20-24</text>
<text x="495.75" y="118.20" font-size="9.3" font-weight="bold" text-anchor="middle" textLength="18.2" lengthAdjust="spacingAndGlyphs">25-29</text>
<text x="537.25" y="118.20" font-size="9.3" font-weight="bold" text-anchor="middle" textLength="18.2" lengthAdjust="spacingAndGlyphs">30-34</text>
<text x="578.75" y="118.20" font-size="9.3" font-weight="bold" text-anchor="middle" textLength="18.2" lengthAdjust="spacingAndGlyphs">35-39</text>
<text x="620.25" y="118.20" font-size="9.3" font-weight="bold" text-anchor="middle" textLength="18.2" lengthAdjust="spacingAndGlyphs">40-44</text>
<text x="661.75" y="118.20" font-size="9.3" font-weight="bold" text-anchor="middle" textLength="18.2" lengthAdjust="spacingAndGlyphs">45-49</text>
<text x="366.1" y="93.3" font-size="10.5" font-weight="bold" textLength="12.6" lengthAdjust="spacingAndGlyphs">RC</text>
<rect x="407.25" y="183.54" width="13" height="54.96" fill="#ed7d31"/>
<line x1="413.75" y1="184.74" x2="413.75" y2="158.02" stroke="#7a7a7a" stroke-width="1.15"/>
<line x1="411.35" y1="158.02" x2="416.15" y2="158.02" stroke="#7a7a7a" stroke-width="1.15"/>
<path d="M414.10 147.30L414.10 153.30M411.50 148.80L416.70 151.80M416.70 148.80L411.50 151.80" stroke="#111" stroke-width="1.35" stroke-linecap="round"/>
<rect x="448.75" y="207.57" width="13" height="30.93" fill="#ed7d31"/>
<line x1="455.25" y1="208.77" x2="455.25" y2="184.29" stroke="#7a7a7a" stroke-width="1.15"/>
<line x1="452.85" y1="184.29" x2="457.65" y2="184.29" stroke="#7a7a7a" stroke-width="1.15"/>
<path d="M455.70 172.30L455.70 178.30M453.10 173.80L458.30 176.80M458.30 173.80L453.10 176.80" stroke="#111" stroke-width="1.35" stroke-linecap="round"/>
<rect x="490.25" y="220.43" width="13" height="18.07" fill="#ed7d31"/>
<line x1="496.75" y1="221.63" x2="496.75" y2="196.02" stroke="#7a7a7a" stroke-width="1.15"/>
<line x1="494.35" y1="196.02" x2="499.15" y2="196.02" stroke="#7a7a7a" stroke-width="1.15"/>
<path d="M497.10 185.50L497.10 191.50M494.50 187.00L499.70 190.00M499.70 187.00L494.50 190.00" stroke="#111" stroke-width="1.35" stroke-linecap="round"/>
<rect x="531.75" y="218.38" width="13" height="20.12" fill="#ed7d31"/>
<line x1="538.25" y1="219.58" x2="538.25" y2="188.94" stroke="#7a7a7a" stroke-width="1.15"/>
<line x1="535.85" y1="188.94" x2="540.65" y2="188.94" stroke="#7a7a7a" stroke-width="1.15"/>
<path d="M538.60 178.10L538.60 184.10M536.00 179.60L541.20 182.60M541.20 179.60L536.00 182.60" stroke="#111" stroke-width="1.35" stroke-linecap="round"/>
<rect x="573.25" y="217.08" width="13" height="21.42" fill="#ed7d31"/>
<line x1="579.75" y1="218.28" x2="579.75" y2="174.60" stroke="#7a7a7a" stroke-width="1.15"/>
<line x1="577.35" y1="174.60" x2="582.15" y2="174.60" stroke="#7a7a7a" stroke-width="1.15"/>
<path d="M580.20 163.80L580.20 169.80M577.60 165.30L582.80 168.30M582.80 165.30L577.60 168.30" stroke="#111" stroke-width="1.35" stroke-linecap="round"/>
<rect x="614.75" y="199.56" width="13" height="38.94" fill="#ed7d31"/>
<line x1="621.25" y1="200.76" x2="621.25" y2="143.49" stroke="#7a7a7a" stroke-width="1.15"/>
<line x1="618.85" y1="143.49" x2="623.65" y2="143.49" stroke="#7a7a7a" stroke-width="1.15"/>
<path d="M621.90 134.60L621.90 140.60M619.30 136.10L624.50 139.10M624.50 136.10L619.30 139.10" stroke="#111" stroke-width="1.35" stroke-linecap="round"/>
<rect x="656.25" y="227.69" width="13" height="10.81" fill="#ed7d31"/>
<line x1="662.75" y1="228.89" x2="662.75" y2="142.74" stroke="#7a7a7a" stroke-width="1.15"/>
<line x1="660.35" y1="142.74" x2="665.15" y2="142.74" stroke="#7a7a7a" stroke-width="1.15"/>
<path d="M663.20 132.90L663.20 138.90M660.60 134.40L665.80 137.40M665.80 134.40L660.60 137.40" stroke="#111" stroke-width="1.35" stroke-linecap="round"/>
<line x1="351.5" y1="126.7" x2="351.5" y2="239.1" stroke="#737373" stroke-width="1.15"/>
<line x1="350.95" y1="238.5" x2="684" y2="238.5" stroke="#737373" stroke-width="1.15"/>
<text x="344.6" y="240.50" font-size="8" font-weight="bold" text-anchor="end">0</text>
<text x="344.6" y="221.87" font-size="8" font-weight="bold" text-anchor="end" textLength="9.60" lengthAdjust="spacingAndGlyphs">0,1</text>
<text x="344.6" y="203.24" font-size="8" font-weight="bold" text-anchor="end" textLength="9.60" lengthAdjust="spacingAndGlyphs">0,2</text>
<text x="344.6" y="184.61" font-size="8" font-weight="bold" text-anchor="end" textLength="9.60" lengthAdjust="spacingAndGlyphs">0,3</text>
<text x="344.6" y="165.98" font-size="8" font-weight="bold" text-anchor="end" textLength="9.60" lengthAdjust="spacingAndGlyphs">0,4</text>
<text x="344.6" y="147.35" font-size="8" font-weight="bold" text-anchor="end" textLength="9.60" lengthAdjust="spacingAndGlyphs">0,5</text>
<text x="344.6" y="128.72" font-size="8" font-weight="bold" text-anchor="end" textLength="9.60" lengthAdjust="spacingAndGlyphs">0,6</text>
<text x="372.25" y="251.70" font-size="9.3" font-weight="bold" text-anchor="middle" textLength="18.8" lengthAdjust="spacingAndGlyphs">10-14</text>
<text x="413.75" y="251.70" font-size="9.3" font-weight="bold" text-anchor="middle" textLength="18.8" lengthAdjust="spacingAndGlyphs">15-19</text>
<text x="455.25" y="251.70" font-size="9.3" font-weight="bold" text-anchor="middle" textLength="18.8" lengthAdjust="spacingAndGlyphs">20-24</text>
<text x="496.75" y="251.70" font-size="9.3" font-weight="bold" text-anchor="middle" textLength="18.8" lengthAdjust="spacingAndGlyphs">25-29</text>
<text x="538.25" y="251.70" font-size="9.3" font-weight="bold" text-anchor="middle" textLength="18.8" lengthAdjust="spacingAndGlyphs">30-34</text>
<text x="579.75" y="251.70" font-size="9.3" font-weight="bold" text-anchor="middle" textLength="18.8" lengthAdjust="spacingAndGlyphs">35-39</text>
<text x="621.25" y="251.70" font-size="9.3" font-weight="bold" text-anchor="middle" textLength="18.8" lengthAdjust="spacingAndGlyphs">40-44</text>
<text x="662.75" y="251.70" font-size="9.3" font-weight="bold" text-anchor="middle" textLength="18.8" lengthAdjust="spacingAndGlyphs">45-49</text>
<text x="367.8" y="225.8" font-size="10.5" font-weight="bold" textLength="13.4" lengthAdjust="spacingAndGlyphs">RC</text>
<text transform="translate(325.6,83.2) rotate(-90)" font-size="14" font-weight="bold" textLength="52.4" lengthAdjust="spacingAndGlyphs">OR (PEC)</text>
<text transform="translate(326.5,200) rotate(-90)" font-size="14" font-weight="bold" textLength="44.5" lengthAdjust="spacingAndGlyphs">OR (EC)</text>
<text x="457.9" y="275" font-size="14.5" font-weight="bold" textLength="116.4" lengthAdjust="spacingAndGlyphs">Maternal Age (yrs)</text>
<text x="4.5" y="28.3" font-size="11.3" textLength="174" lengthAdjust="spacingAndGlyphs">Afro-Ecuadorian deliveries / 10000</text>
<rect x="6.2" y="34.6" width="22.8" height="11.1" fill="#ebebf4" stroke="#000" stroke-width="1.8"/>
<text x="35" y="44.3" font-size="11.2" textLength="28.2" lengthAdjust="spacingAndGlyphs">0 - 27</text>
<rect x="6.2" y="50.1" width="22.8" height="11.1" fill="#d6c7b8" stroke="#000" stroke-width="1.8"/>
<text x="35" y="59.8" font-size="11.2" textLength="40.7" lengthAdjust="spacingAndGlyphs">27 - 118</text>
<rect x="6.2" y="65.6" width="22.8" height="11.1" fill="#c2a383" stroke="#000" stroke-width="1.8"/>
<text x="35" y="75.3" font-size="11.2" textLength="55" lengthAdjust="spacingAndGlyphs">118 - 2308</text>
<rect x="6.2" y="81.3" width="22.8" height="11.1" fill="#a87a4a" stroke="#000" stroke-width="1.8"/>
<text x="35" y="91.0" font-size="11.2" textLength="61.4" lengthAdjust="spacingAndGlyphs">2308 - 7061</text>
<rect x="101.1" y="2.2" width="22.6" height="10.2" fill="#fff" stroke="#000" stroke-width="1.6"/>
<circle cx="105.9" cy="7.4" r="1.25" fill="#000"/>
<circle cx="112.9" cy="7.4" r="1.25" fill="#000"/>
<circle cx="120.0" cy="7.4" r="1.25" fill="#000"/>
<text x="127.4" y="11.4" font-size="11.2" textLength="73.6" lengthAdjust="spacingAndGlyphs">Spacial Cluster</text>
<circle cx="213.8" cy="6.7" r="5.6" fill="#5cb54c" stroke="#3f8a35" stroke-width="0.8"/>
<circle cx="169.6" cy="5.5" r="1.2" fill="#111"/>
<circle cx="1.5" cy="73.3" r="0.6" fill="#555"/>
<text x="223.1" y="10.2" font-size="11.2" textLength="77.9" lengthAdjust="spacingAndGlyphs">Cluster location</text>
<text x="133.8" y="64.9" font-size="11.4" font-weight="bold" textLength="92.7" lengthAdjust="spacingAndGlyphs">Altitude &lt; 1500 m</text>
<text x="185.7" y="82.7" font-size="11.4" font-weight="bold" textLength="113.9" lengthAdjust="spacingAndGlyphs">Altitude 1500-3500 m</text>
</svg>
</body></html>
